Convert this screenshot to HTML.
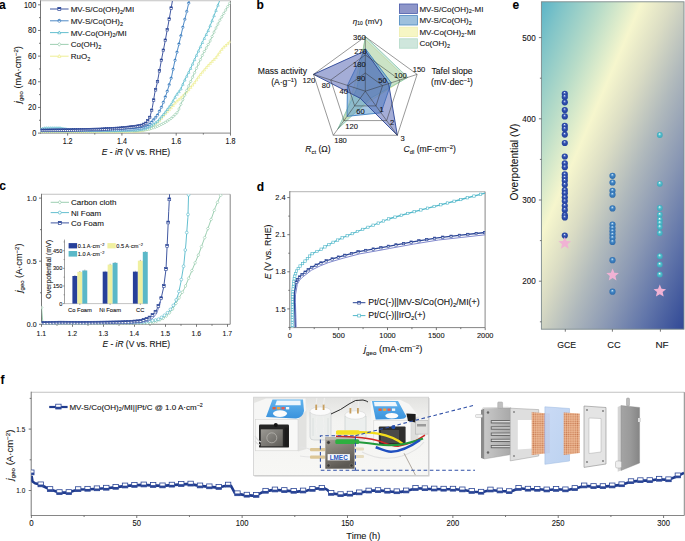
<!DOCTYPE html><html><head><meta charset="utf-8"><style>html,body{margin:0;padding:0;background:#fff;}body{width:685px;height:541px;overflow:hidden;}svg{display:block;font-family:"Liberation Sans", sans-serif;}text{stroke:#222;stroke-width:0.1px;}</style></head><body>
<svg width="685" height="541" viewBox="0 0 685 541">
<defs><clipPath id="clipA"><rect x="40.5" y="0.8" width="190" height="132.3"/></clipPath><clipPath id="clipC"><rect x="41.5" y="194.3" width="188.7" height="130"/></clipPath><clipPath id="clipD"><rect x="289.8" y="191.6" width="195.3" height="136"/></clipPath><clipPath id="clipF"><rect x="31.2" y="392" width="653" height="123.5"/></clipPath><linearGradient id="gE" gradientUnits="userSpaceOnUse" x1="557.5" y1="-36.5" x2="796.9" y2="66.4"><stop offset="0" stop-color="#5ab4c8"/><stop offset="0.08" stop-color="#80c4c8"/><stop offset="0.218" stop-color="#b8dcc8"/><stop offset="0.355" stop-color="#f6f6cd"/><stop offset="0.463" stop-color="#dadcc4"/><stop offset="0.589" stop-color="#b0b9bc"/><stop offset="0.72" stop-color="#8a98b4"/><stop offset="0.843" stop-color="#6276aa"/><stop offset="1" stop-color="#304896"/></linearGradient><radialGradient id="sGCE" cx="0.5" cy="0.5" r="0.55" fx="0.45" fy="0.3"><stop offset="0" stop-color="#f0f4ff"/><stop offset="0.22" stop-color="#6a84cc"/><stop offset="0.45" stop-color="#2f4ead"/><stop offset="1" stop-color="#223f98"/></radialGradient><radialGradient id="sCC" cx="0.5" cy="0.5" r="0.55" fx="0.45" fy="0.3"><stop offset="0" stop-color="#f4faff"/><stop offset="0.22" stop-color="#7ab0dc"/><stop offset="0.45" stop-color="#3f82c2"/><stop offset="1" stop-color="#2e6aa8"/></radialGradient><radialGradient id="sNF" cx="0.5" cy="0.5" r="0.55" fx="0.45" fy="0.3"><stop offset="0" stop-color="#ffffff"/><stop offset="0.22" stop-color="#9adce4"/><stop offset="0.45" stop-color="#52bccb"/><stop offset="1" stop-color="#38a6b8"/></radialGradient></defs>
<text x="-1.00" y="8.80" font-size="12" text-anchor="start" font-weight="bold" fill="#000" >a</text>
<line x1="40.50" y1="0.80" x2="230.50" y2="0.80" stroke="#c2c2c2" stroke-width="1.14" />
<line x1="230.50" y1="0.80" x2="230.50" y2="133.10" stroke="#808080" stroke-width="0.95" />
<line x1="40.50" y1="133.10" x2="230.50" y2="133.10" stroke="#808080" stroke-width="0.95" />
<line x1="40.50" y1="0.30" x2="40.50" y2="133.55" stroke="#707070" stroke-width="0.95" />
<line x1="67.64" y1="133.10" x2="67.64" y2="135.60" stroke="#555" stroke-width="0.8" />
<text x="67.64" y="143.80" font-size="8.4" text-anchor="middle" font-weight="normal" fill="#111" textLength="9.87" lengthAdjust="spacingAndGlyphs">1.2</text>
<line x1="121.92" y1="133.10" x2="121.92" y2="135.60" stroke="#555" stroke-width="0.8" />
<text x="121.92" y="143.80" font-size="8.4" text-anchor="middle" font-weight="normal" fill="#111" textLength="9.87" lengthAdjust="spacingAndGlyphs">1.4</text>
<line x1="176.20" y1="133.10" x2="176.20" y2="135.60" stroke="#555" stroke-width="0.8" />
<text x="176.20" y="143.80" font-size="8.4" text-anchor="middle" font-weight="normal" fill="#111" textLength="9.87" lengthAdjust="spacingAndGlyphs">1.6</text>
<line x1="230.48" y1="133.10" x2="230.48" y2="135.60" stroke="#555" stroke-width="0.8" />
<text x="230.48" y="143.80" font-size="8.4" text-anchor="middle" font-weight="normal" fill="#111" textLength="9.87" lengthAdjust="spacingAndGlyphs">1.8</text>
<line x1="94.78" y1="133.10" x2="94.78" y2="134.60" stroke="#555" stroke-width="0.8" />
<line x1="149.06" y1="133.10" x2="149.06" y2="134.60" stroke="#555" stroke-width="0.8" />
<line x1="203.34" y1="133.10" x2="203.34" y2="134.60" stroke="#555" stroke-width="0.8" />
<line x1="40.50" y1="133.10" x2="38.00" y2="133.10" stroke="#555" stroke-width="0.8" />
<text x="36.20" y="136.10" font-size="8.3" text-anchor="end" font-weight="normal" fill="#111" textLength="4.06" lengthAdjust="spacingAndGlyphs">0</text>
<line x1="40.50" y1="107.44" x2="38.00" y2="107.44" stroke="#555" stroke-width="0.8" />
<text x="36.20" y="110.44" font-size="8.3" text-anchor="end" font-weight="normal" fill="#111" textLength="8.12" lengthAdjust="spacingAndGlyphs">20</text>
<line x1="40.50" y1="81.78" x2="38.00" y2="81.78" stroke="#555" stroke-width="0.8" />
<text x="36.20" y="84.78" font-size="8.3" text-anchor="end" font-weight="normal" fill="#111" textLength="8.12" lengthAdjust="spacingAndGlyphs">40</text>
<line x1="40.50" y1="56.12" x2="38.00" y2="56.12" stroke="#555" stroke-width="0.8" />
<text x="36.20" y="59.12" font-size="8.3" text-anchor="end" font-weight="normal" fill="#111" textLength="8.12" lengthAdjust="spacingAndGlyphs">60</text>
<line x1="40.50" y1="30.46" x2="38.00" y2="30.46" stroke="#555" stroke-width="0.8" />
<text x="36.20" y="33.46" font-size="8.3" text-anchor="end" font-weight="normal" fill="#111" textLength="8.12" lengthAdjust="spacingAndGlyphs">80</text>
<line x1="40.50" y1="4.80" x2="38.00" y2="4.80" stroke="#555" stroke-width="0.8" />
<text x="36.20" y="7.80" font-size="8.3" text-anchor="end" font-weight="normal" fill="#111" textLength="12.18" lengthAdjust="spacingAndGlyphs">100</text>
<line x1="40.50" y1="120.27" x2="39.00" y2="120.27" stroke="#555" stroke-width="0.8" />
<line x1="40.50" y1="94.61" x2="39.00" y2="94.61" stroke="#555" stroke-width="0.8" />
<line x1="40.50" y1="68.95" x2="39.00" y2="68.95" stroke="#555" stroke-width="0.8" />
<line x1="40.50" y1="43.29" x2="39.00" y2="43.29" stroke="#555" stroke-width="0.8" />
<line x1="40.50" y1="17.63" x2="39.00" y2="17.63" stroke="#555" stroke-width="0.8" />
<text x="135.90" y="155.00" font-size="8.5" text-anchor="middle" font-weight="normal" fill="#111" ><tspan font-style="italic">E</tspan> - <tspan font-style="italic">iR</tspan> (V vs. RHE)</text>
<g transform="translate(21.3,74.6) rotate(-90)">
<text x="0.00" y="0.00" font-size="9.3" text-anchor="middle" font-weight="normal" fill="#111" ><tspan font-style="italic">j</tspan><tspan dy="2" font-size="6">geo</tspan><tspan dy="-2">&#8203;</tspan> (mA·cm<tspan dy="-3.4" font-size="6">−2</tspan><tspan dy="3.4">&#8203;</tspan>)</text>
</g>
<g clip-path="url(#clipA)">
<polyline points="40.50,131.60 120.00,131.40 140.00,131.00 150.00,128.50 159.60,120.50 164.40,114.50 171.60,107.30 175.90,102.00 181.30,97.40 187.80,90.90 194.20,83.10 200.70,74.00 208.50,65.00 216.30,57.20 222.70,48.10 230.50,41.20" fill="none" stroke="#ecec88" stroke-width="0.9" stroke-linejoin="round" />
<polygon points="40.50,130.22 41.75,132.60 39.25,132.60" fill="#fff" stroke="#ecec88" stroke-width="0.6"/>
<polygon points="42.45,130.22 43.70,132.60 41.20,132.60" fill="#fff" stroke="#ecec88" stroke-width="0.6"/>
<polygon points="44.40,130.22 45.65,132.59 43.15,132.59" fill="#fff" stroke="#ecec88" stroke-width="0.6"/>
<polygon points="46.35,130.21 47.60,132.59 45.10,132.59" fill="#fff" stroke="#ecec88" stroke-width="0.6"/>
<polygon points="48.30,130.21 49.55,132.58 47.05,132.58" fill="#fff" stroke="#ecec88" stroke-width="0.6"/>
<polygon points="50.25,130.20 51.50,132.58 49.00,132.58" fill="#fff" stroke="#ecec88" stroke-width="0.6"/>
<polygon points="52.20,130.20 53.45,132.57 50.95,132.57" fill="#fff" stroke="#ecec88" stroke-width="0.6"/>
<polygon points="54.15,130.19 55.40,132.57 52.90,132.57" fill="#fff" stroke="#ecec88" stroke-width="0.6"/>
<polygon points="56.10,130.19 57.35,132.56 54.85,132.56" fill="#fff" stroke="#ecec88" stroke-width="0.6"/>
<polygon points="58.05,130.18 59.30,132.56 56.80,132.56" fill="#fff" stroke="#ecec88" stroke-width="0.6"/>
<polygon points="60.00,130.18 61.25,132.55 58.75,132.55" fill="#fff" stroke="#ecec88" stroke-width="0.6"/>
<polygon points="61.95,130.17 63.20,132.55 60.70,132.55" fill="#fff" stroke="#ecec88" stroke-width="0.6"/>
<polygon points="63.90,130.17 65.15,132.54 62.65,132.54" fill="#fff" stroke="#ecec88" stroke-width="0.6"/>
<polygon points="65.85,130.16 67.10,132.54 64.60,132.54" fill="#fff" stroke="#ecec88" stroke-width="0.6"/>
<polygon points="67.80,130.16 69.05,132.53 66.55,132.53" fill="#fff" stroke="#ecec88" stroke-width="0.6"/>
<polygon points="69.75,130.15 71.00,132.53 68.50,132.53" fill="#fff" stroke="#ecec88" stroke-width="0.6"/>
<polygon points="71.70,130.15 72.95,132.52 70.45,132.52" fill="#fff" stroke="#ecec88" stroke-width="0.6"/>
<polygon points="73.65,130.14 74.90,132.52 72.40,132.52" fill="#fff" stroke="#ecec88" stroke-width="0.6"/>
<polygon points="75.60,130.14 76.85,132.51 74.35,132.51" fill="#fff" stroke="#ecec88" stroke-width="0.6"/>
<polygon points="77.55,130.13 78.80,132.51 76.30,132.51" fill="#fff" stroke="#ecec88" stroke-width="0.6"/>
<polygon points="79.50,130.13 80.75,132.50 78.25,132.50" fill="#fff" stroke="#ecec88" stroke-width="0.6"/>
<polygon points="81.45,130.12 82.70,132.50 80.20,132.50" fill="#fff" stroke="#ecec88" stroke-width="0.6"/>
<polygon points="83.40,130.12 84.65,132.49 82.15,132.49" fill="#fff" stroke="#ecec88" stroke-width="0.6"/>
<polygon points="85.35,130.11 86.60,132.49 84.10,132.49" fill="#fff" stroke="#ecec88" stroke-width="0.6"/>
<polygon points="87.30,130.11 88.55,132.48 86.05,132.48" fill="#fff" stroke="#ecec88" stroke-width="0.6"/>
<polygon points="89.25,130.10 90.50,132.48 88.00,132.48" fill="#fff" stroke="#ecec88" stroke-width="0.6"/>
<polygon points="91.20,130.10 92.45,132.47 89.95,132.47" fill="#fff" stroke="#ecec88" stroke-width="0.6"/>
<polygon points="93.15,130.09 94.40,132.47 91.90,132.47" fill="#fff" stroke="#ecec88" stroke-width="0.6"/>
<polygon points="95.10,130.09 96.35,132.46 93.85,132.46" fill="#fff" stroke="#ecec88" stroke-width="0.6"/>
<polygon points="97.05,130.08 98.30,132.46 95.80,132.46" fill="#fff" stroke="#ecec88" stroke-width="0.6"/>
<polygon points="99.00,130.08 100.25,132.45 97.75,132.45" fill="#fff" stroke="#ecec88" stroke-width="0.6"/>
<polygon points="100.95,130.07 102.20,132.45 99.70,132.45" fill="#fff" stroke="#ecec88" stroke-width="0.6"/>
<polygon points="102.90,130.07 104.15,132.44 101.65,132.44" fill="#fff" stroke="#ecec88" stroke-width="0.6"/>
<polygon points="104.85,130.06 106.10,132.44 103.60,132.44" fill="#fff" stroke="#ecec88" stroke-width="0.6"/>
<polygon points="106.80,130.06 108.05,132.43 105.55,132.43" fill="#fff" stroke="#ecec88" stroke-width="0.6"/>
<polygon points="108.75,130.05 110.00,132.43 107.50,132.43" fill="#fff" stroke="#ecec88" stroke-width="0.6"/>
<polygon points="110.70,130.05 111.95,132.42 109.45,132.42" fill="#fff" stroke="#ecec88" stroke-width="0.6"/>
<polygon points="112.65,130.04 113.90,132.42 111.40,132.42" fill="#fff" stroke="#ecec88" stroke-width="0.6"/>
<polygon points="114.60,130.04 115.85,132.41 113.35,132.41" fill="#fff" stroke="#ecec88" stroke-width="0.6"/>
<polygon points="116.55,130.03 117.80,132.41 115.30,132.41" fill="#fff" stroke="#ecec88" stroke-width="0.6"/>
<polygon points="118.50,130.03 119.75,132.40 117.25,132.40" fill="#fff" stroke="#ecec88" stroke-width="0.6"/>
<polygon points="120.45,130.02 121.70,132.39 119.20,132.39" fill="#fff" stroke="#ecec88" stroke-width="0.6"/>
<polygon points="122.40,129.98 123.65,132.35 121.15,132.35" fill="#fff" stroke="#ecec88" stroke-width="0.6"/>
<polygon points="124.35,129.94 125.60,132.31 123.10,132.31" fill="#fff" stroke="#ecec88" stroke-width="0.6"/>
<polygon points="126.30,129.90 127.55,132.27 125.05,132.27" fill="#fff" stroke="#ecec88" stroke-width="0.6"/>
<polygon points="128.25,129.86 129.50,132.24 127.00,132.24" fill="#fff" stroke="#ecec88" stroke-width="0.6"/>
<polygon points="130.20,129.82 131.45,132.20 128.95,132.20" fill="#fff" stroke="#ecec88" stroke-width="0.6"/>
<polygon points="132.15,129.78 133.40,132.16 130.90,132.16" fill="#fff" stroke="#ecec88" stroke-width="0.6"/>
<polygon points="134.10,129.74 135.35,132.12 132.85,132.12" fill="#fff" stroke="#ecec88" stroke-width="0.6"/>
<polygon points="136.05,129.70 137.30,132.08 134.80,132.08" fill="#fff" stroke="#ecec88" stroke-width="0.6"/>
<polygon points="138.00,129.66 139.25,132.04 136.75,132.04" fill="#fff" stroke="#ecec88" stroke-width="0.6"/>
<polygon points="139.95,129.63 141.20,132.00 138.70,132.00" fill="#fff" stroke="#ecec88" stroke-width="0.6"/>
<polygon points="141.90,129.15 143.15,131.52 140.65,131.52" fill="#fff" stroke="#ecec88" stroke-width="0.6"/>
<polygon points="143.85,128.66 145.10,131.04 142.60,131.04" fill="#fff" stroke="#ecec88" stroke-width="0.6"/>
<polygon points="145.80,128.18 147.05,130.55 144.55,130.55" fill="#fff" stroke="#ecec88" stroke-width="0.6"/>
<polygon points="147.75,127.69 149.00,130.06 146.50,130.06" fill="#fff" stroke="#ecec88" stroke-width="0.6"/>
<polygon points="149.70,127.20 150.95,129.57 148.45,129.57" fill="#fff" stroke="#ecec88" stroke-width="0.6"/>
<polygon points="151.65,125.75 152.90,128.12 150.40,128.12" fill="#fff" stroke="#ecec88" stroke-width="0.6"/>
<polygon points="153.60,124.13 154.85,126.50 152.35,126.50" fill="#fff" stroke="#ecec88" stroke-width="0.6"/>
<polygon points="155.55,122.50 156.80,124.88 154.30,124.88" fill="#fff" stroke="#ecec88" stroke-width="0.6"/>
<polygon points="157.50,120.88 158.75,123.25 156.25,123.25" fill="#fff" stroke="#ecec88" stroke-width="0.6"/>
<polygon points="159.45,119.25 160.70,121.63 158.20,121.63" fill="#fff" stroke="#ecec88" stroke-width="0.6"/>
<polygon points="161.40,116.88 162.65,119.25 160.15,119.25" fill="#fff" stroke="#ecec88" stroke-width="0.6"/>
<polygon points="163.35,114.44 164.60,116.81 162.10,116.81" fill="#fff" stroke="#ecec88" stroke-width="0.6"/>
<polygon points="165.30,112.23 166.55,114.60 164.05,114.60" fill="#fff" stroke="#ecec88" stroke-width="0.6"/>
<polygon points="167.25,110.28 168.50,112.65 166.00,112.65" fill="#fff" stroke="#ecec88" stroke-width="0.6"/>
<polygon points="169.20,108.33 170.45,110.70 167.95,110.70" fill="#fff" stroke="#ecec88" stroke-width="0.6"/>
<polygon points="171.15,106.38 172.40,108.75 169.90,108.75" fill="#fff" stroke="#ecec88" stroke-width="0.6"/>
<polygon points="173.10,104.08 174.35,106.45 171.85,106.45" fill="#fff" stroke="#ecec88" stroke-width="0.6"/>
<polygon points="175.05,101.67 176.30,104.05 173.80,104.05" fill="#fff" stroke="#ecec88" stroke-width="0.6"/>
<polygon points="177.00,99.69 178.25,102.06 175.75,102.06" fill="#fff" stroke="#ecec88" stroke-width="0.6"/>
<polygon points="178.95,98.03 180.20,100.40 177.70,100.40" fill="#fff" stroke="#ecec88" stroke-width="0.6"/>
<polygon points="180.90,96.37 182.15,98.74 179.65,98.74" fill="#fff" stroke="#ecec88" stroke-width="0.6"/>
<polygon points="182.85,94.48 184.10,96.85 181.60,96.85" fill="#fff" stroke="#ecec88" stroke-width="0.6"/>
<polygon points="184.80,92.53 186.05,94.90 183.55,94.90" fill="#fff" stroke="#ecec88" stroke-width="0.6"/>
<polygon points="186.75,90.58 188.00,92.95 185.50,92.95" fill="#fff" stroke="#ecec88" stroke-width="0.6"/>
<polygon points="188.70,88.43 189.95,90.80 187.45,90.80" fill="#fff" stroke="#ecec88" stroke-width="0.6"/>
<polygon points="190.65,86.05 191.90,88.43 189.40,88.43" fill="#fff" stroke="#ecec88" stroke-width="0.6"/>
<polygon points="192.60,83.68 193.85,86.05 191.35,86.05" fill="#fff" stroke="#ecec88" stroke-width="0.6"/>
<polygon points="194.55,81.24 195.80,83.61 193.30,83.61" fill="#fff" stroke="#ecec88" stroke-width="0.6"/>
<polygon points="196.50,78.51 197.75,80.88 195.25,80.88" fill="#fff" stroke="#ecec88" stroke-width="0.6"/>
<polygon points="198.45,75.78 199.70,78.15 197.20,78.15" fill="#fff" stroke="#ecec88" stroke-width="0.6"/>
<polygon points="200.40,73.05 201.65,75.42 199.15,75.42" fill="#fff" stroke="#ecec88" stroke-width="0.6"/>
<polygon points="202.35,70.72 203.60,73.10 201.10,73.10" fill="#fff" stroke="#ecec88" stroke-width="0.6"/>
<polygon points="204.30,68.47 205.55,70.85 203.05,70.85" fill="#fff" stroke="#ecec88" stroke-width="0.6"/>
<polygon points="206.25,66.22 207.50,68.60 205.00,68.60" fill="#fff" stroke="#ecec88" stroke-width="0.6"/>
<polygon points="208.20,63.97 209.45,66.35 206.95,66.35" fill="#fff" stroke="#ecec88" stroke-width="0.6"/>
<polygon points="210.15,61.98 211.40,64.35 208.90,64.35" fill="#fff" stroke="#ecec88" stroke-width="0.6"/>
<polygon points="212.10,60.03 213.35,62.40 210.85,62.40" fill="#fff" stroke="#ecec88" stroke-width="0.6"/>
<polygon points="214.05,58.08 215.30,60.45 212.80,60.45" fill="#fff" stroke="#ecec88" stroke-width="0.6"/>
<polygon points="216.00,56.13 217.25,58.50 214.75,58.50" fill="#fff" stroke="#ecec88" stroke-width="0.6"/>
<polygon points="217.95,53.48 219.20,55.85 216.70,55.85" fill="#fff" stroke="#ecec88" stroke-width="0.6"/>
<polygon points="219.90,50.71 221.15,53.08 218.65,53.08" fill="#fff" stroke="#ecec88" stroke-width="0.6"/>
<polygon points="221.85,47.93 223.10,50.31 220.60,50.31" fill="#fff" stroke="#ecec88" stroke-width="0.6"/>
<polygon points="223.80,45.75 225.05,48.13 222.55,48.13" fill="#fff" stroke="#ecec88" stroke-width="0.6"/>
<polygon points="225.75,44.03 227.00,46.40 224.50,46.40" fill="#fff" stroke="#ecec88" stroke-width="0.6"/>
<polygon points="227.70,42.30 228.95,44.68 226.45,44.68" fill="#fff" stroke="#ecec88" stroke-width="0.6"/>
<polygon points="229.65,40.58 230.90,42.95 228.40,42.95" fill="#fff" stroke="#ecec88" stroke-width="0.6"/>
</g>
<g clip-path="url(#clipA)">
<polyline points="40.50,131.10 100.00,131.10 135.00,130.70 145.00,129.90 150.00,128.90 157.20,126.50 164.40,122.90 171.60,118.10 177.70,112.10 181.00,104.00 183.90,97.40 186.50,90.90 191.70,79.20 196.80,67.60 203.30,53.30 209.80,41.70 215.00,30.00 220.00,20.00 224.70,11.80 229.80,3.00" fill="none" stroke="#92c9a9" stroke-width="0.9" stroke-linejoin="round" />
<polygon points="40.50,129.60 41.75,131.10 40.50,132.60 39.25,131.10" fill="#fff" stroke="#92c9a9" stroke-width="0.6"/>
<polygon points="42.45,129.60 43.70,131.10 42.45,132.60 41.20,131.10" fill="#fff" stroke="#92c9a9" stroke-width="0.6"/>
<polygon points="44.40,129.60 45.65,131.10 44.40,132.60 43.15,131.10" fill="#fff" stroke="#92c9a9" stroke-width="0.6"/>
<polygon points="46.35,129.60 47.60,131.10 46.35,132.60 45.10,131.10" fill="#fff" stroke="#92c9a9" stroke-width="0.6"/>
<polygon points="48.30,129.60 49.55,131.10 48.30,132.60 47.05,131.10" fill="#fff" stroke="#92c9a9" stroke-width="0.6"/>
<polygon points="50.25,129.60 51.50,131.10 50.25,132.60 49.00,131.10" fill="#fff" stroke="#92c9a9" stroke-width="0.6"/>
<polygon points="52.20,129.60 53.45,131.10 52.20,132.60 50.95,131.10" fill="#fff" stroke="#92c9a9" stroke-width="0.6"/>
<polygon points="54.15,129.60 55.40,131.10 54.15,132.60 52.90,131.10" fill="#fff" stroke="#92c9a9" stroke-width="0.6"/>
<polygon points="56.10,129.60 57.35,131.10 56.10,132.60 54.85,131.10" fill="#fff" stroke="#92c9a9" stroke-width="0.6"/>
<polygon points="58.05,129.60 59.30,131.10 58.05,132.60 56.80,131.10" fill="#fff" stroke="#92c9a9" stroke-width="0.6"/>
<polygon points="60.00,129.60 61.25,131.10 60.00,132.60 58.75,131.10" fill="#fff" stroke="#92c9a9" stroke-width="0.6"/>
<polygon points="61.95,129.60 63.20,131.10 61.95,132.60 60.70,131.10" fill="#fff" stroke="#92c9a9" stroke-width="0.6"/>
<polygon points="63.90,129.60 65.15,131.10 63.90,132.60 62.65,131.10" fill="#fff" stroke="#92c9a9" stroke-width="0.6"/>
<polygon points="65.85,129.60 67.10,131.10 65.85,132.60 64.60,131.10" fill="#fff" stroke="#92c9a9" stroke-width="0.6"/>
<polygon points="67.80,129.60 69.05,131.10 67.80,132.60 66.55,131.10" fill="#fff" stroke="#92c9a9" stroke-width="0.6"/>
<polygon points="69.75,129.60 71.00,131.10 69.75,132.60 68.50,131.10" fill="#fff" stroke="#92c9a9" stroke-width="0.6"/>
<polygon points="71.70,129.60 72.95,131.10 71.70,132.60 70.45,131.10" fill="#fff" stroke="#92c9a9" stroke-width="0.6"/>
<polygon points="73.65,129.60 74.90,131.10 73.65,132.60 72.40,131.10" fill="#fff" stroke="#92c9a9" stroke-width="0.6"/>
<polygon points="75.60,129.60 76.85,131.10 75.60,132.60 74.35,131.10" fill="#fff" stroke="#92c9a9" stroke-width="0.6"/>
<polygon points="77.55,129.60 78.80,131.10 77.55,132.60 76.30,131.10" fill="#fff" stroke="#92c9a9" stroke-width="0.6"/>
<polygon points="79.50,129.60 80.75,131.10 79.50,132.60 78.25,131.10" fill="#fff" stroke="#92c9a9" stroke-width="0.6"/>
<polygon points="81.45,129.60 82.70,131.10 81.45,132.60 80.20,131.10" fill="#fff" stroke="#92c9a9" stroke-width="0.6"/>
<polygon points="83.40,129.60 84.65,131.10 83.40,132.60 82.15,131.10" fill="#fff" stroke="#92c9a9" stroke-width="0.6"/>
<polygon points="85.35,129.60 86.60,131.10 85.35,132.60 84.10,131.10" fill="#fff" stroke="#92c9a9" stroke-width="0.6"/>
<polygon points="87.30,129.60 88.55,131.10 87.30,132.60 86.05,131.10" fill="#fff" stroke="#92c9a9" stroke-width="0.6"/>
<polygon points="89.25,129.60 90.50,131.10 89.25,132.60 88.00,131.10" fill="#fff" stroke="#92c9a9" stroke-width="0.6"/>
<polygon points="91.20,129.60 92.45,131.10 91.20,132.60 89.95,131.10" fill="#fff" stroke="#92c9a9" stroke-width="0.6"/>
<polygon points="93.15,129.60 94.40,131.10 93.15,132.60 91.90,131.10" fill="#fff" stroke="#92c9a9" stroke-width="0.6"/>
<polygon points="95.10,129.60 96.35,131.10 95.10,132.60 93.85,131.10" fill="#fff" stroke="#92c9a9" stroke-width="0.6"/>
<polygon points="97.05,129.60 98.30,131.10 97.05,132.60 95.80,131.10" fill="#fff" stroke="#92c9a9" stroke-width="0.6"/>
<polygon points="99.00,129.60 100.25,131.10 99.00,132.60 97.75,131.10" fill="#fff" stroke="#92c9a9" stroke-width="0.6"/>
<polygon points="100.95,129.59 102.20,131.09 100.95,132.59 99.70,131.09" fill="#fff" stroke="#92c9a9" stroke-width="0.6"/>
<polygon points="102.90,129.57 104.15,131.07 102.90,132.57 101.65,131.07" fill="#fff" stroke="#92c9a9" stroke-width="0.6"/>
<polygon points="104.85,129.54 106.10,131.04 104.85,132.54 103.60,131.04" fill="#fff" stroke="#92c9a9" stroke-width="0.6"/>
<polygon points="106.80,129.52 108.05,131.02 106.80,132.52 105.55,131.02" fill="#fff" stroke="#92c9a9" stroke-width="0.6"/>
<polygon points="108.75,129.50 110.00,131.00 108.75,132.50 107.50,131.00" fill="#fff" stroke="#92c9a9" stroke-width="0.6"/>
<polygon points="110.70,129.48 111.95,130.98 110.70,132.48 109.45,130.98" fill="#fff" stroke="#92c9a9" stroke-width="0.6"/>
<polygon points="112.65,129.46 113.90,130.96 112.65,132.46 111.40,130.96" fill="#fff" stroke="#92c9a9" stroke-width="0.6"/>
<polygon points="114.60,129.43 115.85,130.93 114.60,132.43 113.35,130.93" fill="#fff" stroke="#92c9a9" stroke-width="0.6"/>
<polygon points="116.55,129.41 117.80,130.91 116.55,132.41 115.30,130.91" fill="#fff" stroke="#92c9a9" stroke-width="0.6"/>
<polygon points="118.50,129.39 119.75,130.89 118.50,132.39 117.25,130.89" fill="#fff" stroke="#92c9a9" stroke-width="0.6"/>
<polygon points="120.45,129.37 121.70,130.87 120.45,132.37 119.20,130.87" fill="#fff" stroke="#92c9a9" stroke-width="0.6"/>
<polygon points="122.40,129.34 123.65,130.84 122.40,132.34 121.15,130.84" fill="#fff" stroke="#92c9a9" stroke-width="0.6"/>
<polygon points="124.35,129.32 125.60,130.82 124.35,132.32 123.10,130.82" fill="#fff" stroke="#92c9a9" stroke-width="0.6"/>
<polygon points="126.30,129.30 127.55,130.80 126.30,132.30 125.05,130.80" fill="#fff" stroke="#92c9a9" stroke-width="0.6"/>
<polygon points="128.25,129.28 129.50,130.78 128.25,132.28 127.00,130.78" fill="#fff" stroke="#92c9a9" stroke-width="0.6"/>
<polygon points="130.20,129.25 131.45,130.75 130.20,132.25 128.95,130.75" fill="#fff" stroke="#92c9a9" stroke-width="0.6"/>
<polygon points="132.15,129.23 133.40,130.73 132.15,132.23 130.90,130.73" fill="#fff" stroke="#92c9a9" stroke-width="0.6"/>
<polygon points="134.10,129.21 135.35,130.71 134.10,132.21 132.85,130.71" fill="#fff" stroke="#92c9a9" stroke-width="0.6"/>
<polygon points="136.05,129.12 137.30,130.62 136.05,132.12 134.80,130.62" fill="#fff" stroke="#92c9a9" stroke-width="0.6"/>
<polygon points="138.00,128.96 139.25,130.46 138.00,131.96 136.75,130.46" fill="#fff" stroke="#92c9a9" stroke-width="0.6"/>
<polygon points="139.95,128.80 141.20,130.30 139.95,131.80 138.70,130.30" fill="#fff" stroke="#92c9a9" stroke-width="0.6"/>
<polygon points="141.90,128.65 143.15,130.15 141.90,131.65 140.65,130.15" fill="#fff" stroke="#92c9a9" stroke-width="0.6"/>
<polygon points="143.85,128.49 145.10,129.99 143.85,131.49 142.60,129.99" fill="#fff" stroke="#92c9a9" stroke-width="0.6"/>
<polygon points="145.80,128.24 147.05,129.74 145.80,131.24 144.55,129.74" fill="#fff" stroke="#92c9a9" stroke-width="0.6"/>
<polygon points="147.75,127.85 149.00,129.35 147.75,130.85 146.50,129.35" fill="#fff" stroke="#92c9a9" stroke-width="0.6"/>
<polygon points="149.70,127.46 150.95,128.96 149.70,130.46 148.45,128.96" fill="#fff" stroke="#92c9a9" stroke-width="0.6"/>
<polygon points="151.65,126.85 152.90,128.35 151.65,129.85 150.40,128.35" fill="#fff" stroke="#92c9a9" stroke-width="0.6"/>
<polygon points="153.60,126.20 154.85,127.70 153.60,129.20 152.35,127.70" fill="#fff" stroke="#92c9a9" stroke-width="0.6"/>
<polygon points="155.55,125.55 156.80,127.05 155.55,128.55 154.30,127.05" fill="#fff" stroke="#92c9a9" stroke-width="0.6"/>
<polygon points="157.50,124.85 158.75,126.35 157.50,127.85 156.25,126.35" fill="#fff" stroke="#92c9a9" stroke-width="0.6"/>
<polygon points="159.45,123.88 160.70,125.38 159.45,126.88 158.20,125.38" fill="#fff" stroke="#92c9a9" stroke-width="0.6"/>
<polygon points="161.40,122.90 162.65,124.40 161.40,125.90 160.15,124.40" fill="#fff" stroke="#92c9a9" stroke-width="0.6"/>
<polygon points="163.35,121.93 164.60,123.43 163.35,124.93 162.10,123.43" fill="#fff" stroke="#92c9a9" stroke-width="0.6"/>
<polygon points="165.30,120.80 166.55,122.30 165.30,123.80 164.05,122.30" fill="#fff" stroke="#92c9a9" stroke-width="0.6"/>
<polygon points="167.25,119.50 168.50,121.00 167.25,122.50 166.00,121.00" fill="#fff" stroke="#92c9a9" stroke-width="0.6"/>
<polygon points="169.20,118.20 170.45,119.70 169.20,121.20 167.95,119.70" fill="#fff" stroke="#92c9a9" stroke-width="0.6"/>
<polygon points="171.15,116.90 172.40,118.40 171.15,119.90 169.90,118.40" fill="#fff" stroke="#92c9a9" stroke-width="0.6"/>
<polygon points="173.10,115.12 174.35,116.62 173.10,118.12 171.85,116.62" fill="#fff" stroke="#92c9a9" stroke-width="0.6"/>
<polygon points="175.05,113.21 176.30,114.71 175.05,116.21 173.80,114.71" fill="#fff" stroke="#92c9a9" stroke-width="0.6"/>
<polygon points="177.00,111.29 178.25,112.79 177.00,114.29 175.75,112.79" fill="#fff" stroke="#92c9a9" stroke-width="0.6"/>
<polygon points="178.95,107.53 180.20,109.03 178.95,110.53 177.70,109.03" fill="#fff" stroke="#92c9a9" stroke-width="0.6"/>
<polygon points="180.90,102.75 182.15,104.25 180.90,105.75 179.65,104.25" fill="#fff" stroke="#92c9a9" stroke-width="0.6"/>
<polygon points="182.85,98.29 184.10,99.79 182.85,101.29 181.60,99.79" fill="#fff" stroke="#92c9a9" stroke-width="0.6"/>
<polygon points="184.80,93.65 186.05,95.15 184.80,96.65 183.55,95.15" fill="#fff" stroke="#92c9a9" stroke-width="0.6"/>
<polygon points="186.75,88.84 188.00,90.34 186.75,91.84 185.50,90.34" fill="#fff" stroke="#92c9a9" stroke-width="0.6"/>
<polygon points="188.70,84.45 189.95,85.95 188.70,87.45 187.45,85.95" fill="#fff" stroke="#92c9a9" stroke-width="0.6"/>
<polygon points="190.65,80.06 191.90,81.56 190.65,83.06 189.40,81.56" fill="#fff" stroke="#92c9a9" stroke-width="0.6"/>
<polygon points="192.60,75.65 193.85,77.15 192.60,78.65 191.35,77.15" fill="#fff" stroke="#92c9a9" stroke-width="0.6"/>
<polygon points="194.55,71.22 195.80,72.72 194.55,74.22 193.30,72.72" fill="#fff" stroke="#92c9a9" stroke-width="0.6"/>
<polygon points="196.50,66.78 197.75,68.28 196.50,69.78 195.25,68.28" fill="#fff" stroke="#92c9a9" stroke-width="0.6"/>
<polygon points="198.45,62.47 199.70,63.97 198.45,65.47 197.20,63.97" fill="#fff" stroke="#92c9a9" stroke-width="0.6"/>
<polygon points="200.40,58.18 201.65,59.68 200.40,61.18 199.15,59.68" fill="#fff" stroke="#92c9a9" stroke-width="0.6"/>
<polygon points="202.35,53.89 203.60,55.39 202.35,56.89 201.10,55.39" fill="#fff" stroke="#92c9a9" stroke-width="0.6"/>
<polygon points="204.30,50.02 205.55,51.52 204.30,53.02 203.05,51.52" fill="#fff" stroke="#92c9a9" stroke-width="0.6"/>
<polygon points="206.25,46.54 207.50,48.04 206.25,49.54 205.00,48.04" fill="#fff" stroke="#92c9a9" stroke-width="0.6"/>
<polygon points="208.20,43.06 209.45,44.56 208.20,46.06 206.95,44.56" fill="#fff" stroke="#92c9a9" stroke-width="0.6"/>
<polygon points="210.15,39.41 211.40,40.91 210.15,42.41 208.90,40.91" fill="#fff" stroke="#92c9a9" stroke-width="0.6"/>
<polygon points="212.10,35.03 213.35,36.53 212.10,38.03 210.85,36.53" fill="#fff" stroke="#92c9a9" stroke-width="0.6"/>
<polygon points="214.05,30.64 215.30,32.14 214.05,33.64 212.80,32.14" fill="#fff" stroke="#92c9a9" stroke-width="0.6"/>
<polygon points="216.00,26.50 217.25,28.00 216.00,29.50 214.75,28.00" fill="#fff" stroke="#92c9a9" stroke-width="0.6"/>
<polygon points="217.95,22.60 219.20,24.10 217.95,25.60 216.70,24.10" fill="#fff" stroke="#92c9a9" stroke-width="0.6"/>
<polygon points="219.90,18.70 221.15,20.20 219.90,21.70 218.65,20.20" fill="#fff" stroke="#92c9a9" stroke-width="0.6"/>
<polygon points="221.85,15.27 223.10,16.77 221.85,18.27 220.60,16.77" fill="#fff" stroke="#92c9a9" stroke-width="0.6"/>
<polygon points="223.80,11.87 225.05,13.37 223.80,14.87 222.55,13.37" fill="#fff" stroke="#92c9a9" stroke-width="0.6"/>
<polygon points="225.75,8.49 227.00,9.99 225.75,11.49 224.50,9.99" fill="#fff" stroke="#92c9a9" stroke-width="0.6"/>
<polygon points="227.70,5.12 228.95,6.62 227.70,8.12 226.45,6.62" fill="#fff" stroke="#92c9a9" stroke-width="0.6"/>
<polygon points="229.65,1.76 230.90,3.26 229.65,4.76 228.40,3.26" fill="#fff" stroke="#92c9a9" stroke-width="0.6"/>
</g>
<g clip-path="url(#clipA)">
<polyline points="40.50,129.00 45.00,128.00 60.00,128.00 68.00,129.40 80.00,130.40 120.00,130.60 138.00,129.90 145.00,128.50 150.00,126.50 157.20,121.70 164.40,113.30 171.60,103.70 176.00,95.50 180.60,89.60 183.90,81.80 190.40,68.90 196.80,54.60 203.30,40.40 208.50,30.00 214.30,15.00 219.50,1.00" fill="none" stroke="#52b8ca" stroke-width="0.9" stroke-linejoin="round" />
<polygon points="40.50,127.62 41.75,130.00 39.25,130.00" fill="#fff" stroke="#52b8ca" stroke-width="0.6"/>
<polygon points="42.45,127.19 43.70,129.57 41.20,129.57" fill="#fff" stroke="#52b8ca" stroke-width="0.6"/>
<polygon points="44.40,126.76 45.65,129.13 43.15,129.13" fill="#fff" stroke="#52b8ca" stroke-width="0.6"/>
<polygon points="46.35,126.62 47.60,129.00 45.10,129.00" fill="#fff" stroke="#52b8ca" stroke-width="0.6"/>
<polygon points="48.30,126.62 49.55,129.00 47.05,129.00" fill="#fff" stroke="#52b8ca" stroke-width="0.6"/>
<polygon points="50.25,126.62 51.50,129.00 49.00,129.00" fill="#fff" stroke="#52b8ca" stroke-width="0.6"/>
<polygon points="52.20,126.62 53.45,129.00 50.95,129.00" fill="#fff" stroke="#52b8ca" stroke-width="0.6"/>
<polygon points="54.15,126.62 55.40,129.00 52.90,129.00" fill="#fff" stroke="#52b8ca" stroke-width="0.6"/>
<polygon points="56.10,126.62 57.35,129.00 54.85,129.00" fill="#fff" stroke="#52b8ca" stroke-width="0.6"/>
<polygon points="58.05,126.62 59.30,129.00 56.80,129.00" fill="#fff" stroke="#52b8ca" stroke-width="0.6"/>
<polygon points="60.00,126.62 61.25,129.00 58.75,129.00" fill="#fff" stroke="#52b8ca" stroke-width="0.6"/>
<polygon points="61.95,126.97 63.20,129.34 60.70,129.34" fill="#fff" stroke="#52b8ca" stroke-width="0.6"/>
<polygon points="63.90,127.31 65.15,129.68 62.65,129.68" fill="#fff" stroke="#52b8ca" stroke-width="0.6"/>
<polygon points="65.85,127.65 67.10,130.02 64.60,130.02" fill="#fff" stroke="#52b8ca" stroke-width="0.6"/>
<polygon points="67.80,127.99 69.05,130.37 66.55,130.37" fill="#fff" stroke="#52b8ca" stroke-width="0.6"/>
<polygon points="69.75,128.17 71.00,130.55 68.50,130.55" fill="#fff" stroke="#52b8ca" stroke-width="0.6"/>
<polygon points="71.70,128.33 72.95,130.71 70.45,130.71" fill="#fff" stroke="#52b8ca" stroke-width="0.6"/>
<polygon points="73.65,128.50 74.90,130.87 72.40,130.87" fill="#fff" stroke="#52b8ca" stroke-width="0.6"/>
<polygon points="75.60,128.66 76.85,131.03 74.35,131.03" fill="#fff" stroke="#52b8ca" stroke-width="0.6"/>
<polygon points="77.55,128.82 78.80,131.20 76.30,131.20" fill="#fff" stroke="#52b8ca" stroke-width="0.6"/>
<polygon points="79.50,128.98 80.75,131.36 78.25,131.36" fill="#fff" stroke="#52b8ca" stroke-width="0.6"/>
<polygon points="81.45,129.03 82.70,131.41 80.20,131.41" fill="#fff" stroke="#52b8ca" stroke-width="0.6"/>
<polygon points="83.40,129.04 84.65,131.42 82.15,131.42" fill="#fff" stroke="#52b8ca" stroke-width="0.6"/>
<polygon points="85.35,129.05 86.60,131.43 84.10,131.43" fill="#fff" stroke="#52b8ca" stroke-width="0.6"/>
<polygon points="87.30,129.06 88.55,131.44 86.05,131.44" fill="#fff" stroke="#52b8ca" stroke-width="0.6"/>
<polygon points="89.25,129.07 90.50,131.45 88.00,131.45" fill="#fff" stroke="#52b8ca" stroke-width="0.6"/>
<polygon points="91.20,129.08 92.45,131.46 89.95,131.46" fill="#fff" stroke="#52b8ca" stroke-width="0.6"/>
<polygon points="93.15,129.09 94.40,131.47 91.90,131.47" fill="#fff" stroke="#52b8ca" stroke-width="0.6"/>
<polygon points="95.10,129.10 96.35,131.48 93.85,131.48" fill="#fff" stroke="#52b8ca" stroke-width="0.6"/>
<polygon points="97.05,129.11 98.30,131.49 95.80,131.49" fill="#fff" stroke="#52b8ca" stroke-width="0.6"/>
<polygon points="99.00,129.12 100.25,131.50 97.75,131.50" fill="#fff" stroke="#52b8ca" stroke-width="0.6"/>
<polygon points="100.95,129.13 102.20,131.50 99.70,131.50" fill="#fff" stroke="#52b8ca" stroke-width="0.6"/>
<polygon points="102.90,129.14 104.15,131.51 101.65,131.51" fill="#fff" stroke="#52b8ca" stroke-width="0.6"/>
<polygon points="104.85,129.15 106.10,131.52 103.60,131.52" fill="#fff" stroke="#52b8ca" stroke-width="0.6"/>
<polygon points="106.80,129.16 108.05,131.53 105.55,131.53" fill="#fff" stroke="#52b8ca" stroke-width="0.6"/>
<polygon points="108.75,129.17 110.00,131.54 107.50,131.54" fill="#fff" stroke="#52b8ca" stroke-width="0.6"/>
<polygon points="110.70,129.18 111.95,131.55 109.45,131.55" fill="#fff" stroke="#52b8ca" stroke-width="0.6"/>
<polygon points="112.65,129.19 113.90,131.56 111.40,131.56" fill="#fff" stroke="#52b8ca" stroke-width="0.6"/>
<polygon points="114.60,129.20 115.85,131.57 113.35,131.57" fill="#fff" stroke="#52b8ca" stroke-width="0.6"/>
<polygon points="116.55,129.21 117.80,131.58 115.30,131.58" fill="#fff" stroke="#52b8ca" stroke-width="0.6"/>
<polygon points="118.50,129.22 119.75,131.59 117.25,131.59" fill="#fff" stroke="#52b8ca" stroke-width="0.6"/>
<polygon points="120.45,129.21 121.70,131.58 119.20,131.58" fill="#fff" stroke="#52b8ca" stroke-width="0.6"/>
<polygon points="122.40,129.13 123.65,131.51 121.15,131.51" fill="#fff" stroke="#52b8ca" stroke-width="0.6"/>
<polygon points="124.35,129.06 125.60,131.43 123.10,131.43" fill="#fff" stroke="#52b8ca" stroke-width="0.6"/>
<polygon points="126.30,128.98 127.55,131.35 125.05,131.35" fill="#fff" stroke="#52b8ca" stroke-width="0.6"/>
<polygon points="128.25,128.90 129.50,131.28 127.00,131.28" fill="#fff" stroke="#52b8ca" stroke-width="0.6"/>
<polygon points="130.20,128.83 131.45,131.20 128.95,131.20" fill="#fff" stroke="#52b8ca" stroke-width="0.6"/>
<polygon points="132.15,128.75 133.40,131.13 130.90,131.13" fill="#fff" stroke="#52b8ca" stroke-width="0.6"/>
<polygon points="134.10,128.68 135.35,131.05 132.85,131.05" fill="#fff" stroke="#52b8ca" stroke-width="0.6"/>
<polygon points="136.05,128.60 137.30,130.98 134.80,130.98" fill="#fff" stroke="#52b8ca" stroke-width="0.6"/>
<polygon points="138.00,128.53 139.25,130.90 136.75,130.90" fill="#fff" stroke="#52b8ca" stroke-width="0.6"/>
<polygon points="139.95,128.13 141.20,130.51 138.70,130.51" fill="#fff" stroke="#52b8ca" stroke-width="0.6"/>
<polygon points="141.90,127.75 143.15,130.12 140.65,130.12" fill="#fff" stroke="#52b8ca" stroke-width="0.6"/>
<polygon points="143.85,127.35 145.10,129.73 142.60,129.73" fill="#fff" stroke="#52b8ca" stroke-width="0.6"/>
<polygon points="145.80,126.81 147.05,129.18 144.55,129.18" fill="#fff" stroke="#52b8ca" stroke-width="0.6"/>
<polygon points="147.75,126.03 149.00,128.40 146.50,128.40" fill="#fff" stroke="#52b8ca" stroke-width="0.6"/>
<polygon points="149.70,125.25 150.95,127.62 148.45,127.62" fill="#fff" stroke="#52b8ca" stroke-width="0.6"/>
<polygon points="151.65,124.03 152.90,126.40 150.40,126.40" fill="#fff" stroke="#52b8ca" stroke-width="0.6"/>
<polygon points="153.60,122.73 154.85,125.10 152.35,125.10" fill="#fff" stroke="#52b8ca" stroke-width="0.6"/>
<polygon points="155.55,121.43 156.80,123.80 154.30,123.80" fill="#fff" stroke="#52b8ca" stroke-width="0.6"/>
<polygon points="157.50,119.98 158.75,122.35 156.25,122.35" fill="#fff" stroke="#52b8ca" stroke-width="0.6"/>
<polygon points="159.45,117.70 160.70,120.08 158.20,120.08" fill="#fff" stroke="#52b8ca" stroke-width="0.6"/>
<polygon points="161.40,115.43 162.65,117.80 160.15,117.80" fill="#fff" stroke="#52b8ca" stroke-width="0.6"/>
<polygon points="163.35,113.15 164.60,115.53 162.10,115.53" fill="#fff" stroke="#52b8ca" stroke-width="0.6"/>
<polygon points="165.30,110.73 166.55,113.10 164.05,113.10" fill="#fff" stroke="#52b8ca" stroke-width="0.6"/>
<polygon points="167.25,108.13 168.50,110.50 166.00,110.50" fill="#fff" stroke="#52b8ca" stroke-width="0.6"/>
<polygon points="169.20,105.53 170.45,107.90 167.95,107.90" fill="#fff" stroke="#52b8ca" stroke-width="0.6"/>
<polygon points="171.15,102.93 172.40,105.30 169.90,105.30" fill="#fff" stroke="#52b8ca" stroke-width="0.6"/>
<polygon points="173.10,99.53 174.35,101.90 171.85,101.90" fill="#fff" stroke="#52b8ca" stroke-width="0.6"/>
<polygon points="175.05,95.90 176.30,98.27 173.80,98.27" fill="#fff" stroke="#52b8ca" stroke-width="0.6"/>
<polygon points="177.00,92.84 178.25,95.22 175.75,95.22" fill="#fff" stroke="#52b8ca" stroke-width="0.6"/>
<polygon points="178.95,90.34 180.20,92.72 177.70,92.72" fill="#fff" stroke="#52b8ca" stroke-width="0.6"/>
<polygon points="180.90,87.52 182.15,89.89 179.65,89.89" fill="#fff" stroke="#52b8ca" stroke-width="0.6"/>
<polygon points="182.85,82.91 184.10,85.28 181.60,85.28" fill="#fff" stroke="#52b8ca" stroke-width="0.6"/>
<polygon points="184.80,78.64 186.05,81.01 183.55,81.01" fill="#fff" stroke="#52b8ca" stroke-width="0.6"/>
<polygon points="186.75,74.77 188.00,77.14 185.50,77.14" fill="#fff" stroke="#52b8ca" stroke-width="0.6"/>
<polygon points="188.70,70.90 189.95,73.27 187.45,73.27" fill="#fff" stroke="#52b8ca" stroke-width="0.6"/>
<polygon points="190.65,66.97 191.90,69.34 189.40,69.34" fill="#fff" stroke="#52b8ca" stroke-width="0.6"/>
<polygon points="192.60,62.61 193.85,64.98 191.35,64.98" fill="#fff" stroke="#52b8ca" stroke-width="0.6"/>
<polygon points="194.55,58.25 195.80,60.63 193.30,60.63" fill="#fff" stroke="#52b8ca" stroke-width="0.6"/>
<polygon points="196.50,53.90 197.75,56.27 195.25,56.27" fill="#fff" stroke="#52b8ca" stroke-width="0.6"/>
<polygon points="198.45,49.62 199.70,52.00 197.20,52.00" fill="#fff" stroke="#52b8ca" stroke-width="0.6"/>
<polygon points="200.40,45.36 201.65,47.74 199.15,47.74" fill="#fff" stroke="#52b8ca" stroke-width="0.6"/>
<polygon points="202.35,41.10 203.60,43.48 201.10,43.48" fill="#fff" stroke="#52b8ca" stroke-width="0.6"/>
<polygon points="204.30,37.03 205.55,39.40 203.05,39.40" fill="#fff" stroke="#52b8ca" stroke-width="0.6"/>
<polygon points="206.25,33.13 207.50,35.50 205.00,35.50" fill="#fff" stroke="#52b8ca" stroke-width="0.6"/>
<polygon points="208.20,29.23 209.45,31.60 206.95,31.60" fill="#fff" stroke="#52b8ca" stroke-width="0.6"/>
<polygon points="210.15,24.36 211.40,26.73 208.90,26.73" fill="#fff" stroke="#52b8ca" stroke-width="0.6"/>
<polygon points="212.10,19.31 213.35,21.69 210.85,21.69" fill="#fff" stroke="#52b8ca" stroke-width="0.6"/>
<polygon points="214.05,14.27 215.30,16.65 212.80,16.65" fill="#fff" stroke="#52b8ca" stroke-width="0.6"/>
<polygon points="216.00,9.05 217.25,11.42 214.75,11.42" fill="#fff" stroke="#52b8ca" stroke-width="0.6"/>
<polygon points="217.95,3.80 219.20,6.17 216.70,6.17" fill="#fff" stroke="#52b8ca" stroke-width="0.6"/>
</g>
<g clip-path="url(#clipA)">
<polyline points="40.50,130.70 100.00,130.30 130.00,129.30 142.00,128.00 147.00,126.50 150.00,124.10 153.00,120.50 157.20,115.70 162.00,106.10 166.80,92.80 171.50,77.00 174.40,63.00 177.40,50.50 180.30,38.40 183.30,25.30 186.30,13.50 189.20,1.00" fill="none" stroke="#3b7dbf" stroke-width="0.9" stroke-linejoin="round" />
<circle cx="40.50" cy="130.70" r="1.25" fill="#fff" stroke="#3b7dbf" stroke-width="0.6"/>
<path d="M39.25,130.70 A1.25,1.25 0 0 1 41.75,130.70 Z" fill="#3b7dbf"/>
<circle cx="42.45" cy="130.69" r="1.25" fill="#fff" stroke="#3b7dbf" stroke-width="0.6"/>
<path d="M41.20,130.69 A1.25,1.25 0 0 1 43.70,130.69 Z" fill="#3b7dbf"/>
<circle cx="44.40" cy="130.67" r="1.25" fill="#fff" stroke="#3b7dbf" stroke-width="0.6"/>
<path d="M43.15,130.67 A1.25,1.25 0 0 1 45.65,130.67 Z" fill="#3b7dbf"/>
<circle cx="46.35" cy="130.66" r="1.25" fill="#fff" stroke="#3b7dbf" stroke-width="0.6"/>
<path d="M45.10,130.66 A1.25,1.25 0 0 1 47.60,130.66 Z" fill="#3b7dbf"/>
<circle cx="48.30" cy="130.65" r="1.25" fill="#fff" stroke="#3b7dbf" stroke-width="0.6"/>
<path d="M47.05,130.65 A1.25,1.25 0 0 1 49.55,130.65 Z" fill="#3b7dbf"/>
<circle cx="50.25" cy="130.63" r="1.25" fill="#fff" stroke="#3b7dbf" stroke-width="0.6"/>
<path d="M49.00,130.63 A1.25,1.25 0 0 1 51.50,130.63 Z" fill="#3b7dbf"/>
<circle cx="52.20" cy="130.62" r="1.25" fill="#fff" stroke="#3b7dbf" stroke-width="0.6"/>
<path d="M50.95,130.62 A1.25,1.25 0 0 1 53.45,130.62 Z" fill="#3b7dbf"/>
<circle cx="54.15" cy="130.61" r="1.25" fill="#fff" stroke="#3b7dbf" stroke-width="0.6"/>
<path d="M52.90,130.61 A1.25,1.25 0 0 1 55.40,130.61 Z" fill="#3b7dbf"/>
<circle cx="56.10" cy="130.60" r="1.25" fill="#fff" stroke="#3b7dbf" stroke-width="0.6"/>
<path d="M54.85,130.60 A1.25,1.25 0 0 1 57.35,130.60 Z" fill="#3b7dbf"/>
<circle cx="58.05" cy="130.58" r="1.25" fill="#fff" stroke="#3b7dbf" stroke-width="0.6"/>
<path d="M56.80,130.58 A1.25,1.25 0 0 1 59.30,130.58 Z" fill="#3b7dbf"/>
<circle cx="60.00" cy="130.57" r="1.25" fill="#fff" stroke="#3b7dbf" stroke-width="0.6"/>
<path d="M58.75,130.57 A1.25,1.25 0 0 1 61.25,130.57 Z" fill="#3b7dbf"/>
<circle cx="61.95" cy="130.56" r="1.25" fill="#fff" stroke="#3b7dbf" stroke-width="0.6"/>
<path d="M60.70,130.56 A1.25,1.25 0 0 1 63.20,130.56 Z" fill="#3b7dbf"/>
<circle cx="63.90" cy="130.54" r="1.25" fill="#fff" stroke="#3b7dbf" stroke-width="0.6"/>
<path d="M62.65,130.54 A1.25,1.25 0 0 1 65.15,130.54 Z" fill="#3b7dbf"/>
<circle cx="65.85" cy="130.53" r="1.25" fill="#fff" stroke="#3b7dbf" stroke-width="0.6"/>
<path d="M64.60,130.53 A1.25,1.25 0 0 1 67.10,130.53 Z" fill="#3b7dbf"/>
<circle cx="67.80" cy="130.52" r="1.25" fill="#fff" stroke="#3b7dbf" stroke-width="0.6"/>
<path d="M66.55,130.52 A1.25,1.25 0 0 1 69.05,130.52 Z" fill="#3b7dbf"/>
<circle cx="69.75" cy="130.50" r="1.25" fill="#fff" stroke="#3b7dbf" stroke-width="0.6"/>
<path d="M68.50,130.50 A1.25,1.25 0 0 1 71.00,130.50 Z" fill="#3b7dbf"/>
<circle cx="71.70" cy="130.49" r="1.25" fill="#fff" stroke="#3b7dbf" stroke-width="0.6"/>
<path d="M70.45,130.49 A1.25,1.25 0 0 1 72.95,130.49 Z" fill="#3b7dbf"/>
<circle cx="73.65" cy="130.48" r="1.25" fill="#fff" stroke="#3b7dbf" stroke-width="0.6"/>
<path d="M72.40,130.48 A1.25,1.25 0 0 1 74.90,130.48 Z" fill="#3b7dbf"/>
<circle cx="75.60" cy="130.46" r="1.25" fill="#fff" stroke="#3b7dbf" stroke-width="0.6"/>
<path d="M74.35,130.46 A1.25,1.25 0 0 1 76.85,130.46 Z" fill="#3b7dbf"/>
<circle cx="77.55" cy="130.45" r="1.25" fill="#fff" stroke="#3b7dbf" stroke-width="0.6"/>
<path d="M76.30,130.45 A1.25,1.25 0 0 1 78.80,130.45 Z" fill="#3b7dbf"/>
<circle cx="79.50" cy="130.44" r="1.25" fill="#fff" stroke="#3b7dbf" stroke-width="0.6"/>
<path d="M78.25,130.44 A1.25,1.25 0 0 1 80.75,130.44 Z" fill="#3b7dbf"/>
<circle cx="81.45" cy="130.42" r="1.25" fill="#fff" stroke="#3b7dbf" stroke-width="0.6"/>
<path d="M80.20,130.42 A1.25,1.25 0 0 1 82.70,130.42 Z" fill="#3b7dbf"/>
<circle cx="83.40" cy="130.41" r="1.25" fill="#fff" stroke="#3b7dbf" stroke-width="0.6"/>
<path d="M82.15,130.41 A1.25,1.25 0 0 1 84.65,130.41 Z" fill="#3b7dbf"/>
<circle cx="85.35" cy="130.40" r="1.25" fill="#fff" stroke="#3b7dbf" stroke-width="0.6"/>
<path d="M84.10,130.40 A1.25,1.25 0 0 1 86.60,130.40 Z" fill="#3b7dbf"/>
<circle cx="87.30" cy="130.39" r="1.25" fill="#fff" stroke="#3b7dbf" stroke-width="0.6"/>
<path d="M86.05,130.39 A1.25,1.25 0 0 1 88.55,130.39 Z" fill="#3b7dbf"/>
<circle cx="89.25" cy="130.37" r="1.25" fill="#fff" stroke="#3b7dbf" stroke-width="0.6"/>
<path d="M88.00,130.37 A1.25,1.25 0 0 1 90.50,130.37 Z" fill="#3b7dbf"/>
<circle cx="91.20" cy="130.36" r="1.25" fill="#fff" stroke="#3b7dbf" stroke-width="0.6"/>
<path d="M89.95,130.36 A1.25,1.25 0 0 1 92.45,130.36 Z" fill="#3b7dbf"/>
<circle cx="93.15" cy="130.35" r="1.25" fill="#fff" stroke="#3b7dbf" stroke-width="0.6"/>
<path d="M91.90,130.35 A1.25,1.25 0 0 1 94.40,130.35 Z" fill="#3b7dbf"/>
<circle cx="95.10" cy="130.33" r="1.25" fill="#fff" stroke="#3b7dbf" stroke-width="0.6"/>
<path d="M93.85,130.33 A1.25,1.25 0 0 1 96.35,130.33 Z" fill="#3b7dbf"/>
<circle cx="97.05" cy="130.32" r="1.25" fill="#fff" stroke="#3b7dbf" stroke-width="0.6"/>
<path d="M95.80,130.32 A1.25,1.25 0 0 1 98.30,130.32 Z" fill="#3b7dbf"/>
<circle cx="99.00" cy="130.31" r="1.25" fill="#fff" stroke="#3b7dbf" stroke-width="0.6"/>
<path d="M97.75,130.31 A1.25,1.25 0 0 1 100.25,130.31 Z" fill="#3b7dbf"/>
<circle cx="100.95" cy="130.27" r="1.25" fill="#fff" stroke="#3b7dbf" stroke-width="0.6"/>
<path d="M99.70,130.27 A1.25,1.25 0 0 1 102.20,130.27 Z" fill="#3b7dbf"/>
<circle cx="102.90" cy="130.20" r="1.25" fill="#fff" stroke="#3b7dbf" stroke-width="0.6"/>
<path d="M101.65,130.20 A1.25,1.25 0 0 1 104.15,130.20 Z" fill="#3b7dbf"/>
<circle cx="104.85" cy="130.14" r="1.25" fill="#fff" stroke="#3b7dbf" stroke-width="0.6"/>
<path d="M103.60,130.14 A1.25,1.25 0 0 1 106.10,130.14 Z" fill="#3b7dbf"/>
<circle cx="106.80" cy="130.07" r="1.25" fill="#fff" stroke="#3b7dbf" stroke-width="0.6"/>
<path d="M105.55,130.07 A1.25,1.25 0 0 1 108.05,130.07 Z" fill="#3b7dbf"/>
<circle cx="108.75" cy="130.01" r="1.25" fill="#fff" stroke="#3b7dbf" stroke-width="0.6"/>
<path d="M107.50,130.01 A1.25,1.25 0 0 1 110.00,130.01 Z" fill="#3b7dbf"/>
<circle cx="110.70" cy="129.94" r="1.25" fill="#fff" stroke="#3b7dbf" stroke-width="0.6"/>
<path d="M109.45,129.94 A1.25,1.25 0 0 1 111.95,129.94 Z" fill="#3b7dbf"/>
<circle cx="112.65" cy="129.88" r="1.25" fill="#fff" stroke="#3b7dbf" stroke-width="0.6"/>
<path d="M111.40,129.88 A1.25,1.25 0 0 1 113.90,129.88 Z" fill="#3b7dbf"/>
<circle cx="114.60" cy="129.81" r="1.25" fill="#fff" stroke="#3b7dbf" stroke-width="0.6"/>
<path d="M113.35,129.81 A1.25,1.25 0 0 1 115.85,129.81 Z" fill="#3b7dbf"/>
<circle cx="116.55" cy="129.75" r="1.25" fill="#fff" stroke="#3b7dbf" stroke-width="0.6"/>
<path d="M115.30,129.75 A1.25,1.25 0 0 1 117.80,129.75 Z" fill="#3b7dbf"/>
<circle cx="118.50" cy="129.68" r="1.25" fill="#fff" stroke="#3b7dbf" stroke-width="0.6"/>
<path d="M117.25,129.68 A1.25,1.25 0 0 1 119.75,129.68 Z" fill="#3b7dbf"/>
<circle cx="120.45" cy="129.62" r="1.25" fill="#fff" stroke="#3b7dbf" stroke-width="0.6"/>
<path d="M119.20,129.62 A1.25,1.25 0 0 1 121.70,129.62 Z" fill="#3b7dbf"/>
<circle cx="122.40" cy="129.55" r="1.25" fill="#fff" stroke="#3b7dbf" stroke-width="0.6"/>
<path d="M121.15,129.55 A1.25,1.25 0 0 1 123.65,129.55 Z" fill="#3b7dbf"/>
<circle cx="124.35" cy="129.49" r="1.25" fill="#fff" stroke="#3b7dbf" stroke-width="0.6"/>
<path d="M123.10,129.49 A1.25,1.25 0 0 1 125.60,129.49 Z" fill="#3b7dbf"/>
<circle cx="126.30" cy="129.42" r="1.25" fill="#fff" stroke="#3b7dbf" stroke-width="0.6"/>
<path d="M125.05,129.42 A1.25,1.25 0 0 1 127.55,129.42 Z" fill="#3b7dbf"/>
<circle cx="128.25" cy="129.36" r="1.25" fill="#fff" stroke="#3b7dbf" stroke-width="0.6"/>
<path d="M127.00,129.36 A1.25,1.25 0 0 1 129.50,129.36 Z" fill="#3b7dbf"/>
<circle cx="130.20" cy="129.28" r="1.25" fill="#fff" stroke="#3b7dbf" stroke-width="0.6"/>
<path d="M128.95,129.28 A1.25,1.25 0 0 1 131.45,129.28 Z" fill="#3b7dbf"/>
<circle cx="132.15" cy="129.07" r="1.25" fill="#fff" stroke="#3b7dbf" stroke-width="0.6"/>
<path d="M130.90,129.07 A1.25,1.25 0 0 1 133.40,129.07 Z" fill="#3b7dbf"/>
<circle cx="134.10" cy="128.86" r="1.25" fill="#fff" stroke="#3b7dbf" stroke-width="0.6"/>
<path d="M132.85,128.86 A1.25,1.25 0 0 1 135.35,128.86 Z" fill="#3b7dbf"/>
<circle cx="136.05" cy="128.64" r="1.25" fill="#fff" stroke="#3b7dbf" stroke-width="0.6"/>
<path d="M134.80,128.64 A1.25,1.25 0 0 1 137.30,128.64 Z" fill="#3b7dbf"/>
<circle cx="138.00" cy="128.43" r="1.25" fill="#fff" stroke="#3b7dbf" stroke-width="0.6"/>
<path d="M136.75,128.43 A1.25,1.25 0 0 1 139.25,128.43 Z" fill="#3b7dbf"/>
<circle cx="139.95" cy="128.22" r="1.25" fill="#fff" stroke="#3b7dbf" stroke-width="0.6"/>
<path d="M138.70,128.22 A1.25,1.25 0 0 1 141.20,128.22 Z" fill="#3b7dbf"/>
<circle cx="141.90" cy="128.01" r="1.25" fill="#fff" stroke="#3b7dbf" stroke-width="0.6"/>
<path d="M140.65,128.01 A1.25,1.25 0 0 1 143.15,128.01 Z" fill="#3b7dbf"/>
<circle cx="143.85" cy="127.44" r="1.25" fill="#fff" stroke="#3b7dbf" stroke-width="0.6"/>
<path d="M142.60,127.44 A1.25,1.25 0 0 1 145.10,127.44 Z" fill="#3b7dbf"/>
<circle cx="145.80" cy="126.86" r="1.25" fill="#fff" stroke="#3b7dbf" stroke-width="0.6"/>
<path d="M144.55,126.86 A1.25,1.25 0 0 1 147.05,126.86 Z" fill="#3b7dbf"/>
<circle cx="147.75" cy="125.90" r="1.25" fill="#fff" stroke="#3b7dbf" stroke-width="0.6"/>
<path d="M146.50,125.90 A1.25,1.25 0 0 1 149.00,125.90 Z" fill="#3b7dbf"/>
<circle cx="149.70" cy="124.34" r="1.25" fill="#fff" stroke="#3b7dbf" stroke-width="0.6"/>
<path d="M148.45,124.34 A1.25,1.25 0 0 1 150.95,124.34 Z" fill="#3b7dbf"/>
<circle cx="151.65" cy="122.12" r="1.25" fill="#fff" stroke="#3b7dbf" stroke-width="0.6"/>
<path d="M150.40,122.12 A1.25,1.25 0 0 1 152.90,122.12 Z" fill="#3b7dbf"/>
<circle cx="153.60" cy="119.81" r="1.25" fill="#fff" stroke="#3b7dbf" stroke-width="0.6"/>
<path d="M152.35,119.81 A1.25,1.25 0 0 1 154.85,119.81 Z" fill="#3b7dbf"/>
<circle cx="155.55" cy="117.59" r="1.25" fill="#fff" stroke="#3b7dbf" stroke-width="0.6"/>
<path d="M154.30,117.59 A1.25,1.25 0 0 1 156.80,117.59 Z" fill="#3b7dbf"/>
<circle cx="157.50" cy="115.10" r="1.25" fill="#fff" stroke="#3b7dbf" stroke-width="0.6"/>
<path d="M156.25,115.10 A1.25,1.25 0 0 1 158.75,115.10 Z" fill="#3b7dbf"/>
<circle cx="159.45" cy="111.20" r="1.25" fill="#fff" stroke="#3b7dbf" stroke-width="0.6"/>
<path d="M158.20,111.20 A1.25,1.25 0 0 1 160.70,111.20 Z" fill="#3b7dbf"/>
<circle cx="161.40" cy="107.30" r="1.25" fill="#fff" stroke="#3b7dbf" stroke-width="0.6"/>
<path d="M160.15,107.30 A1.25,1.25 0 0 1 162.65,107.30 Z" fill="#3b7dbf"/>
<circle cx="163.35" cy="102.36" r="1.25" fill="#fff" stroke="#3b7dbf" stroke-width="0.6"/>
<path d="M162.10,102.36 A1.25,1.25 0 0 1 164.60,102.36 Z" fill="#3b7dbf"/>
<circle cx="165.30" cy="96.96" r="1.25" fill="#fff" stroke="#3b7dbf" stroke-width="0.6"/>
<path d="M164.05,96.96 A1.25,1.25 0 0 1 166.55,96.96 Z" fill="#3b7dbf"/>
<circle cx="167.25" cy="91.29" r="1.25" fill="#fff" stroke="#3b7dbf" stroke-width="0.6"/>
<path d="M166.00,91.29 A1.25,1.25 0 0 1 168.50,91.29 Z" fill="#3b7dbf"/>
<circle cx="169.20" cy="84.73" r="1.25" fill="#fff" stroke="#3b7dbf" stroke-width="0.6"/>
<path d="M167.95,84.73 A1.25,1.25 0 0 1 170.45,84.73 Z" fill="#3b7dbf"/>
<circle cx="171.15" cy="78.18" r="1.25" fill="#fff" stroke="#3b7dbf" stroke-width="0.6"/>
<path d="M169.90,78.18 A1.25,1.25 0 0 1 172.40,78.18 Z" fill="#3b7dbf"/>
<circle cx="173.10" cy="69.28" r="1.25" fill="#fff" stroke="#3b7dbf" stroke-width="0.6"/>
<path d="M171.85,69.28 A1.25,1.25 0 0 1 174.35,69.28 Z" fill="#3b7dbf"/>
<circle cx="175.05" cy="60.29" r="1.25" fill="#fff" stroke="#3b7dbf" stroke-width="0.6"/>
<path d="M173.80,60.29 A1.25,1.25 0 0 1 176.30,60.29 Z" fill="#3b7dbf"/>
<circle cx="177.00" cy="52.17" r="1.25" fill="#fff" stroke="#3b7dbf" stroke-width="0.6"/>
<path d="M175.75,52.17 A1.25,1.25 0 0 1 178.25,52.17 Z" fill="#3b7dbf"/>
<circle cx="178.95" cy="44.03" r="1.25" fill="#fff" stroke="#3b7dbf" stroke-width="0.6"/>
<path d="M177.70,44.03 A1.25,1.25 0 0 1 180.20,44.03 Z" fill="#3b7dbf"/>
<circle cx="180.90" cy="35.78" r="1.25" fill="#fff" stroke="#3b7dbf" stroke-width="0.6"/>
<path d="M179.65,35.78 A1.25,1.25 0 0 1 182.15,35.78 Z" fill="#3b7dbf"/>
<circle cx="182.85" cy="27.27" r="1.25" fill="#fff" stroke="#3b7dbf" stroke-width="0.6"/>
<path d="M181.60,27.27 A1.25,1.25 0 0 1 184.10,27.27 Z" fill="#3b7dbf"/>
<circle cx="184.80" cy="19.40" r="1.25" fill="#fff" stroke="#3b7dbf" stroke-width="0.6"/>
<path d="M183.55,19.40 A1.25,1.25 0 0 1 186.05,19.40 Z" fill="#3b7dbf"/>
<circle cx="186.75" cy="11.56" r="1.25" fill="#fff" stroke="#3b7dbf" stroke-width="0.6"/>
<path d="M185.50,11.56 A1.25,1.25 0 0 1 188.00,11.56 Z" fill="#3b7dbf"/>
<circle cx="188.70" cy="3.16" r="1.25" fill="#fff" stroke="#3b7dbf" stroke-width="0.6"/>
<path d="M187.45,3.16 A1.25,1.25 0 0 1 189.95,3.16 Z" fill="#3b7dbf"/>
</g>
<g clip-path="url(#clipA)">
<polyline points="40.50,130.30 70.00,130.00 100.00,129.30 120.00,128.20 135.00,126.60 142.00,125.30 146.00,123.20 148.00,120.50 150.00,116.90 152.40,107.30 154.80,92.80 157.20,83.20 159.60,70.00 162.00,57.00 164.60,44.00 168.50,23.00 172.40,1.00" fill="none" stroke="#2b4596" stroke-width="0.9" stroke-linejoin="round" />
<rect x="39.25" y="129.05" width="2.50" height="2.50" fill="#fff" stroke="#2b4596" stroke-width="0.6"/>
<rect x="39.25" y="129.05" width="2.50" height="1.25" fill="#2b4596"/>
<rect x="41.20" y="129.03" width="2.50" height="2.50" fill="#fff" stroke="#2b4596" stroke-width="0.6"/>
<rect x="41.20" y="129.03" width="2.50" height="1.25" fill="#2b4596"/>
<rect x="43.15" y="129.01" width="2.50" height="2.50" fill="#fff" stroke="#2b4596" stroke-width="0.6"/>
<rect x="43.15" y="129.01" width="2.50" height="1.25" fill="#2b4596"/>
<rect x="45.10" y="128.99" width="2.50" height="2.50" fill="#fff" stroke="#2b4596" stroke-width="0.6"/>
<rect x="45.10" y="128.99" width="2.50" height="1.25" fill="#2b4596"/>
<rect x="47.05" y="128.97" width="2.50" height="2.50" fill="#fff" stroke="#2b4596" stroke-width="0.6"/>
<rect x="47.05" y="128.97" width="2.50" height="1.25" fill="#2b4596"/>
<rect x="49.00" y="128.95" width="2.50" height="2.50" fill="#fff" stroke="#2b4596" stroke-width="0.6"/>
<rect x="49.00" y="128.95" width="2.50" height="1.25" fill="#2b4596"/>
<rect x="50.95" y="128.93" width="2.50" height="2.50" fill="#fff" stroke="#2b4596" stroke-width="0.6"/>
<rect x="50.95" y="128.93" width="2.50" height="1.25" fill="#2b4596"/>
<rect x="52.90" y="128.91" width="2.50" height="2.50" fill="#fff" stroke="#2b4596" stroke-width="0.6"/>
<rect x="52.90" y="128.91" width="2.50" height="1.25" fill="#2b4596"/>
<rect x="54.85" y="128.89" width="2.50" height="2.50" fill="#fff" stroke="#2b4596" stroke-width="0.6"/>
<rect x="54.85" y="128.89" width="2.50" height="1.25" fill="#2b4596"/>
<rect x="56.80" y="128.87" width="2.50" height="2.50" fill="#fff" stroke="#2b4596" stroke-width="0.6"/>
<rect x="56.80" y="128.87" width="2.50" height="1.25" fill="#2b4596"/>
<rect x="58.75" y="128.85" width="2.50" height="2.50" fill="#fff" stroke="#2b4596" stroke-width="0.6"/>
<rect x="58.75" y="128.85" width="2.50" height="1.25" fill="#2b4596"/>
<rect x="60.70" y="128.83" width="2.50" height="2.50" fill="#fff" stroke="#2b4596" stroke-width="0.6"/>
<rect x="60.70" y="128.83" width="2.50" height="1.25" fill="#2b4596"/>
<rect x="62.65" y="128.81" width="2.50" height="2.50" fill="#fff" stroke="#2b4596" stroke-width="0.6"/>
<rect x="62.65" y="128.81" width="2.50" height="1.25" fill="#2b4596"/>
<rect x="64.60" y="128.79" width="2.50" height="2.50" fill="#fff" stroke="#2b4596" stroke-width="0.6"/>
<rect x="64.60" y="128.79" width="2.50" height="1.25" fill="#2b4596"/>
<rect x="66.55" y="128.77" width="2.50" height="2.50" fill="#fff" stroke="#2b4596" stroke-width="0.6"/>
<rect x="66.55" y="128.77" width="2.50" height="1.25" fill="#2b4596"/>
<rect x="68.50" y="128.75" width="2.50" height="2.50" fill="#fff" stroke="#2b4596" stroke-width="0.6"/>
<rect x="68.50" y="128.75" width="2.50" height="1.25" fill="#2b4596"/>
<rect x="70.45" y="128.71" width="2.50" height="2.50" fill="#fff" stroke="#2b4596" stroke-width="0.6"/>
<rect x="70.45" y="128.71" width="2.50" height="1.25" fill="#2b4596"/>
<rect x="72.40" y="128.66" width="2.50" height="2.50" fill="#fff" stroke="#2b4596" stroke-width="0.6"/>
<rect x="72.40" y="128.66" width="2.50" height="1.25" fill="#2b4596"/>
<rect x="74.35" y="128.62" width="2.50" height="2.50" fill="#fff" stroke="#2b4596" stroke-width="0.6"/>
<rect x="74.35" y="128.62" width="2.50" height="1.25" fill="#2b4596"/>
<rect x="76.30" y="128.57" width="2.50" height="2.50" fill="#fff" stroke="#2b4596" stroke-width="0.6"/>
<rect x="76.30" y="128.57" width="2.50" height="1.25" fill="#2b4596"/>
<rect x="78.25" y="128.53" width="2.50" height="2.50" fill="#fff" stroke="#2b4596" stroke-width="0.6"/>
<rect x="78.25" y="128.53" width="2.50" height="1.25" fill="#2b4596"/>
<rect x="80.20" y="128.48" width="2.50" height="2.50" fill="#fff" stroke="#2b4596" stroke-width="0.6"/>
<rect x="80.20" y="128.48" width="2.50" height="1.25" fill="#2b4596"/>
<rect x="82.15" y="128.44" width="2.50" height="2.50" fill="#fff" stroke="#2b4596" stroke-width="0.6"/>
<rect x="82.15" y="128.44" width="2.50" height="1.25" fill="#2b4596"/>
<rect x="84.10" y="128.39" width="2.50" height="2.50" fill="#fff" stroke="#2b4596" stroke-width="0.6"/>
<rect x="84.10" y="128.39" width="2.50" height="1.25" fill="#2b4596"/>
<rect x="86.05" y="128.35" width="2.50" height="2.50" fill="#fff" stroke="#2b4596" stroke-width="0.6"/>
<rect x="86.05" y="128.35" width="2.50" height="1.25" fill="#2b4596"/>
<rect x="88.00" y="128.30" width="2.50" height="2.50" fill="#fff" stroke="#2b4596" stroke-width="0.6"/>
<rect x="88.00" y="128.30" width="2.50" height="1.25" fill="#2b4596"/>
<rect x="89.95" y="128.26" width="2.50" height="2.50" fill="#fff" stroke="#2b4596" stroke-width="0.6"/>
<rect x="89.95" y="128.26" width="2.50" height="1.25" fill="#2b4596"/>
<rect x="91.90" y="128.21" width="2.50" height="2.50" fill="#fff" stroke="#2b4596" stroke-width="0.6"/>
<rect x="91.90" y="128.21" width="2.50" height="1.25" fill="#2b4596"/>
<rect x="93.85" y="128.16" width="2.50" height="2.50" fill="#fff" stroke="#2b4596" stroke-width="0.6"/>
<rect x="93.85" y="128.16" width="2.50" height="1.25" fill="#2b4596"/>
<rect x="95.80" y="128.12" width="2.50" height="2.50" fill="#fff" stroke="#2b4596" stroke-width="0.6"/>
<rect x="95.80" y="128.12" width="2.50" height="1.25" fill="#2b4596"/>
<rect x="97.75" y="128.07" width="2.50" height="2.50" fill="#fff" stroke="#2b4596" stroke-width="0.6"/>
<rect x="97.75" y="128.07" width="2.50" height="1.25" fill="#2b4596"/>
<rect x="99.70" y="128.00" width="2.50" height="2.50" fill="#fff" stroke="#2b4596" stroke-width="0.6"/>
<rect x="99.70" y="128.00" width="2.50" height="1.25" fill="#2b4596"/>
<rect x="101.65" y="127.89" width="2.50" height="2.50" fill="#fff" stroke="#2b4596" stroke-width="0.6"/>
<rect x="101.65" y="127.89" width="2.50" height="1.25" fill="#2b4596"/>
<rect x="103.60" y="127.78" width="2.50" height="2.50" fill="#fff" stroke="#2b4596" stroke-width="0.6"/>
<rect x="103.60" y="127.78" width="2.50" height="1.25" fill="#2b4596"/>
<rect x="105.55" y="127.68" width="2.50" height="2.50" fill="#fff" stroke="#2b4596" stroke-width="0.6"/>
<rect x="105.55" y="127.68" width="2.50" height="1.25" fill="#2b4596"/>
<rect x="107.50" y="127.57" width="2.50" height="2.50" fill="#fff" stroke="#2b4596" stroke-width="0.6"/>
<rect x="107.50" y="127.57" width="2.50" height="1.25" fill="#2b4596"/>
<rect x="109.45" y="127.46" width="2.50" height="2.50" fill="#fff" stroke="#2b4596" stroke-width="0.6"/>
<rect x="109.45" y="127.46" width="2.50" height="1.25" fill="#2b4596"/>
<rect x="111.40" y="127.35" width="2.50" height="2.50" fill="#fff" stroke="#2b4596" stroke-width="0.6"/>
<rect x="111.40" y="127.35" width="2.50" height="1.25" fill="#2b4596"/>
<rect x="113.35" y="127.25" width="2.50" height="2.50" fill="#fff" stroke="#2b4596" stroke-width="0.6"/>
<rect x="113.35" y="127.25" width="2.50" height="1.25" fill="#2b4596"/>
<rect x="115.30" y="127.14" width="2.50" height="2.50" fill="#fff" stroke="#2b4596" stroke-width="0.6"/>
<rect x="115.30" y="127.14" width="2.50" height="1.25" fill="#2b4596"/>
<rect x="117.25" y="127.03" width="2.50" height="2.50" fill="#fff" stroke="#2b4596" stroke-width="0.6"/>
<rect x="117.25" y="127.03" width="2.50" height="1.25" fill="#2b4596"/>
<rect x="119.20" y="126.90" width="2.50" height="2.50" fill="#fff" stroke="#2b4596" stroke-width="0.6"/>
<rect x="119.20" y="126.90" width="2.50" height="1.25" fill="#2b4596"/>
<rect x="121.15" y="126.69" width="2.50" height="2.50" fill="#fff" stroke="#2b4596" stroke-width="0.6"/>
<rect x="121.15" y="126.69" width="2.50" height="1.25" fill="#2b4596"/>
<rect x="123.10" y="126.49" width="2.50" height="2.50" fill="#fff" stroke="#2b4596" stroke-width="0.6"/>
<rect x="123.10" y="126.49" width="2.50" height="1.25" fill="#2b4596"/>
<rect x="125.05" y="126.28" width="2.50" height="2.50" fill="#fff" stroke="#2b4596" stroke-width="0.6"/>
<rect x="125.05" y="126.28" width="2.50" height="1.25" fill="#2b4596"/>
<rect x="127.00" y="126.07" width="2.50" height="2.50" fill="#fff" stroke="#2b4596" stroke-width="0.6"/>
<rect x="127.00" y="126.07" width="2.50" height="1.25" fill="#2b4596"/>
<rect x="128.95" y="125.86" width="2.50" height="2.50" fill="#fff" stroke="#2b4596" stroke-width="0.6"/>
<rect x="128.95" y="125.86" width="2.50" height="1.25" fill="#2b4596"/>
<rect x="130.90" y="125.65" width="2.50" height="2.50" fill="#fff" stroke="#2b4596" stroke-width="0.6"/>
<rect x="130.90" y="125.65" width="2.50" height="1.25" fill="#2b4596"/>
<rect x="132.85" y="125.45" width="2.50" height="2.50" fill="#fff" stroke="#2b4596" stroke-width="0.6"/>
<rect x="132.85" y="125.45" width="2.50" height="1.25" fill="#2b4596"/>
<rect x="134.80" y="125.15" width="2.50" height="2.50" fill="#fff" stroke="#2b4596" stroke-width="0.6"/>
<rect x="134.80" y="125.15" width="2.50" height="1.25" fill="#2b4596"/>
<rect x="136.75" y="124.79" width="2.50" height="2.50" fill="#fff" stroke="#2b4596" stroke-width="0.6"/>
<rect x="136.75" y="124.79" width="2.50" height="1.25" fill="#2b4596"/>
<rect x="138.70" y="124.43" width="2.50" height="2.50" fill="#fff" stroke="#2b4596" stroke-width="0.6"/>
<rect x="138.70" y="124.43" width="2.50" height="1.25" fill="#2b4596"/>
<rect x="140.65" y="124.07" width="2.50" height="2.50" fill="#fff" stroke="#2b4596" stroke-width="0.6"/>
<rect x="140.65" y="124.07" width="2.50" height="1.25" fill="#2b4596"/>
<rect x="142.60" y="123.08" width="2.50" height="2.50" fill="#fff" stroke="#2b4596" stroke-width="0.6"/>
<rect x="142.60" y="123.08" width="2.50" height="1.25" fill="#2b4596"/>
<rect x="144.55" y="122.05" width="2.50" height="2.50" fill="#fff" stroke="#2b4596" stroke-width="0.6"/>
<rect x="144.55" y="122.05" width="2.50" height="1.25" fill="#2b4596"/>
<rect x="146.50" y="119.59" width="2.50" height="2.50" fill="#fff" stroke="#2b4596" stroke-width="0.6"/>
<rect x="146.50" y="119.59" width="2.50" height="1.25" fill="#2b4596"/>
<rect x="148.45" y="116.19" width="2.50" height="2.50" fill="#fff" stroke="#2b4596" stroke-width="0.6"/>
<rect x="148.45" y="116.19" width="2.50" height="1.25" fill="#2b4596"/>
<rect x="150.40" y="109.05" width="2.50" height="2.50" fill="#fff" stroke="#2b4596" stroke-width="0.6"/>
<rect x="150.40" y="109.05" width="2.50" height="1.25" fill="#2b4596"/>
<rect x="152.35" y="98.80" width="2.50" height="2.50" fill="#fff" stroke="#2b4596" stroke-width="0.6"/>
<rect x="152.35" y="98.80" width="2.50" height="1.25" fill="#2b4596"/>
<rect x="154.30" y="88.55" width="2.50" height="2.50" fill="#fff" stroke="#2b4596" stroke-width="0.6"/>
<rect x="154.30" y="88.55" width="2.50" height="1.25" fill="#2b4596"/>
<rect x="156.25" y="80.30" width="2.50" height="2.50" fill="#fff" stroke="#2b4596" stroke-width="0.6"/>
<rect x="156.25" y="80.30" width="2.50" height="1.25" fill="#2b4596"/>
<rect x="158.20" y="69.58" width="2.50" height="2.50" fill="#fff" stroke="#2b4596" stroke-width="0.6"/>
<rect x="158.20" y="69.58" width="2.50" height="1.25" fill="#2b4596"/>
<rect x="160.15" y="59.00" width="2.50" height="2.50" fill="#fff" stroke="#2b4596" stroke-width="0.6"/>
<rect x="160.15" y="59.00" width="2.50" height="1.25" fill="#2b4596"/>
<rect x="162.10" y="49.00" width="2.50" height="2.50" fill="#fff" stroke="#2b4596" stroke-width="0.6"/>
<rect x="162.10" y="49.00" width="2.50" height="1.25" fill="#2b4596"/>
<rect x="164.05" y="38.98" width="2.50" height="2.50" fill="#fff" stroke="#2b4596" stroke-width="0.6"/>
<rect x="164.05" y="38.98" width="2.50" height="1.25" fill="#2b4596"/>
<rect x="166.00" y="28.48" width="2.50" height="2.50" fill="#fff" stroke="#2b4596" stroke-width="0.6"/>
<rect x="166.00" y="28.48" width="2.50" height="1.25" fill="#2b4596"/>
<rect x="167.95" y="17.80" width="2.50" height="2.50" fill="#fff" stroke="#2b4596" stroke-width="0.6"/>
<rect x="167.95" y="17.80" width="2.50" height="1.25" fill="#2b4596"/>
<rect x="169.90" y="6.80" width="2.50" height="2.50" fill="#fff" stroke="#2b4596" stroke-width="0.6"/>
<rect x="169.90" y="6.80" width="2.50" height="1.25" fill="#2b4596"/>
</g>
<line x1="50.00" y1="9.00" x2="68.60" y2="9.00" stroke="#2b4596" stroke-width="0.9" />
<rect x="57.80" y="7.50" width="3.00" height="3.00" fill="#fff" stroke="#2b4596" stroke-width="0.7"/>
<rect x="57.80" y="7.50" width="3.00" height="1.50" fill="#2b4596"/>
<text x="70.70" y="11.90" font-size="8" text-anchor="start" font-weight="normal" fill="#111" >MV-S/Co(OH)<tspan dy="1.8" font-size="5.5">2</tspan><tspan dy="-1.8">&#8203;</tspan>/MI</text>
<line x1="50.00" y1="20.80" x2="68.60" y2="20.80" stroke="#3b7dbf" stroke-width="0.9" />
<circle cx="59.30" cy="20.80" r="1.50" fill="#fff" stroke="#3b7dbf" stroke-width="0.7"/>
<path d="M57.80,20.80 A1.50,1.50 0 0 1 60.80,20.80 Z" fill="#3b7dbf"/>
<text x="70.70" y="23.70" font-size="8" text-anchor="start" font-weight="normal" fill="#111" >MV-S/Co(OH)<tspan dy="1.8" font-size="5.5">2</tspan><tspan dy="-1.8">&#8203;</tspan></text>
<line x1="50.00" y1="32.60" x2="68.60" y2="32.60" stroke="#52b8ca" stroke-width="0.9" />
<polygon points="59.30,30.95 60.80,33.80 57.80,33.80" fill="#fff" stroke="#52b8ca" stroke-width="0.7"/>
<text x="70.70" y="35.50" font-size="8" text-anchor="start" font-weight="normal" fill="#111" >MV-Co(OH)<tspan dy="1.8" font-size="5.5">2</tspan><tspan dy="-1.8">&#8203;</tspan>/MI</text>
<line x1="50.00" y1="44.40" x2="68.60" y2="44.40" stroke="#92c9a9" stroke-width="0.9" />
<polygon points="59.30,42.60 60.80,44.40 59.30,46.20 57.80,44.40" fill="#fff" stroke="#92c9a9" stroke-width="0.7"/>
<text x="70.70" y="47.30" font-size="8" text-anchor="start" font-weight="normal" fill="#111" >Co(OH)<tspan dy="1.8" font-size="5.5">2</tspan><tspan dy="-1.8">&#8203;</tspan></text>
<line x1="50.00" y1="56.20" x2="68.60" y2="56.20" stroke="#ecec88" stroke-width="0.9" />
<polygon points="59.30,54.55 60.80,57.40 57.80,57.40" fill="#fff" stroke="#ecec88" stroke-width="0.7"/>
<text x="70.70" y="59.10" font-size="8" text-anchor="start" font-weight="normal" fill="#111" >RuO<tspan dy="1.8" font-size="5.5">2</tspan><tspan dy="-1.8">&#8203;</tspan></text>
<text x="256.50" y="8.90" font-size="12" text-anchor="start" font-weight="bold" fill="#000" >b</text>
<polygon points="365.30,39.43 405.73,78.06 371.71,100.02 343.52,121.18 353.90,87.49" fill="#f2f2b0" fill-opacity="0.6" stroke="#e6e690" stroke-width="0.9" stroke-linejoin="round"/>
<polygon points="365.30,36.70 407.80,77.39 370.43,98.25 337.75,129.12 357.01,88.51" fill="#9fd0bb" fill-opacity="0.5" stroke="#8cc8b0" stroke-width="0.9" stroke-linejoin="round"/>
<polygon points="365.30,48.69 391.22,82.78 381.00,112.80 347.04,116.33 347.42,85.39" fill="#5b9bd0" fill-opacity="0.55" stroke="#3b7dbf" stroke-width="0.9" stroke-linejoin="round"/>
<polygon points="365.30,50.87 388.62,83.62 397.33,135.29 360.17,98.25 313.47,74.36" fill="#4a5cb0" fill-opacity="0.5" stroke="#2b4596" stroke-width="0.9" stroke-linejoin="round"/>
<polygon points="365.30,73.03 382.58,85.59 375.98,105.90 354.62,105.90 348.02,85.59" fill="none" stroke="#333" stroke-width="0.5"/>
<polygon points="365.30,54.87 399.86,79.97 386.66,120.59 343.94,120.59 330.74,79.97" fill="none" stroke="#333" stroke-width="0.5"/>
<polygon points="365.30,36.70 417.13,74.36 397.33,135.29 333.27,135.29 313.47,74.36" fill="none" stroke="#333" stroke-width="0.5"/>
<line x1="365.30" y1="91.20" x2="365.30" y2="36.70" stroke="#333" stroke-width="0.5" />
<line x1="365.30" y1="91.20" x2="417.13" y2="74.36" stroke="#333" stroke-width="0.5" />
<line x1="365.30" y1="91.20" x2="397.33" y2="135.29" stroke="#333" stroke-width="0.5" />
<line x1="365.30" y1="91.20" x2="333.27" y2="135.29" stroke="#333" stroke-width="0.5" />
<line x1="365.30" y1="91.20" x2="313.47" y2="74.36" stroke="#333" stroke-width="0.5" />
<text x="359.30" y="39.90" font-size="7.6" text-anchor="middle" font-weight="normal" fill="#111" >360</text>
<text x="360.50" y="53.90" font-size="7.6" text-anchor="middle" font-weight="normal" fill="#111" >270</text>
<text x="359.30" y="67.20" font-size="7.6" text-anchor="middle" font-weight="normal" fill="#111" >180</text>
<text x="361.00" y="80.90" font-size="7.6" text-anchor="middle" font-weight="normal" fill="#111" >90</text>
<text x="419.00" y="71.70" font-size="7.6" text-anchor="middle" font-weight="normal" fill="#111" >150</text>
<text x="400.40" y="77.60" font-size="7.6" text-anchor="middle" font-weight="normal" fill="#111" >100</text>
<text x="382.60" y="83.20" font-size="7.6" text-anchor="middle" font-weight="normal" fill="#111" >50</text>
<text x="402.60" y="140.80" font-size="7.6" text-anchor="middle" font-weight="normal" fill="#111" >3</text>
<text x="392.20" y="125.30" font-size="7.6" text-anchor="middle" font-weight="normal" fill="#111" >2</text>
<text x="381.50" y="111.60" font-size="7.6" text-anchor="middle" font-weight="normal" fill="#111" >1</text>
<text x="340.50" y="143.10" font-size="7.6" text-anchor="middle" font-weight="normal" fill="#111" >180</text>
<text x="351.60" y="128.60" font-size="7.6" text-anchor="middle" font-weight="normal" fill="#111" >120</text>
<text x="360.50" y="114.20" font-size="7.6" text-anchor="middle" font-weight="normal" fill="#111" >60</text>
<text x="308.80" y="82.60" font-size="7.6" text-anchor="middle" font-weight="normal" fill="#111" >120</text>
<text x="326.10" y="88.00" font-size="7.6" text-anchor="middle" font-weight="normal" fill="#111" >80</text>
<text x="343.80" y="93.80" font-size="7.6" text-anchor="middle" font-weight="normal" fill="#111" >40</text>
<text x="367.60" y="23.50" font-size="8" text-anchor="middle" font-weight="normal" fill="#111" ><tspan font-style="italic">η</tspan><tspan dy="1.8" font-size="5">10</tspan><tspan dy="-1.8">&#8203;</tspan> (mV)</text>
<text x="452.00" y="73.50" font-size="8.6" text-anchor="middle" font-weight="normal" fill="#111" >Tafel slope</text>
<text x="452.00" y="85.30" font-size="8.6" text-anchor="middle" font-weight="normal" fill="#111" >(mV·dec<tspan dy="-3.2" font-size="5.8">−1</tspan><tspan dy="3.2">&#8203;</tspan>)</text>
<text x="282.40" y="73.50" font-size="8.6" text-anchor="middle" font-weight="normal" fill="#111" >Mass activity</text>
<text x="284.00" y="85.30" font-size="8.6" text-anchor="middle" font-weight="normal" fill="#111" >(A·g<tspan dy="-3.2" font-size="5.8">−1</tspan><tspan dy="3.2">&#8203;</tspan>)</text>
<text x="318.00" y="152.30" font-size="8.6" text-anchor="middle" font-weight="normal" fill="#111" ><tspan font-style="italic">R</tspan><tspan dy="1.9" font-size="5.8">ct</tspan><tspan dy="-1.9">&#8203;</tspan> (Ω)</text>
<text x="429.70" y="152.30" font-size="8.6" text-anchor="middle" font-weight="normal" fill="#111" ><tspan font-style="italic">C</tspan><tspan dy="1.9" font-size="5.8">dl</tspan><tspan dy="-1.9">&#8203;</tspan> (mF·cm<tspan dy="-3.2" font-size="5.8">−2</tspan><tspan dy="3.2">&#8203;</tspan>)</text>
<rect x="399.4" y="4.00" width="18" height="9.4" fill="#8e96c9" stroke="#4858a8" stroke-width="0.8"/>
<text x="419.40" y="11.60" font-size="8" text-anchor="start" font-weight="normal" fill="#111" >MV-S/Co(OH)<tspan dy="1.8" font-size="5.5">2</tspan><tspan dy="-1.8">&#8203;</tspan>-MI</text>
<rect x="399.4" y="15.60" width="18" height="9.4" fill="#9dc0dd" stroke="#4a88c0" stroke-width="0.8"/>
<text x="419.40" y="23.20" font-size="8" text-anchor="start" font-weight="normal" fill="#111" >MV-S/Co(OH)<tspan dy="1.8" font-size="5.5">2</tspan><tspan dy="-1.8">&#8203;</tspan></text>
<rect x="399.4" y="27.20" width="18" height="9.4" fill="#f6f6c4" stroke="#eeeeb0" stroke-width="0.8"/>
<text x="419.40" y="34.80" font-size="8" text-anchor="start" font-weight="normal" fill="#111" >MV-Co(OH)<tspan dy="1.8" font-size="5.5">2</tspan><tspan dy="-1.8">&#8203;</tspan>-MI</text>
<rect x="399.4" y="38.80" width="18" height="9.4" fill="#cfe6dc" stroke="#b4dac8" stroke-width="0.8"/>
<text x="419.40" y="46.40" font-size="8" text-anchor="start" font-weight="normal" fill="#111" >Co(OH)<tspan dy="1.8" font-size="5.5">2</tspan><tspan dy="-1.8">&#8203;</tspan></text>
<text x="-0.80" y="190.00" font-size="12" text-anchor="start" font-weight="bold" fill="#000" >c</text>
<line x1="41.50" y1="194.30" x2="230.20" y2="194.30" stroke="#c2c2c2" stroke-width="1.14" />
<line x1="230.20" y1="194.30" x2="230.20" y2="324.30" stroke="#808080" stroke-width="0.95" />
<line x1="41.50" y1="324.30" x2="230.20" y2="324.30" stroke="#808080" stroke-width="0.95" />
<line x1="41.50" y1="193.80" x2="41.50" y2="324.75" stroke="#707070" stroke-width="0.95" />
<line x1="41.50" y1="324.30" x2="41.50" y2="326.80" stroke="#555" stroke-width="0.8" />
<text x="41.40" y="336.00" font-size="8.1" text-anchor="middle" font-weight="normal" fill="#111" textLength="9.59" lengthAdjust="spacingAndGlyphs">1.1</text>
<line x1="72.50" y1="324.30" x2="72.50" y2="326.80" stroke="#555" stroke-width="0.8" />
<text x="72.40" y="336.00" font-size="8.1" text-anchor="middle" font-weight="normal" fill="#111" textLength="9.59" lengthAdjust="spacingAndGlyphs">1.2</text>
<line x1="103.50" y1="324.30" x2="103.50" y2="326.80" stroke="#555" stroke-width="0.8" />
<text x="103.40" y="336.00" font-size="8.1" text-anchor="middle" font-weight="normal" fill="#111" textLength="9.59" lengthAdjust="spacingAndGlyphs">1.3</text>
<line x1="134.50" y1="324.30" x2="134.50" y2="326.80" stroke="#555" stroke-width="0.8" />
<text x="134.40" y="336.00" font-size="8.1" text-anchor="middle" font-weight="normal" fill="#111" textLength="9.59" lengthAdjust="spacingAndGlyphs">1.4</text>
<line x1="165.50" y1="324.30" x2="165.50" y2="326.80" stroke="#555" stroke-width="0.8" />
<text x="165.40" y="336.00" font-size="8.1" text-anchor="middle" font-weight="normal" fill="#111" textLength="9.59" lengthAdjust="spacingAndGlyphs">1.5</text>
<line x1="196.50" y1="324.30" x2="196.50" y2="326.80" stroke="#555" stroke-width="0.8" />
<text x="196.40" y="336.00" font-size="8.1" text-anchor="middle" font-weight="normal" fill="#111" textLength="9.59" lengthAdjust="spacingAndGlyphs">1.6</text>
<line x1="227.50" y1="324.30" x2="227.50" y2="326.80" stroke="#555" stroke-width="0.8" />
<text x="227.40" y="336.00" font-size="8.1" text-anchor="middle" font-weight="normal" fill="#111" textLength="9.59" lengthAdjust="spacingAndGlyphs">1.7</text>
<line x1="57.00" y1="324.30" x2="57.00" y2="325.80" stroke="#555" stroke-width="0.8" />
<line x1="88.00" y1="324.30" x2="88.00" y2="325.80" stroke="#555" stroke-width="0.8" />
<line x1="119.00" y1="324.30" x2="119.00" y2="325.80" stroke="#555" stroke-width="0.8" />
<line x1="150.00" y1="324.30" x2="150.00" y2="325.80" stroke="#555" stroke-width="0.8" />
<line x1="181.00" y1="324.30" x2="181.00" y2="325.80" stroke="#555" stroke-width="0.8" />
<line x1="212.00" y1="324.30" x2="212.00" y2="325.80" stroke="#555" stroke-width="0.8" />
<line x1="41.50" y1="324.30" x2="39.00" y2="324.30" stroke="#555" stroke-width="0.8" />
<text x="36.60" y="327.20" font-size="8.0" text-anchor="end" font-weight="normal" fill="#111" textLength="9.73" lengthAdjust="spacingAndGlyphs">0.0</text>
<line x1="41.50" y1="261.20" x2="39.00" y2="261.20" stroke="#555" stroke-width="0.8" />
<text x="36.60" y="264.10" font-size="8.0" text-anchor="end" font-weight="normal" fill="#111" textLength="9.73" lengthAdjust="spacingAndGlyphs">0.5</text>
<line x1="41.50" y1="198.10" x2="39.00" y2="198.10" stroke="#555" stroke-width="0.8" />
<text x="36.60" y="201.00" font-size="8.0" text-anchor="end" font-weight="normal" fill="#111" textLength="9.73" lengthAdjust="spacingAndGlyphs">1.0</text>
<line x1="41.50" y1="292.75" x2="40.00" y2="292.75" stroke="#555" stroke-width="0.8" />
<line x1="41.50" y1="229.65" x2="40.00" y2="229.65" stroke="#555" stroke-width="0.8" />
<text x="136.30" y="346.70" font-size="8.4" text-anchor="middle" font-weight="normal" fill="#111" ><tspan font-style="italic">E</tspan> - <tspan font-style="italic">iR</tspan> (V vs. RHE)</text>
<g transform="translate(22.0,268) rotate(-90)">
<text x="0.00" y="0.00" font-size="9.2" text-anchor="middle" font-weight="normal" fill="#111" ><tspan font-style="italic">j</tspan><tspan dy="2" font-size="6">geo</tspan><tspan dy="-2">&#8203;</tspan> (A·cm<tspan dy="-3.4" font-size="6">−2</tspan><tspan dy="3.4">&#8203;</tspan>)</text>
</g>
<g clip-path="url(#clipC)">
<polyline points="41.50,307.50 42.80,322.00 45.00,323.60 100.00,323.80 140.00,323.80 150.00,323.30 157.00,321.00 163.70,318.10 168.00,314.50 172.50,309.30 178.50,298.90 184.40,288.60 191.80,270.80 199.20,253.00 206.60,232.30 215.40,207.20 220.00,196.50 221.40,194.00" fill="none" stroke="#92c9a9" stroke-width="0.9" stroke-linejoin="round" />
<polygon points="41.50,305.82 42.90,307.50 41.50,309.18 40.10,307.50" fill="#fff" stroke="#92c9a9" stroke-width="0.6"/>
<polygon points="44.70,321.70 46.10,323.38 44.70,325.06 43.30,323.38" fill="#fff" stroke="#92c9a9" stroke-width="0.6"/>
<polygon points="47.90,321.93 49.30,323.61 47.90,325.29 46.50,323.61" fill="#fff" stroke="#92c9a9" stroke-width="0.6"/>
<polygon points="51.10,321.94 52.50,323.62 51.10,325.30 49.70,323.62" fill="#fff" stroke="#92c9a9" stroke-width="0.6"/>
<polygon points="54.30,321.95 55.70,323.63 54.30,325.31 52.90,323.63" fill="#fff" stroke="#92c9a9" stroke-width="0.6"/>
<polygon points="57.50,321.97 58.90,323.65 57.50,325.33 56.10,323.65" fill="#fff" stroke="#92c9a9" stroke-width="0.6"/>
<polygon points="60.70,321.98 62.10,323.66 60.70,325.34 59.30,323.66" fill="#fff" stroke="#92c9a9" stroke-width="0.6"/>
<polygon points="63.90,321.99 65.30,323.67 63.90,325.35 62.50,323.67" fill="#fff" stroke="#92c9a9" stroke-width="0.6"/>
<polygon points="67.10,322.00 68.50,323.68 67.10,325.36 65.70,323.68" fill="#fff" stroke="#92c9a9" stroke-width="0.6"/>
<polygon points="70.30,322.01 71.70,323.69 70.30,325.37 68.90,323.69" fill="#fff" stroke="#92c9a9" stroke-width="0.6"/>
<polygon points="73.50,322.02 74.90,323.70 73.50,325.38 72.10,323.70" fill="#fff" stroke="#92c9a9" stroke-width="0.6"/>
<polygon points="76.70,322.04 78.10,323.72 76.70,325.40 75.30,323.72" fill="#fff" stroke="#92c9a9" stroke-width="0.6"/>
<polygon points="79.90,322.05 81.30,323.73 79.90,325.41 78.50,323.73" fill="#fff" stroke="#92c9a9" stroke-width="0.6"/>
<polygon points="83.10,322.06 84.50,323.74 83.10,325.42 81.70,323.74" fill="#fff" stroke="#92c9a9" stroke-width="0.6"/>
<polygon points="86.30,322.07 87.70,323.75 86.30,325.43 84.90,323.75" fill="#fff" stroke="#92c9a9" stroke-width="0.6"/>
<polygon points="89.50,322.08 90.90,323.76 89.50,325.44 88.10,323.76" fill="#fff" stroke="#92c9a9" stroke-width="0.6"/>
<polygon points="92.70,322.09 94.10,323.77 92.70,325.45 91.30,323.77" fill="#fff" stroke="#92c9a9" stroke-width="0.6"/>
<polygon points="95.90,322.11 97.30,323.79 95.90,325.47 94.50,323.79" fill="#fff" stroke="#92c9a9" stroke-width="0.6"/>
<polygon points="99.10,322.12 100.50,323.80 99.10,325.48 97.70,323.80" fill="#fff" stroke="#92c9a9" stroke-width="0.6"/>
<polygon points="102.30,322.12 103.70,323.80 102.30,325.48 100.90,323.80" fill="#fff" stroke="#92c9a9" stroke-width="0.6"/>
<polygon points="105.50,322.12 106.90,323.80 105.50,325.48 104.10,323.80" fill="#fff" stroke="#92c9a9" stroke-width="0.6"/>
<polygon points="108.70,322.12 110.10,323.80 108.70,325.48 107.30,323.80" fill="#fff" stroke="#92c9a9" stroke-width="0.6"/>
<polygon points="111.90,322.12 113.30,323.80 111.90,325.48 110.50,323.80" fill="#fff" stroke="#92c9a9" stroke-width="0.6"/>
<polygon points="115.10,322.12 116.50,323.80 115.10,325.48 113.70,323.80" fill="#fff" stroke="#92c9a9" stroke-width="0.6"/>
<polygon points="118.30,322.12 119.70,323.80 118.30,325.48 116.90,323.80" fill="#fff" stroke="#92c9a9" stroke-width="0.6"/>
<polygon points="121.50,322.12 122.90,323.80 121.50,325.48 120.10,323.80" fill="#fff" stroke="#92c9a9" stroke-width="0.6"/>
<polygon points="124.70,322.12 126.10,323.80 124.70,325.48 123.30,323.80" fill="#fff" stroke="#92c9a9" stroke-width="0.6"/>
<polygon points="127.90,322.12 129.30,323.80 127.90,325.48 126.50,323.80" fill="#fff" stroke="#92c9a9" stroke-width="0.6"/>
<polygon points="131.10,322.12 132.50,323.80 131.10,325.48 129.70,323.80" fill="#fff" stroke="#92c9a9" stroke-width="0.6"/>
<polygon points="134.30,322.12 135.70,323.80 134.30,325.48 132.90,323.80" fill="#fff" stroke="#92c9a9" stroke-width="0.6"/>
<polygon points="137.50,322.12 138.90,323.80 137.50,325.48 136.10,323.80" fill="#fff" stroke="#92c9a9" stroke-width="0.6"/>
<polygon points="140.70,322.08 142.10,323.76 140.70,325.44 139.30,323.76" fill="#fff" stroke="#92c9a9" stroke-width="0.6"/>
<polygon points="143.90,321.93 145.30,323.61 143.90,325.29 142.50,323.61" fill="#fff" stroke="#92c9a9" stroke-width="0.6"/>
<polygon points="147.10,321.76 148.50,323.44 147.10,325.12 145.70,323.44" fill="#fff" stroke="#92c9a9" stroke-width="0.6"/>
<polygon points="150.30,321.52 151.70,323.20 150.30,324.88 148.90,323.20" fill="#fff" stroke="#92c9a9" stroke-width="0.6"/>
<polygon points="153.50,320.47 154.90,322.15 153.50,323.83 152.10,322.15" fill="#fff" stroke="#92c9a9" stroke-width="0.6"/>
<polygon points="156.70,319.42 158.10,321.10 156.70,322.78 155.30,321.10" fill="#fff" stroke="#92c9a9" stroke-width="0.6"/>
<polygon points="159.90,318.06 161.30,319.74 159.90,321.42 158.50,319.74" fill="#fff" stroke="#92c9a9" stroke-width="0.6"/>
<polygon points="163.10,316.68 164.50,318.36 163.10,320.04 161.70,318.36" fill="#fff" stroke="#92c9a9" stroke-width="0.6"/>
<polygon points="166.30,314.24 167.70,315.92 166.30,317.60 164.90,315.92" fill="#fff" stroke="#92c9a9" stroke-width="0.6"/>
<polygon points="169.50,311.09 170.90,312.77 169.50,314.45 168.10,312.77" fill="#fff" stroke="#92c9a9" stroke-width="0.6"/>
<polygon points="172.70,307.27 174.10,308.95 172.70,310.63 171.30,308.95" fill="#fff" stroke="#92c9a9" stroke-width="0.6"/>
<polygon points="175.90,301.73 177.30,303.41 175.90,305.09 174.50,303.41" fill="#fff" stroke="#92c9a9" stroke-width="0.6"/>
<polygon points="179.10,296.17 180.50,297.85 179.10,299.53 177.70,297.85" fill="#fff" stroke="#92c9a9" stroke-width="0.6"/>
<polygon points="182.30,290.59 183.70,292.27 182.30,293.95 180.90,292.27" fill="#fff" stroke="#92c9a9" stroke-width="0.6"/>
<polygon points="185.50,284.27 186.90,285.95 185.50,287.63 184.10,285.95" fill="#fff" stroke="#92c9a9" stroke-width="0.6"/>
<polygon points="188.70,276.58 190.10,278.26 188.70,279.94 187.30,278.26" fill="#fff" stroke="#92c9a9" stroke-width="0.6"/>
<polygon points="191.90,268.88 193.30,270.56 191.90,272.24 190.50,270.56" fill="#fff" stroke="#92c9a9" stroke-width="0.6"/>
<polygon points="195.10,261.18 196.50,262.86 195.10,264.54 193.70,262.86" fill="#fff" stroke="#92c9a9" stroke-width="0.6"/>
<polygon points="198.30,253.48 199.70,255.16 198.30,256.84 196.90,255.16" fill="#fff" stroke="#92c9a9" stroke-width="0.6"/>
<polygon points="201.50,244.89 202.90,246.57 201.50,248.25 200.10,246.57" fill="#fff" stroke="#92c9a9" stroke-width="0.6"/>
<polygon points="204.70,235.93 206.10,237.61 204.70,239.29 203.30,237.61" fill="#fff" stroke="#92c9a9" stroke-width="0.6"/>
<polygon points="207.90,226.91 209.30,228.59 207.90,230.27 206.50,228.59" fill="#fff" stroke="#92c9a9" stroke-width="0.6"/>
<polygon points="211.10,217.78 212.50,219.46 211.10,221.14 209.70,219.46" fill="#fff" stroke="#92c9a9" stroke-width="0.6"/>
<polygon points="214.30,208.66 215.70,210.34 214.30,212.02 212.90,210.34" fill="#fff" stroke="#92c9a9" stroke-width="0.6"/>
<polygon points="217.50,200.64 218.90,202.32 217.50,204.00 216.10,202.32" fill="#fff" stroke="#92c9a9" stroke-width="0.6"/>
<polygon points="220.70,193.57 222.10,195.25 220.70,196.93 219.30,195.25" fill="#fff" stroke="#92c9a9" stroke-width="0.6"/>
</g>
<g clip-path="url(#clipC)">
<polyline points="41.50,323.60 100.00,323.40 130.00,323.00 145.00,322.00 157.80,319.60 163.00,316.50 168.10,312.20 172.00,307.50 175.50,301.90 178.50,293.50 180.80,282.60 183.80,264.90 185.90,244.00 187.30,225.00 187.90,217.50 188.60,194.00" fill="none" stroke="#52b8ca" stroke-width="0.9" stroke-linejoin="round" />
<circle cx="41.50" cy="323.60" r="1.40" fill="#fff" stroke="#52b8ca" stroke-width="0.6"/>
<circle cx="44.50" cy="323.59" r="1.40" fill="#fff" stroke="#52b8ca" stroke-width="0.6"/>
<circle cx="47.50" cy="323.58" r="1.40" fill="#fff" stroke="#52b8ca" stroke-width="0.6"/>
<circle cx="50.50" cy="323.57" r="1.40" fill="#fff" stroke="#52b8ca" stroke-width="0.6"/>
<circle cx="53.50" cy="323.56" r="1.40" fill="#fff" stroke="#52b8ca" stroke-width="0.6"/>
<circle cx="56.50" cy="323.55" r="1.40" fill="#fff" stroke="#52b8ca" stroke-width="0.6"/>
<circle cx="59.50" cy="323.54" r="1.40" fill="#fff" stroke="#52b8ca" stroke-width="0.6"/>
<circle cx="62.50" cy="323.53" r="1.40" fill="#fff" stroke="#52b8ca" stroke-width="0.6"/>
<circle cx="65.50" cy="323.52" r="1.40" fill="#fff" stroke="#52b8ca" stroke-width="0.6"/>
<circle cx="68.50" cy="323.51" r="1.40" fill="#fff" stroke="#52b8ca" stroke-width="0.6"/>
<circle cx="71.50" cy="323.50" r="1.40" fill="#fff" stroke="#52b8ca" stroke-width="0.6"/>
<circle cx="74.50" cy="323.49" r="1.40" fill="#fff" stroke="#52b8ca" stroke-width="0.6"/>
<circle cx="77.50" cy="323.48" r="1.40" fill="#fff" stroke="#52b8ca" stroke-width="0.6"/>
<circle cx="80.50" cy="323.47" r="1.40" fill="#fff" stroke="#52b8ca" stroke-width="0.6"/>
<circle cx="83.50" cy="323.46" r="1.40" fill="#fff" stroke="#52b8ca" stroke-width="0.6"/>
<circle cx="86.50" cy="323.45" r="1.40" fill="#fff" stroke="#52b8ca" stroke-width="0.6"/>
<circle cx="89.50" cy="323.44" r="1.40" fill="#fff" stroke="#52b8ca" stroke-width="0.6"/>
<circle cx="92.50" cy="323.43" r="1.40" fill="#fff" stroke="#52b8ca" stroke-width="0.6"/>
<circle cx="95.50" cy="323.42" r="1.40" fill="#fff" stroke="#52b8ca" stroke-width="0.6"/>
<circle cx="98.50" cy="323.41" r="1.40" fill="#fff" stroke="#52b8ca" stroke-width="0.6"/>
<circle cx="101.50" cy="323.38" r="1.40" fill="#fff" stroke="#52b8ca" stroke-width="0.6"/>
<circle cx="104.50" cy="323.34" r="1.40" fill="#fff" stroke="#52b8ca" stroke-width="0.6"/>
<circle cx="107.50" cy="323.30" r="1.40" fill="#fff" stroke="#52b8ca" stroke-width="0.6"/>
<circle cx="110.50" cy="323.26" r="1.40" fill="#fff" stroke="#52b8ca" stroke-width="0.6"/>
<circle cx="113.50" cy="323.22" r="1.40" fill="#fff" stroke="#52b8ca" stroke-width="0.6"/>
<circle cx="116.50" cy="323.18" r="1.40" fill="#fff" stroke="#52b8ca" stroke-width="0.6"/>
<circle cx="119.50" cy="323.14" r="1.40" fill="#fff" stroke="#52b8ca" stroke-width="0.6"/>
<circle cx="122.50" cy="323.10" r="1.40" fill="#fff" stroke="#52b8ca" stroke-width="0.6"/>
<circle cx="125.50" cy="323.06" r="1.40" fill="#fff" stroke="#52b8ca" stroke-width="0.6"/>
<circle cx="128.50" cy="323.02" r="1.40" fill="#fff" stroke="#52b8ca" stroke-width="0.6"/>
<circle cx="131.50" cy="322.90" r="1.40" fill="#fff" stroke="#52b8ca" stroke-width="0.6"/>
<circle cx="134.50" cy="322.70" r="1.40" fill="#fff" stroke="#52b8ca" stroke-width="0.6"/>
<circle cx="137.50" cy="322.50" r="1.40" fill="#fff" stroke="#52b8ca" stroke-width="0.6"/>
<circle cx="140.50" cy="322.30" r="1.40" fill="#fff" stroke="#52b8ca" stroke-width="0.6"/>
<circle cx="143.50" cy="322.10" r="1.40" fill="#fff" stroke="#52b8ca" stroke-width="0.6"/>
<circle cx="146.50" cy="321.72" r="1.40" fill="#fff" stroke="#52b8ca" stroke-width="0.6"/>
<circle cx="149.50" cy="321.16" r="1.40" fill="#fff" stroke="#52b8ca" stroke-width="0.6"/>
<circle cx="152.50" cy="320.59" r="1.40" fill="#fff" stroke="#52b8ca" stroke-width="0.6"/>
<circle cx="155.50" cy="320.03" r="1.40" fill="#fff" stroke="#52b8ca" stroke-width="0.6"/>
<circle cx="158.49" cy="319.19" r="1.40" fill="#fff" stroke="#52b8ca" stroke-width="0.6"/>
<circle cx="161.48" cy="317.41" r="1.40" fill="#fff" stroke="#52b8ca" stroke-width="0.6"/>
<circle cx="164.46" cy="315.27" r="1.40" fill="#fff" stroke="#52b8ca" stroke-width="0.6"/>
<circle cx="167.44" cy="312.76" r="1.40" fill="#fff" stroke="#52b8ca" stroke-width="0.6"/>
<circle cx="170.40" cy="309.43" r="1.40" fill="#fff" stroke="#52b8ca" stroke-width="0.6"/>
<circle cx="173.33" cy="305.37" r="1.40" fill="#fff" stroke="#52b8ca" stroke-width="0.6"/>
<circle cx="176.21" cy="299.91" r="1.40" fill="#fff" stroke="#52b8ca" stroke-width="0.6"/>
<circle cx="178.92" cy="291.51" r="1.40" fill="#fff" stroke="#52b8ca" stroke-width="0.6"/>
<circle cx="181.32" cy="279.53" r="1.40" fill="#fff" stroke="#52b8ca" stroke-width="0.6"/>
<circle cx="183.57" cy="266.28" r="1.40" fill="#fff" stroke="#52b8ca" stroke-width="0.6"/>
<circle cx="185.30" cy="250.01" r="1.40" fill="#fff" stroke="#52b8ca" stroke-width="0.6"/>
<circle cx="186.74" cy="232.54" r="1.40" fill="#fff" stroke="#52b8ca" stroke-width="0.6"/>
<circle cx="187.99" cy="214.46" r="1.40" fill="#fff" stroke="#52b8ca" stroke-width="0.6"/>
<circle cx="188.57" cy="194.85" r="1.40" fill="#fff" stroke="#52b8ca" stroke-width="0.6"/>
</g>
<g clip-path="url(#clipC)">
<polyline points="130.00,323.20 140.00,322.80 148.90,321.00 153.00,318.00 156.30,314.00 158.70,308.00 160.70,302.00" fill="none" stroke="#6f7cc4" stroke-width="0.8" stroke-linejoin="round" />
</g>
<g clip-path="url(#clipC)">
<polyline points="41.50,323.00 60.00,322.60 80.00,322.80 100.00,322.60 120.00,322.20 130.00,321.80 140.00,321.00 145.00,319.50 148.90,318.00 153.00,314.50 156.30,310.70 160.70,300.40 163.70,287.00 166.00,269.30 167.50,238.00 168.70,211.60 169.60,194.00" fill="none" stroke="#2b4596" stroke-width="0.9" stroke-linejoin="round" />
<rect x="40.10" y="321.60" width="2.80" height="2.80" fill="#fff" stroke="#2b4596" stroke-width="0.6"/>
<rect x="40.10" y="321.60" width="2.80" height="1.40" fill="#2b4596"/>
<rect x="43.10" y="321.54" width="2.80" height="2.80" fill="#fff" stroke="#2b4596" stroke-width="0.6"/>
<rect x="43.10" y="321.54" width="2.80" height="1.40" fill="#2b4596"/>
<rect x="46.10" y="321.47" width="2.80" height="2.80" fill="#fff" stroke="#2b4596" stroke-width="0.6"/>
<rect x="46.10" y="321.47" width="2.80" height="1.40" fill="#2b4596"/>
<rect x="49.10" y="321.41" width="2.80" height="2.80" fill="#fff" stroke="#2b4596" stroke-width="0.6"/>
<rect x="49.10" y="321.41" width="2.80" height="1.40" fill="#2b4596"/>
<rect x="52.10" y="321.34" width="2.80" height="2.80" fill="#fff" stroke="#2b4596" stroke-width="0.6"/>
<rect x="52.10" y="321.34" width="2.80" height="1.40" fill="#2b4596"/>
<rect x="55.10" y="321.28" width="2.80" height="2.80" fill="#fff" stroke="#2b4596" stroke-width="0.6"/>
<rect x="55.10" y="321.28" width="2.80" height="1.40" fill="#2b4596"/>
<rect x="58.10" y="321.21" width="2.80" height="2.80" fill="#fff" stroke="#2b4596" stroke-width="0.6"/>
<rect x="58.10" y="321.21" width="2.80" height="1.40" fill="#2b4596"/>
<rect x="61.10" y="321.22" width="2.80" height="2.80" fill="#fff" stroke="#2b4596" stroke-width="0.6"/>
<rect x="61.10" y="321.22" width="2.80" height="1.40" fill="#2b4596"/>
<rect x="64.10" y="321.25" width="2.80" height="2.80" fill="#fff" stroke="#2b4596" stroke-width="0.6"/>
<rect x="64.10" y="321.25" width="2.80" height="1.40" fill="#2b4596"/>
<rect x="67.10" y="321.28" width="2.80" height="2.80" fill="#fff" stroke="#2b4596" stroke-width="0.6"/>
<rect x="67.10" y="321.28" width="2.80" height="1.40" fill="#2b4596"/>
<rect x="70.10" y="321.31" width="2.80" height="2.80" fill="#fff" stroke="#2b4596" stroke-width="0.6"/>
<rect x="70.10" y="321.31" width="2.80" height="1.40" fill="#2b4596"/>
<rect x="73.10" y="321.34" width="2.80" height="2.80" fill="#fff" stroke="#2b4596" stroke-width="0.6"/>
<rect x="73.10" y="321.34" width="2.80" height="1.40" fill="#2b4596"/>
<rect x="76.10" y="321.37" width="2.80" height="2.80" fill="#fff" stroke="#2b4596" stroke-width="0.6"/>
<rect x="76.10" y="321.37" width="2.80" height="1.40" fill="#2b4596"/>
<rect x="79.10" y="321.40" width="2.80" height="2.80" fill="#fff" stroke="#2b4596" stroke-width="0.6"/>
<rect x="79.10" y="321.40" width="2.80" height="1.40" fill="#2b4596"/>
<rect x="82.10" y="321.37" width="2.80" height="2.80" fill="#fff" stroke="#2b4596" stroke-width="0.6"/>
<rect x="82.10" y="321.37" width="2.80" height="1.40" fill="#2b4596"/>
<rect x="85.10" y="321.34" width="2.80" height="2.80" fill="#fff" stroke="#2b4596" stroke-width="0.6"/>
<rect x="85.10" y="321.34" width="2.80" height="1.40" fill="#2b4596"/>
<rect x="88.10" y="321.31" width="2.80" height="2.80" fill="#fff" stroke="#2b4596" stroke-width="0.6"/>
<rect x="88.10" y="321.31" width="2.80" height="1.40" fill="#2b4596"/>
<rect x="91.10" y="321.28" width="2.80" height="2.80" fill="#fff" stroke="#2b4596" stroke-width="0.6"/>
<rect x="91.10" y="321.28" width="2.80" height="1.40" fill="#2b4596"/>
<rect x="94.10" y="321.25" width="2.80" height="2.80" fill="#fff" stroke="#2b4596" stroke-width="0.6"/>
<rect x="94.10" y="321.25" width="2.80" height="1.40" fill="#2b4596"/>
<rect x="97.10" y="321.22" width="2.80" height="2.80" fill="#fff" stroke="#2b4596" stroke-width="0.6"/>
<rect x="97.10" y="321.22" width="2.80" height="1.40" fill="#2b4596"/>
<rect x="100.10" y="321.17" width="2.80" height="2.80" fill="#fff" stroke="#2b4596" stroke-width="0.6"/>
<rect x="100.10" y="321.17" width="2.80" height="1.40" fill="#2b4596"/>
<rect x="103.10" y="321.11" width="2.80" height="2.80" fill="#fff" stroke="#2b4596" stroke-width="0.6"/>
<rect x="103.10" y="321.11" width="2.80" height="1.40" fill="#2b4596"/>
<rect x="106.10" y="321.05" width="2.80" height="2.80" fill="#fff" stroke="#2b4596" stroke-width="0.6"/>
<rect x="106.10" y="321.05" width="2.80" height="1.40" fill="#2b4596"/>
<rect x="109.10" y="320.99" width="2.80" height="2.80" fill="#fff" stroke="#2b4596" stroke-width="0.6"/>
<rect x="109.10" y="320.99" width="2.80" height="1.40" fill="#2b4596"/>
<rect x="112.10" y="320.93" width="2.80" height="2.80" fill="#fff" stroke="#2b4596" stroke-width="0.6"/>
<rect x="112.10" y="320.93" width="2.80" height="1.40" fill="#2b4596"/>
<rect x="115.10" y="320.87" width="2.80" height="2.80" fill="#fff" stroke="#2b4596" stroke-width="0.6"/>
<rect x="115.10" y="320.87" width="2.80" height="1.40" fill="#2b4596"/>
<rect x="118.10" y="320.81" width="2.80" height="2.80" fill="#fff" stroke="#2b4596" stroke-width="0.6"/>
<rect x="118.10" y="320.81" width="2.80" height="1.40" fill="#2b4596"/>
<rect x="121.10" y="320.70" width="2.80" height="2.80" fill="#fff" stroke="#2b4596" stroke-width="0.6"/>
<rect x="121.10" y="320.70" width="2.80" height="1.40" fill="#2b4596"/>
<rect x="124.10" y="320.58" width="2.80" height="2.80" fill="#fff" stroke="#2b4596" stroke-width="0.6"/>
<rect x="124.10" y="320.58" width="2.80" height="1.40" fill="#2b4596"/>
<rect x="127.10" y="320.46" width="2.80" height="2.80" fill="#fff" stroke="#2b4596" stroke-width="0.6"/>
<rect x="127.10" y="320.46" width="2.80" height="1.40" fill="#2b4596"/>
<rect x="130.10" y="320.28" width="2.80" height="2.80" fill="#fff" stroke="#2b4596" stroke-width="0.6"/>
<rect x="130.10" y="320.28" width="2.80" height="1.40" fill="#2b4596"/>
<rect x="133.10" y="320.04" width="2.80" height="2.80" fill="#fff" stroke="#2b4596" stroke-width="0.6"/>
<rect x="133.10" y="320.04" width="2.80" height="1.40" fill="#2b4596"/>
<rect x="136.10" y="319.80" width="2.80" height="2.80" fill="#fff" stroke="#2b4596" stroke-width="0.6"/>
<rect x="136.10" y="319.80" width="2.80" height="1.40" fill="#2b4596"/>
<rect x="139.10" y="319.45" width="2.80" height="2.80" fill="#fff" stroke="#2b4596" stroke-width="0.6"/>
<rect x="139.10" y="319.45" width="2.80" height="1.40" fill="#2b4596"/>
<rect x="142.10" y="318.55" width="2.80" height="2.80" fill="#fff" stroke="#2b4596" stroke-width="0.6"/>
<rect x="142.10" y="318.55" width="2.80" height="1.40" fill="#2b4596"/>
<rect x="145.09" y="317.53" width="2.80" height="2.80" fill="#fff" stroke="#2b4596" stroke-width="0.6"/>
<rect x="145.09" y="317.53" width="2.80" height="1.40" fill="#2b4596"/>
<rect x="148.09" y="316.10" width="2.80" height="2.80" fill="#fff" stroke="#2b4596" stroke-width="0.6"/>
<rect x="148.09" y="316.10" width="2.80" height="1.40" fill="#2b4596"/>
<rect x="151.07" y="313.55" width="2.80" height="2.80" fill="#fff" stroke="#2b4596" stroke-width="0.6"/>
<rect x="151.07" y="313.55" width="2.80" height="1.40" fill="#2b4596"/>
<rect x="154.05" y="310.28" width="2.80" height="2.80" fill="#fff" stroke="#2b4596" stroke-width="0.6"/>
<rect x="154.05" y="310.28" width="2.80" height="1.40" fill="#2b4596"/>
<rect x="156.96" y="304.48" width="2.80" height="2.80" fill="#fff" stroke="#2b4596" stroke-width="0.6"/>
<rect x="156.96" y="304.48" width="2.80" height="1.40" fill="#2b4596"/>
<rect x="159.80" y="296.76" width="2.80" height="2.80" fill="#fff" stroke="#2b4596" stroke-width="0.6"/>
<rect x="159.80" y="296.76" width="2.80" height="1.40" fill="#2b4596"/>
<rect x="162.42" y="284.67" width="2.80" height="2.80" fill="#fff" stroke="#2b4596" stroke-width="0.6"/>
<rect x="162.42" y="284.67" width="2.80" height="1.40" fill="#2b4596"/>
<rect x="164.61" y="267.63" width="2.80" height="2.80" fill="#fff" stroke="#2b4596" stroke-width="0.6"/>
<rect x="164.61" y="267.63" width="2.80" height="1.40" fill="#2b4596"/>
<rect x="165.73" y="244.42" width="2.80" height="2.80" fill="#fff" stroke="#2b4596" stroke-width="0.6"/>
<rect x="165.73" y="244.42" width="2.80" height="1.40" fill="#2b4596"/>
<rect x="166.80" y="221.09" width="2.80" height="2.80" fill="#fff" stroke="#2b4596" stroke-width="0.6"/>
<rect x="166.80" y="221.09" width="2.80" height="1.40" fill="#2b4596"/>
<rect x="167.93" y="197.92" width="2.80" height="2.80" fill="#fff" stroke="#2b4596" stroke-width="0.6"/>
<rect x="167.93" y="197.92" width="2.80" height="1.40" fill="#2b4596"/>
</g>
<line x1="50.70" y1="202.30" x2="69.00" y2="202.30" stroke="#92c9a9" stroke-width="0.9" />
<polygon points="59.80,200.50 61.30,202.30 59.80,204.10 58.30,202.30" fill="#fff" stroke="#92c9a9" stroke-width="0.7"/>
<text x="71.00" y="205.20" font-size="8" text-anchor="start" font-weight="normal" fill="#111" >Carbon cloth</text>
<line x1="50.70" y1="212.60" x2="69.00" y2="212.60" stroke="#52b8ca" stroke-width="0.9" />
<circle cx="59.80" cy="212.60" r="1.50" fill="#fff" stroke="#52b8ca" stroke-width="0.7"/>
<text x="71.00" y="215.50" font-size="8" text-anchor="start" font-weight="normal" fill="#111" >Ni Foam</text>
<line x1="50.70" y1="222.90" x2="69.00" y2="222.90" stroke="#2b4596" stroke-width="0.9" />
<rect x="58.30" y="221.40" width="3.00" height="3.00" fill="#fff" stroke="#2b4596" stroke-width="0.7"/>
<rect x="58.30" y="221.40" width="3.00" height="1.50" fill="#2b4596"/>
<text x="71.00" y="225.80" font-size="8" text-anchor="start" font-weight="normal" fill="#111" >Co Foam</text>
<rect x="64.5" y="238" width="84" height="66" fill="#fff"/>
<line x1="64.50" y1="239.60" x2="64.50" y2="303.60" stroke="#777" stroke-width="0.7" />
<line x1="64.50" y1="303.60" x2="147.70" y2="303.60" stroke="#aaa" stroke-width="0.7" />
<line x1="64.50" y1="303.60" x2="62.80" y2="303.60" stroke="#555" stroke-width="0.6" />
<text x="62.30" y="305.50" font-size="5.6" text-anchor="end" font-weight="normal" fill="#111" >0</text>
<line x1="64.50" y1="285.98" x2="62.80" y2="285.98" stroke="#555" stroke-width="0.6" />
<text x="62.30" y="287.88" font-size="5.6" text-anchor="end" font-weight="normal" fill="#111" >150</text>
<line x1="64.50" y1="268.35" x2="62.80" y2="268.35" stroke="#555" stroke-width="0.6" />
<text x="62.30" y="270.25" font-size="5.6" text-anchor="end" font-weight="normal" fill="#111" >300</text>
<line x1="64.50" y1="250.73" x2="62.80" y2="250.73" stroke="#555" stroke-width="0.6" />
<text x="62.30" y="252.63" font-size="5.6" text-anchor="end" font-weight="normal" fill="#111" >450</text>
<line x1="64.50" y1="294.79" x2="63.60" y2="294.79" stroke="#555" stroke-width="0.6" />
<line x1="64.50" y1="277.16" x2="63.60" y2="277.16" stroke="#555" stroke-width="0.6" />
<line x1="64.50" y1="259.54" x2="63.60" y2="259.54" stroke="#555" stroke-width="0.6" />
<line x1="64.50" y1="241.91" x2="63.60" y2="241.91" stroke="#555" stroke-width="0.6" />
<rect x="72.40" y="275.99" width="4.95" height="27.61" fill="#27409a"/>
<line x1="74.90" y1="275.19" x2="74.90" y2="275.99" stroke="#444" stroke-width="0.5" />
<rect x="77.35" y="271.88" width="4.95" height="31.73" fill="#f0f0a0"/>
<line x1="79.85" y1="271.07" x2="79.85" y2="271.88" stroke="#444" stroke-width="0.5" />
<rect x="82.30" y="270.47" width="4.95" height="33.13" fill="#5bb8c8"/>
<line x1="84.80" y1="269.67" x2="84.80" y2="270.47" stroke="#444" stroke-width="0.5" />
<line x1="79.80" y1="303.60" x2="79.80" y2="305.00" stroke="#555" stroke-width="0.5" />
<rect x="102.70" y="271.64" width="4.95" height="31.96" fill="#27409a"/>
<line x1="105.20" y1="270.84" x2="105.20" y2="271.64" stroke="#444" stroke-width="0.5" />
<rect x="107.65" y="264.59" width="4.95" height="39.01" fill="#f0f0a0"/>
<line x1="110.15" y1="263.79" x2="110.15" y2="264.59" stroke="#444" stroke-width="0.5" />
<rect x="112.60" y="262.83" width="4.95" height="40.77" fill="#5bb8c8"/>
<line x1="115.10" y1="262.03" x2="115.10" y2="262.83" stroke="#444" stroke-width="0.5" />
<line x1="110.10" y1="303.60" x2="110.10" y2="305.00" stroke="#555" stroke-width="0.5" />
<rect x="132.90" y="271.64" width="4.95" height="31.96" fill="#27409a"/>
<line x1="135.40" y1="270.84" x2="135.40" y2="271.64" stroke="#444" stroke-width="0.5" />
<rect x="137.85" y="260.71" width="4.95" height="42.89" fill="#f0f0a0"/>
<line x1="140.35" y1="259.91" x2="140.35" y2="260.71" stroke="#444" stroke-width="0.5" />
<rect x="142.80" y="251.90" width="4.95" height="51.70" fill="#5bb8c8"/>
<line x1="145.30" y1="251.10" x2="145.30" y2="251.90" stroke="#444" stroke-width="0.5" />
<line x1="140.30" y1="303.60" x2="140.30" y2="305.00" stroke="#555" stroke-width="0.5" />
<text x="80.00" y="312.00" font-size="5.8" text-anchor="middle" font-weight="normal" fill="#111" >Co Foam</text>
<text x="110.20" y="312.00" font-size="5.8" text-anchor="middle" font-weight="normal" fill="#111" >Ni Foam</text>
<text x="140.30" y="312.00" font-size="5.8" text-anchor="middle" font-weight="normal" fill="#111" >CC</text>
<g transform="translate(51.3,269.4) rotate(-90)">
<text x="0.00" y="0.00" font-size="7" text-anchor="middle" font-weight="normal" fill="#111" >Overpotential (mV)</text>
</g>
<rect x="68.6" y="243.1" width="8.5" height="5.3" fill="#27409a"/>
<text x="77.80" y="247.90" font-size="5.6" text-anchor="start" font-weight="normal" fill="#111" >0.1 A·cm<tspan dy="-2.2" font-size="4">−2</tspan><tspan dy="2.2">&#8203;</tspan></text>
<rect x="107.4" y="243.1" width="8.3" height="5.3" fill="#f0f0a0"/>
<text x="116.30" y="247.90" font-size="5.6" text-anchor="start" font-weight="normal" fill="#111" >0.5 A·cm<tspan dy="-2.2" font-size="4">−2</tspan><tspan dy="2.2">&#8203;</tspan></text>
<rect x="68.6" y="251" width="8.5" height="5.6" fill="#5bb8c8"/>
<text x="77.80" y="256.00" font-size="5.6" text-anchor="start" font-weight="normal" fill="#111" >1.0 A·cm<tspan dy="-2.2" font-size="4">−2</tspan><tspan dy="2.2">&#8203;</tspan></text>
<text x="256.80" y="190.50" font-size="12" text-anchor="start" font-weight="bold" fill="#000" >d</text>
<line x1="289.80" y1="191.60" x2="485.10" y2="191.60" stroke="#c2c2c2" stroke-width="1.14" />
<line x1="485.10" y1="191.60" x2="485.10" y2="327.60" stroke="#808080" stroke-width="0.95" />
<line x1="289.80" y1="327.60" x2="485.10" y2="327.60" stroke="#808080" stroke-width="0.95" />
<line x1="289.80" y1="191.10" x2="289.80" y2="328.05" stroke="#707070" stroke-width="0.95" />
<line x1="289.80" y1="327.60" x2="289.80" y2="330.10" stroke="#555" stroke-width="0.8" />
<text x="289.80" y="337.80" font-size="7.7" text-anchor="middle" font-weight="normal" fill="#111" textLength="4.11" lengthAdjust="spacingAndGlyphs">0</text>
<line x1="338.65" y1="327.60" x2="338.65" y2="330.10" stroke="#555" stroke-width="0.8" />
<text x="338.65" y="337.80" font-size="7.7" text-anchor="middle" font-weight="normal" fill="#111" textLength="12.34" lengthAdjust="spacingAndGlyphs">500</text>
<line x1="387.50" y1="327.60" x2="387.50" y2="330.10" stroke="#555" stroke-width="0.8" />
<text x="387.50" y="337.80" font-size="7.7" text-anchor="middle" font-weight="normal" fill="#111" textLength="16.46" lengthAdjust="spacingAndGlyphs">1000</text>
<line x1="436.35" y1="327.60" x2="436.35" y2="330.10" stroke="#555" stroke-width="0.8" />
<text x="436.35" y="337.80" font-size="7.7" text-anchor="middle" font-weight="normal" fill="#111" textLength="16.46" lengthAdjust="spacingAndGlyphs">1500</text>
<line x1="485.20" y1="327.60" x2="485.20" y2="330.10" stroke="#555" stroke-width="0.8" />
<text x="485.20" y="337.80" font-size="7.7" text-anchor="middle" font-weight="normal" fill="#111" textLength="16.46" lengthAdjust="spacingAndGlyphs">2000</text>
<line x1="314.23" y1="327.60" x2="314.23" y2="329.10" stroke="#555" stroke-width="0.8" />
<line x1="363.07" y1="327.60" x2="363.07" y2="329.10" stroke="#555" stroke-width="0.8" />
<line x1="411.93" y1="327.60" x2="411.93" y2="329.10" stroke="#555" stroke-width="0.8" />
<line x1="460.77" y1="327.60" x2="460.77" y2="329.10" stroke="#555" stroke-width="0.8" />
<line x1="289.80" y1="308.90" x2="287.30" y2="308.90" stroke="#555" stroke-width="0.8" />
<text x="285.60" y="311.50" font-size="7.6" text-anchor="end" font-weight="normal" fill="#111" textLength="10.29" lengthAdjust="spacingAndGlyphs">1.5</text>
<line x1="289.80" y1="271.79" x2="287.30" y2="271.79" stroke="#555" stroke-width="0.8" />
<text x="285.60" y="274.39" font-size="7.6" text-anchor="end" font-weight="normal" fill="#111" textLength="10.29" lengthAdjust="spacingAndGlyphs">1.8</text>
<line x1="289.80" y1="234.68" x2="287.30" y2="234.68" stroke="#555" stroke-width="0.8" />
<text x="285.60" y="237.28" font-size="7.6" text-anchor="end" font-weight="normal" fill="#111" textLength="10.29" lengthAdjust="spacingAndGlyphs">2.1</text>
<line x1="289.80" y1="197.57" x2="287.30" y2="197.57" stroke="#555" stroke-width="0.8" />
<text x="285.60" y="200.17" font-size="7.6" text-anchor="end" font-weight="normal" fill="#111" textLength="10.29" lengthAdjust="spacingAndGlyphs">2.4</text>
<line x1="289.80" y1="327.45" x2="288.30" y2="327.45" stroke="#555" stroke-width="0.8" />
<line x1="289.80" y1="290.34" x2="288.30" y2="290.34" stroke="#555" stroke-width="0.8" />
<line x1="289.80" y1="253.23" x2="288.30" y2="253.23" stroke="#555" stroke-width="0.8" />
<line x1="289.80" y1="216.12" x2="288.30" y2="216.12" stroke="#555" stroke-width="0.8" />
<text x="393.20" y="352.40" font-size="9.5" text-anchor="middle" font-weight="normal" fill="#111" ><tspan font-style="italic">j</tspan><tspan dy="2.1" font-size="6.2">geo</tspan><tspan dy="-2.1">&#8203;</tspan> (mA·cm<tspan dy="-3.5" font-size="6.2">−2</tspan><tspan dy="3.5">&#8203;</tspan>)</text>
<g transform="translate(271.0,251.9) rotate(-90)">
<text x="0.00" y="0.00" font-size="8.8" text-anchor="middle" font-weight="normal" fill="#111" ><tspan font-style="italic">E</tspan> (V vs. RHE)</text>
</g>
<g clip-path="url(#clipD)">
<polyline points="296.20,327.60 295.90,317.20 295.40,302.20 295.50,294.80 297.30,284.30 299.50,280.20 302.50,277.20 307.00,273.70 311.30,270.30 320.10,265.90 328.20,262.70 335.00,260.60 343.90,258.00 359.60,253.90 381.00,250.10 389.30,248.50 413.50,244.10 438.50,240.00 461.90,237.40 486.10,234.70" fill="none" stroke="#8088cc" stroke-width="1.0" stroke-linejoin="round" />
</g>
<g clip-path="url(#clipD)">
<polyline points="292.30,327.60 292.40,310.80 292.60,300.00 293.00,290.00 293.60,284.00 294.50,277.00 296.50,271.00 299.80,266.30 306.80,259.30 311.40,254.00 319.10,250.50 327.20,245.50 334.00,241.80 342.90,237.50 358.60,231.00 370.00,226.50 388.30,219.00 412.50,212.10 437.50,205.60 460.90,199.50 485.10,193.10" fill="none" stroke="#52b8ca" stroke-width="1.3" stroke-linejoin="round" />
<rect x="291.10" y="326.40" width="2.40" height="2.40" fill="#fff" stroke="#52b8ca" stroke-width="0.6"/>
<rect x="291.12" y="323.83" width="2.40" height="2.40" fill="#fff" stroke="#52b8ca" stroke-width="0.6"/>
<rect x="291.13" y="321.26" width="2.40" height="2.40" fill="#fff" stroke="#52b8ca" stroke-width="0.6"/>
<rect x="291.15" y="318.69" width="2.40" height="2.40" fill="#fff" stroke="#52b8ca" stroke-width="0.6"/>
<rect x="291.16" y="316.11" width="2.40" height="2.40" fill="#fff" stroke="#52b8ca" stroke-width="0.6"/>
<rect x="291.18" y="313.54" width="2.40" height="2.40" fill="#fff" stroke="#52b8ca" stroke-width="0.6"/>
<rect x="291.19" y="310.97" width="2.40" height="2.40" fill="#fff" stroke="#52b8ca" stroke-width="0.6"/>
<rect x="291.22" y="308.40" width="2.40" height="2.40" fill="#fff" stroke="#52b8ca" stroke-width="0.6"/>
<rect x="291.27" y="305.83" width="2.40" height="2.40" fill="#fff" stroke="#52b8ca" stroke-width="0.6"/>
<rect x="291.32" y="303.26" width="2.40" height="2.40" fill="#fff" stroke="#52b8ca" stroke-width="0.6"/>
<rect x="291.37" y="300.69" width="2.40" height="2.40" fill="#fff" stroke="#52b8ca" stroke-width="0.6"/>
<rect x="291.43" y="298.11" width="2.40" height="2.40" fill="#fff" stroke="#52b8ca" stroke-width="0.6"/>
<rect x="291.53" y="295.54" width="2.40" height="2.40" fill="#fff" stroke="#52b8ca" stroke-width="0.6"/>
<rect x="291.63" y="292.97" width="2.40" height="2.40" fill="#fff" stroke="#52b8ca" stroke-width="0.6"/>
<rect x="291.74" y="290.40" width="2.40" height="2.40" fill="#fff" stroke="#52b8ca" stroke-width="0.6"/>
<rect x="291.90" y="287.83" width="2.40" height="2.40" fill="#fff" stroke="#52b8ca" stroke-width="0.6"/>
<rect x="292.15" y="285.26" width="2.40" height="2.40" fill="#fff" stroke="#52b8ca" stroke-width="0.6"/>
<rect x="292.41" y="282.69" width="2.40" height="2.40" fill="#fff" stroke="#52b8ca" stroke-width="0.6"/>
<rect x="292.74" y="280.12" width="2.40" height="2.40" fill="#fff" stroke="#52b8ca" stroke-width="0.6"/>
<rect x="293.08" y="277.55" width="2.40" height="2.40" fill="#fff" stroke="#52b8ca" stroke-width="0.6"/>
<rect x="293.57" y="274.98" width="2.40" height="2.40" fill="#fff" stroke="#52b8ca" stroke-width="0.6"/>
<rect x="294.43" y="272.42" width="2.40" height="2.40" fill="#fff" stroke="#52b8ca" stroke-width="0.6"/>
<rect x="295.28" y="269.86" width="2.40" height="2.40" fill="#fff" stroke="#52b8ca" stroke-width="0.6"/>
<rect x="297.03" y="267.34" width="2.40" height="2.40" fill="#fff" stroke="#52b8ca" stroke-width="0.6"/>
<rect x="298.87" y="264.83" width="2.40" height="2.40" fill="#fff" stroke="#52b8ca" stroke-width="0.6"/>
<rect x="301.35" y="262.35" width="2.40" height="2.40" fill="#fff" stroke="#52b8ca" stroke-width="0.6"/>
<rect x="303.82" y="259.88" width="2.40" height="2.40" fill="#fff" stroke="#52b8ca" stroke-width="0.6"/>
<rect x="306.21" y="257.40" width="2.40" height="2.40" fill="#fff" stroke="#52b8ca" stroke-width="0.6"/>
<rect x="308.37" y="254.91" width="2.40" height="2.40" fill="#fff" stroke="#52b8ca" stroke-width="0.6"/>
<rect x="310.95" y="252.46" width="2.40" height="2.40" fill="#fff" stroke="#52b8ca" stroke-width="0.6"/>
<rect x="315.74" y="250.28" width="2.40" height="2.40" fill="#fff" stroke="#52b8ca" stroke-width="0.6"/>
<rect x="319.97" y="248.02" width="2.40" height="2.40" fill="#fff" stroke="#52b8ca" stroke-width="0.6"/>
<rect x="323.75" y="245.69" width="2.40" height="2.40" fill="#fff" stroke="#52b8ca" stroke-width="0.6"/>
<rect x="327.70" y="243.38" width="2.40" height="2.40" fill="#fff" stroke="#52b8ca" stroke-width="0.6"/>
<rect x="331.88" y="241.10" width="2.40" height="2.40" fill="#fff" stroke="#52b8ca" stroke-width="0.6"/>
<rect x="336.38" y="238.87" width="2.40" height="2.40" fill="#fff" stroke="#52b8ca" stroke-width="0.6"/>
<rect x="340.96" y="236.66" width="2.40" height="2.40" fill="#fff" stroke="#52b8ca" stroke-width="0.6"/>
<rect x="345.98" y="234.53" width="2.40" height="2.40" fill="#fff" stroke="#52b8ca" stroke-width="0.6"/>
<rect x="351.10" y="232.41" width="2.40" height="2.40" fill="#fff" stroke="#52b8ca" stroke-width="0.6"/>
<rect x="356.21" y="230.29" width="2.40" height="2.40" fill="#fff" stroke="#52b8ca" stroke-width="0.6"/>
<rect x="361.45" y="228.20" width="2.40" height="2.40" fill="#fff" stroke="#52b8ca" stroke-width="0.6"/>
<rect x="366.72" y="226.12" width="2.40" height="2.40" fill="#fff" stroke="#52b8ca" stroke-width="0.6"/>
<rect x="371.92" y="224.02" width="2.40" height="2.40" fill="#fff" stroke="#52b8ca" stroke-width="0.6"/>
<rect x="377.07" y="221.91" width="2.40" height="2.40" fill="#fff" stroke="#52b8ca" stroke-width="0.6"/>
<rect x="382.22" y="219.80" width="2.40" height="2.40" fill="#fff" stroke="#52b8ca" stroke-width="0.6"/>
<rect x="387.43" y="217.71" width="2.40" height="2.40" fill="#fff" stroke="#52b8ca" stroke-width="0.6"/>
<rect x="393.80" y="215.89" width="2.40" height="2.40" fill="#fff" stroke="#52b8ca" stroke-width="0.6"/>
<rect x="400.17" y="214.07" width="2.40" height="2.40" fill="#fff" stroke="#52b8ca" stroke-width="0.6"/>
<rect x="406.54" y="212.26" width="2.40" height="2.40" fill="#fff" stroke="#52b8ca" stroke-width="0.6"/>
<rect x="412.98" y="210.46" width="2.40" height="2.40" fill="#fff" stroke="#52b8ca" stroke-width="0.6"/>
<rect x="419.64" y="208.73" width="2.40" height="2.40" fill="#fff" stroke="#52b8ca" stroke-width="0.6"/>
<rect x="426.29" y="207.00" width="2.40" height="2.40" fill="#fff" stroke="#52b8ca" stroke-width="0.6"/>
<rect x="432.95" y="205.27" width="2.40" height="2.40" fill="#fff" stroke="#52b8ca" stroke-width="0.6"/>
<rect x="439.60" y="203.54" width="2.40" height="2.40" fill="#fff" stroke="#52b8ca" stroke-width="0.6"/>
<rect x="446.25" y="201.81" width="2.40" height="2.40" fill="#fff" stroke="#52b8ca" stroke-width="0.6"/>
<rect x="452.90" y="200.07" width="2.40" height="2.40" fill="#fff" stroke="#52b8ca" stroke-width="0.6"/>
<rect x="459.55" y="198.34" width="2.40" height="2.40" fill="#fff" stroke="#52b8ca" stroke-width="0.6"/>
<rect x="466.15" y="196.59" width="2.40" height="2.40" fill="#fff" stroke="#52b8ca" stroke-width="0.6"/>
<rect x="472.76" y="194.85" width="2.40" height="2.40" fill="#fff" stroke="#52b8ca" stroke-width="0.6"/>
<rect x="479.36" y="193.10" width="2.40" height="2.40" fill="#fff" stroke="#52b8ca" stroke-width="0.6"/>
</g>
<g clip-path="url(#clipD)">
<polyline points="295.20,327.60 294.90,315.00 294.40,300.00 294.50,292.60 296.30,282.10 298.50,278.00 301.50,275.00 306.00,271.50 310.30,268.10 319.10,263.70 327.20,260.50 334.00,258.40 342.90,255.80 358.60,251.70 380.00,247.90 388.30,246.30 412.50,241.90 437.50,237.80 460.90,235.20 485.10,232.50" fill="none" stroke="#2b4596" stroke-width="1.3" stroke-linejoin="round" />
</g>
<g clip-path="url(#clipD)">
<polyline points="296.30,282.10 298.50,278.00 301.50,275.00 306.00,271.50 310.30,268.10 319.10,263.70 327.20,260.50 334.00,258.40 342.90,255.80 358.60,251.70 380.00,247.90 388.30,246.30 412.50,241.90 437.50,237.80 460.90,235.20 485.10,232.50" fill="none" stroke="#2b4596" stroke-width="0.01" stroke-linejoin="round" />
<rect x="295.10" y="280.90" width="2.40" height="2.40" fill="#fff" stroke="#2b4596" stroke-width="0.6"/>
<rect x="295.10" y="280.90" width="2.40" height="1.20" fill="#2b4596"/>
<rect x="296.46" y="278.36" width="2.40" height="2.40" fill="#fff" stroke="#2b4596" stroke-width="0.6"/>
<rect x="296.46" y="278.36" width="2.40" height="1.20" fill="#2b4596"/>
<rect x="298.26" y="275.84" width="2.40" height="2.40" fill="#fff" stroke="#2b4596" stroke-width="0.6"/>
<rect x="298.26" y="275.84" width="2.40" height="1.20" fill="#2b4596"/>
<rect x="300.84" y="273.38" width="2.40" height="2.40" fill="#fff" stroke="#2b4596" stroke-width="0.6"/>
<rect x="300.84" y="273.38" width="2.40" height="1.20" fill="#2b4596"/>
<rect x="303.94" y="270.97" width="2.40" height="2.40" fill="#fff" stroke="#2b4596" stroke-width="0.6"/>
<rect x="303.94" y="270.97" width="2.40" height="1.20" fill="#2b4596"/>
<rect x="307.01" y="268.55" width="2.40" height="2.40" fill="#fff" stroke="#2b4596" stroke-width="0.6"/>
<rect x="307.01" y="268.55" width="2.40" height="1.20" fill="#2b4596"/>
<rect x="310.52" y="266.19" width="2.40" height="2.40" fill="#fff" stroke="#2b4596" stroke-width="0.6"/>
<rect x="310.52" y="266.19" width="2.40" height="1.20" fill="#2b4596"/>
<rect x="314.98" y="263.96" width="2.40" height="2.40" fill="#fff" stroke="#2b4596" stroke-width="0.6"/>
<rect x="314.98" y="263.96" width="2.40" height="1.20" fill="#2b4596"/>
<rect x="319.73" y="261.78" width="2.40" height="2.40" fill="#fff" stroke="#2b4596" stroke-width="0.6"/>
<rect x="319.73" y="261.78" width="2.40" height="1.20" fill="#2b4596"/>
<rect x="325.00" y="259.69" width="2.40" height="2.40" fill="#fff" stroke="#2b4596" stroke-width="0.6"/>
<rect x="325.00" y="259.69" width="2.40" height="1.20" fill="#2b4596"/>
<rect x="330.96" y="257.77" width="2.40" height="2.40" fill="#fff" stroke="#2b4596" stroke-width="0.6"/>
<rect x="330.96" y="257.77" width="2.40" height="1.20" fill="#2b4596"/>
<rect x="337.20" y="255.92" width="2.40" height="2.40" fill="#fff" stroke="#2b4596" stroke-width="0.6"/>
<rect x="337.20" y="255.92" width="2.40" height="1.20" fill="#2b4596"/>
<rect x="343.59" y="254.11" width="2.40" height="2.40" fill="#fff" stroke="#2b4596" stroke-width="0.6"/>
<rect x="343.59" y="254.11" width="2.40" height="1.20" fill="#2b4596"/>
<rect x="350.23" y="252.37" width="2.40" height="2.40" fill="#fff" stroke="#2b4596" stroke-width="0.6"/>
<rect x="350.23" y="252.37" width="2.40" height="1.20" fill="#2b4596"/>
<rect x="356.87" y="250.64" width="2.40" height="2.40" fill="#fff" stroke="#2b4596" stroke-width="0.6"/>
<rect x="356.87" y="250.64" width="2.40" height="1.20" fill="#2b4596"/>
<rect x="364.44" y="249.25" width="2.40" height="2.40" fill="#fff" stroke="#2b4596" stroke-width="0.6"/>
<rect x="364.44" y="249.25" width="2.40" height="1.20" fill="#2b4596"/>
<rect x="372.08" y="247.89" width="2.40" height="2.40" fill="#fff" stroke="#2b4596" stroke-width="0.6"/>
<rect x="372.08" y="247.89" width="2.40" height="1.20" fill="#2b4596"/>
<rect x="379.70" y="246.53" width="2.40" height="2.40" fill="#fff" stroke="#2b4596" stroke-width="0.6"/>
<rect x="379.70" y="246.53" width="2.40" height="1.20" fill="#2b4596"/>
<rect x="387.17" y="245.09" width="2.40" height="2.40" fill="#fff" stroke="#2b4596" stroke-width="0.6"/>
<rect x="387.17" y="245.09" width="2.40" height="1.20" fill="#2b4596"/>
<rect x="394.76" y="243.71" width="2.40" height="2.40" fill="#fff" stroke="#2b4596" stroke-width="0.6"/>
<rect x="394.76" y="243.71" width="2.40" height="1.20" fill="#2b4596"/>
<rect x="402.35" y="242.33" width="2.40" height="2.40" fill="#fff" stroke="#2b4596" stroke-width="0.6"/>
<rect x="402.35" y="242.33" width="2.40" height="1.20" fill="#2b4596"/>
<rect x="409.95" y="240.95" width="2.40" height="2.40" fill="#fff" stroke="#2b4596" stroke-width="0.6"/>
<rect x="409.95" y="240.95" width="2.40" height="1.20" fill="#2b4596"/>
<rect x="417.71" y="239.65" width="2.40" height="2.40" fill="#fff" stroke="#2b4596" stroke-width="0.6"/>
<rect x="417.71" y="239.65" width="2.40" height="1.20" fill="#2b4596"/>
<rect x="425.52" y="238.37" width="2.40" height="2.40" fill="#fff" stroke="#2b4596" stroke-width="0.6"/>
<rect x="425.52" y="238.37" width="2.40" height="1.20" fill="#2b4596"/>
<rect x="433.32" y="237.09" width="2.40" height="2.40" fill="#fff" stroke="#2b4596" stroke-width="0.6"/>
<rect x="433.32" y="237.09" width="2.40" height="1.20" fill="#2b4596"/>
<rect x="441.49" y="236.02" width="2.40" height="2.40" fill="#fff" stroke="#2b4596" stroke-width="0.6"/>
<rect x="441.49" y="236.02" width="2.40" height="1.20" fill="#2b4596"/>
<rect x="449.88" y="235.09" width="2.40" height="2.40" fill="#fff" stroke="#2b4596" stroke-width="0.6"/>
<rect x="449.88" y="235.09" width="2.40" height="1.20" fill="#2b4596"/>
<rect x="458.27" y="234.16" width="2.40" height="2.40" fill="#fff" stroke="#2b4596" stroke-width="0.6"/>
<rect x="458.27" y="234.16" width="2.40" height="1.20" fill="#2b4596"/>
<rect x="466.65" y="233.22" width="2.40" height="2.40" fill="#fff" stroke="#2b4596" stroke-width="0.6"/>
<rect x="466.65" y="233.22" width="2.40" height="1.20" fill="#2b4596"/>
<rect x="475.03" y="232.29" width="2.40" height="2.40" fill="#fff" stroke="#2b4596" stroke-width="0.6"/>
<rect x="475.03" y="232.29" width="2.40" height="1.20" fill="#2b4596"/>
<rect x="483.42" y="231.35" width="2.40" height="2.40" fill="#fff" stroke="#2b4596" stroke-width="0.6"/>
<rect x="483.42" y="231.35" width="2.40" height="1.20" fill="#2b4596"/>
</g>
<line x1="352.80" y1="302.70" x2="365.40" y2="302.70" stroke="#2b4596" stroke-width="1.0" />
<rect x="357.70" y="301.30" width="2.80" height="2.80" fill="#fff" stroke="#2b4596" stroke-width="0.7"/>
<rect x="357.70" y="301.30" width="2.80" height="1.40" fill="#2b4596"/>
<text x="368.30" y="305.40" font-size="8.8" text-anchor="start" font-weight="normal" fill="#111" >Pt/C(-)||MV-S/Co(OH)<tspan dy="2" font-size="6">2</tspan><tspan dy="-2">&#8203;</tspan>/MI(+)</text>
<line x1="352.80" y1="315.60" x2="365.40" y2="315.60" stroke="#52b8ca" stroke-width="1.0" />
<rect x="357.70" y="314.20" width="2.80" height="2.80" fill="#fff" stroke="#52b8ca" stroke-width="0.7"/>
<text x="368.30" y="318.30" font-size="8.8" text-anchor="start" font-weight="normal" fill="#111" >Pt/C(-)||IrO<tspan dy="2" font-size="6">2</tspan><tspan dy="-2">&#8203;</tspan>(+)</text>
<text x="512.60" y="8.60" font-size="12" text-anchor="start" font-weight="bold" fill="#000" >e</text>
<rect x="541.4" y="1.8" width="142.6" height="327.4" fill="url(#gE)"/>
<rect x="541.4" y="1.8" width="142.6" height="327.4" fill="none" stroke="#7d8a8c" stroke-width="0.9"/>
<line x1="541.40" y1="281.20" x2="538.90" y2="281.20" stroke="#555" stroke-width="0.8" />
<text x="535.70" y="284.20" font-size="8.5" text-anchor="end" font-weight="normal" fill="#111" textLength="13.51" lengthAdjust="spacingAndGlyphs">200</text>
<line x1="541.40" y1="200.00" x2="538.90" y2="200.00" stroke="#555" stroke-width="0.8" />
<text x="535.70" y="203.00" font-size="8.5" text-anchor="end" font-weight="normal" fill="#111" textLength="13.51" lengthAdjust="spacingAndGlyphs">300</text>
<line x1="541.40" y1="118.80" x2="538.90" y2="118.80" stroke="#555" stroke-width="0.8" />
<text x="535.70" y="121.80" font-size="8.5" text-anchor="end" font-weight="normal" fill="#111" textLength="13.51" lengthAdjust="spacingAndGlyphs">400</text>
<line x1="541.40" y1="37.60" x2="538.90" y2="37.60" stroke="#555" stroke-width="0.8" />
<text x="535.70" y="40.60" font-size="8.5" text-anchor="end" font-weight="normal" fill="#111" textLength="13.51" lengthAdjust="spacingAndGlyphs">500</text>
<line x1="541.40" y1="321.80" x2="539.90" y2="321.80" stroke="#555" stroke-width="0.8" />
<line x1="541.40" y1="240.60" x2="539.90" y2="240.60" stroke="#555" stroke-width="0.8" />
<line x1="541.40" y1="159.40" x2="539.90" y2="159.40" stroke="#555" stroke-width="0.8" />
<line x1="541.40" y1="78.20" x2="539.90" y2="78.20" stroke="#555" stroke-width="0.8" />
<line x1="565.30" y1="329.20" x2="565.30" y2="331.70" stroke="#555" stroke-width="0.8" />
<text x="566.70" y="347.90" font-size="9.6" text-anchor="middle" font-weight="normal" fill="#111" textLength="18.8" lengthAdjust="spacingAndGlyphs">GCE</text>
<line x1="612.40" y1="329.20" x2="612.40" y2="331.70" stroke="#555" stroke-width="0.8" />
<text x="614.00" y="347.90" font-size="9.6" text-anchor="middle" font-weight="normal" fill="#111" textLength="13.3" lengthAdjust="spacingAndGlyphs">CC</text>
<line x1="660.40" y1="329.20" x2="660.40" y2="331.70" stroke="#555" stroke-width="0.8" />
<text x="662.00" y="347.90" font-size="9.6" text-anchor="middle" font-weight="normal" fill="#111" textLength="13.2" lengthAdjust="spacingAndGlyphs">NF</text>
<g transform="translate(518.0,162) rotate(-90)">
<text x="0.00" y="0.00" font-size="10.2" text-anchor="middle" font-weight="normal" fill="#111" >Overpotential (V)</text>
</g>
<circle cx="564.80" cy="93.80" r="3.1" fill="url(#sGCE)"/>
<circle cx="564.80" cy="96.90" r="3.1" fill="url(#sGCE)"/>
<circle cx="564.80" cy="102.30" r="3.1" fill="url(#sGCE)"/>
<circle cx="564.80" cy="110.10" r="3.1" fill="url(#sGCE)"/>
<circle cx="564.80" cy="116.40" r="3.1" fill="url(#sGCE)"/>
<circle cx="564.80" cy="125.80" r="3.1" fill="url(#sGCE)"/>
<circle cx="564.80" cy="128.90" r="3.1" fill="url(#sGCE)"/>
<circle cx="564.80" cy="134.60" r="3.1" fill="url(#sGCE)"/>
<circle cx="564.80" cy="143.00" r="3.1" fill="url(#sGCE)"/>
<circle cx="564.80" cy="156.50" r="3.1" fill="url(#sGCE)"/>
<circle cx="564.80" cy="163.40" r="3.1" fill="url(#sGCE)"/>
<circle cx="564.80" cy="167.20" r="3.1" fill="url(#sGCE)"/>
<circle cx="564.80" cy="174.40" r="3.1" fill="url(#sGCE)"/>
<circle cx="564.80" cy="177.50" r="3.1" fill="url(#sGCE)"/>
<circle cx="564.80" cy="180.70" r="3.1" fill="url(#sGCE)"/>
<circle cx="564.80" cy="184.80" r="3.1" fill="url(#sGCE)"/>
<circle cx="564.80" cy="190.10" r="3.1" fill="url(#sGCE)"/>
<circle cx="564.80" cy="193.20" r="3.1" fill="url(#sGCE)"/>
<circle cx="564.80" cy="197.30" r="3.1" fill="url(#sGCE)"/>
<circle cx="564.80" cy="201.10" r="3.1" fill="url(#sGCE)"/>
<circle cx="564.80" cy="205.80" r="3.1" fill="url(#sGCE)"/>
<circle cx="564.80" cy="209.90" r="3.1" fill="url(#sGCE)"/>
<circle cx="564.80" cy="215.20" r="3.1" fill="url(#sGCE)"/>
<circle cx="564.80" cy="217.40" r="3.1" fill="url(#sGCE)"/>
<circle cx="564.80" cy="235.60" r="3.1" fill="url(#sGCE)"/>
<circle cx="612.50" cy="175.80" r="3.1" fill="url(#sCC)"/>
<circle cx="612.50" cy="182.50" r="3.1" fill="url(#sCC)"/>
<circle cx="612.50" cy="190.80" r="3.1" fill="url(#sCC)"/>
<circle cx="612.50" cy="194.70" r="3.1" fill="url(#sCC)"/>
<circle cx="612.50" cy="208.40" r="3.1" fill="url(#sCC)"/>
<circle cx="612.50" cy="224.60" r="3.1" fill="url(#sCC)"/>
<circle cx="612.50" cy="228.00" r="3.1" fill="url(#sCC)"/>
<circle cx="612.50" cy="231.30" r="3.1" fill="url(#sCC)"/>
<circle cx="612.50" cy="234.60" r="3.1" fill="url(#sCC)"/>
<circle cx="612.50" cy="237.90" r="3.1" fill="url(#sCC)"/>
<circle cx="612.50" cy="241.90" r="3.1" fill="url(#sCC)"/>
<circle cx="612.50" cy="260.20" r="3.1" fill="url(#sCC)"/>
<circle cx="612.50" cy="291.70" r="3.1" fill="url(#sCC)"/>
<circle cx="659.80" cy="135.00" r="2.9" fill="url(#sNF)"/>
<circle cx="659.80" cy="183.80" r="2.9" fill="url(#sNF)"/>
<circle cx="659.80" cy="208.00" r="2.9" fill="url(#sNF)"/>
<circle cx="659.80" cy="214.70" r="2.9" fill="url(#sNF)"/>
<circle cx="659.80" cy="219.70" r="2.9" fill="url(#sNF)"/>
<circle cx="659.80" cy="223.00" r="2.9" fill="url(#sNF)"/>
<circle cx="659.80" cy="227.00" r="2.9" fill="url(#sNF)"/>
<circle cx="659.80" cy="233.00" r="2.9" fill="url(#sNF)"/>
<circle cx="659.80" cy="256.20" r="2.9" fill="url(#sNF)"/>
<circle cx="659.80" cy="264.50" r="2.9" fill="url(#sNF)"/>
<circle cx="659.80" cy="274.50" r="2.9" fill="url(#sNF)"/>
<polygon points="564.80,236.80 566.55,241.00 571.08,241.36 567.62,244.32 568.68,248.74 564.80,246.37 560.92,248.74 561.98,244.32 558.52,241.36 563.05,241.00" fill="#f0b2d4"/>
<polygon points="612.60,268.50 614.35,272.70 618.88,273.06 615.42,276.02 616.48,280.44 612.60,278.07 608.72,280.44 609.78,276.02 606.32,273.06 610.85,272.70" fill="#f0b2d4"/>
<polygon points="659.80,284.60 661.55,288.80 666.08,289.16 662.62,292.12 663.68,296.54 659.80,294.17 655.92,296.54 656.98,292.12 653.52,289.16 658.05,288.80" fill="#f0b2d4"/>
<text x="0.50" y="384.20" font-size="12" text-anchor="start" font-weight="bold" fill="#000" >f</text>
<line x1="31.20" y1="392.20" x2="684.30" y2="392.20" stroke="#c2c2c2" stroke-width="1.14" />
<line x1="684.30" y1="392.20" x2="684.30" y2="515.50" stroke="#808080" stroke-width="0.95" />
<line x1="31.20" y1="515.50" x2="684.30" y2="515.50" stroke="#808080" stroke-width="0.95" />
<line x1="31.20" y1="391.70" x2="31.20" y2="515.95" stroke="#707070" stroke-width="0.95" />
<line x1="31.40" y1="515.50" x2="31.40" y2="518.00" stroke="#555" stroke-width="0.8" />
<text x="31.40" y="526.00" font-size="8.7" text-anchor="middle" font-weight="normal" fill="#111" textLength="4.4" lengthAdjust="spacingAndGlyphs">0</text>
<line x1="136.76" y1="515.50" x2="136.76" y2="518.00" stroke="#555" stroke-width="0.8" />
<text x="136.76" y="526.00" font-size="8.7" text-anchor="middle" font-weight="normal" fill="#111" textLength="8.5" lengthAdjust="spacingAndGlyphs">50</text>
<line x1="242.13" y1="515.50" x2="242.13" y2="518.00" stroke="#555" stroke-width="0.8" />
<text x="242.13" y="526.00" font-size="8.7" text-anchor="middle" font-weight="normal" fill="#111" textLength="12.7" lengthAdjust="spacingAndGlyphs">100</text>
<line x1="347.49" y1="515.50" x2="347.49" y2="518.00" stroke="#555" stroke-width="0.8" />
<text x="347.49" y="526.00" font-size="8.7" text-anchor="middle" font-weight="normal" fill="#111" textLength="12.7" lengthAdjust="spacingAndGlyphs">150</text>
<line x1="452.86" y1="515.50" x2="452.86" y2="518.00" stroke="#555" stroke-width="0.8" />
<text x="452.86" y="526.00" font-size="8.7" text-anchor="middle" font-weight="normal" fill="#111" textLength="12.7" lengthAdjust="spacingAndGlyphs">200</text>
<line x1="558.22" y1="515.50" x2="558.22" y2="518.00" stroke="#555" stroke-width="0.8" />
<text x="558.22" y="526.00" font-size="8.7" text-anchor="middle" font-weight="normal" fill="#111" textLength="12.7" lengthAdjust="spacingAndGlyphs">250</text>
<line x1="663.59" y1="515.50" x2="663.59" y2="518.00" stroke="#555" stroke-width="0.8" />
<text x="663.59" y="526.00" font-size="8.7" text-anchor="middle" font-weight="normal" fill="#111" textLength="12.7" lengthAdjust="spacingAndGlyphs">300</text>
<line x1="84.08" y1="515.50" x2="84.08" y2="517.00" stroke="#555" stroke-width="0.8" />
<line x1="189.45" y1="515.50" x2="189.45" y2="517.00" stroke="#555" stroke-width="0.8" />
<line x1="294.81" y1="515.50" x2="294.81" y2="517.00" stroke="#555" stroke-width="0.8" />
<line x1="400.18" y1="515.50" x2="400.18" y2="517.00" stroke="#555" stroke-width="0.8" />
<line x1="505.54" y1="515.50" x2="505.54" y2="517.00" stroke="#555" stroke-width="0.8" />
<line x1="610.91" y1="515.50" x2="610.91" y2="517.00" stroke="#555" stroke-width="0.8" />
<line x1="31.20" y1="490.50" x2="28.70" y2="490.50" stroke="#555" stroke-width="0.8" />
<text x="25.20" y="493.10" font-size="7.8" text-anchor="end" font-weight="normal" fill="#111" textLength="8.90" lengthAdjust="spacingAndGlyphs">1.0</text>
<line x1="31.20" y1="429.10" x2="28.70" y2="429.10" stroke="#555" stroke-width="0.8" />
<text x="25.20" y="431.70" font-size="7.8" text-anchor="end" font-weight="normal" fill="#111" textLength="8.90" lengthAdjust="spacingAndGlyphs">1.5</text>
<line x1="31.20" y1="459.80" x2="29.70" y2="459.80" stroke="#555" stroke-width="0.8" />
<line x1="31.20" y1="398.40" x2="29.70" y2="398.40" stroke="#555" stroke-width="0.8" />
<text x="363.30" y="538.80" font-size="9.2" text-anchor="middle" font-weight="normal" fill="#111" >Time (h)</text>
<g transform="translate(13.3,455) rotate(-90)">
<text x="0.00" y="0.00" font-size="9.6" text-anchor="middle" font-weight="normal" fill="#111" ><tspan font-style="italic">j</tspan><tspan dy="2.1" font-size="6.2">geo</tspan><tspan dy="-2.1">&#8203;</tspan> (A·cm<tspan dy="-3.5" font-size="6.2">−2</tspan><tspan dy="3.5">&#8203;</tspan>)</text>
</g>
<g clip-path="url(#clipF)">
<polyline points="31.60,476.00 32.50,481.50 35.00,483.20 40.00,484.50 45.00,487.00 50.20,489.60 55.00,491.00 58.60,492.60 68.70,492.60 73.00,491.00 78.70,489.50 90.00,489.20 105.60,488.30 115.00,487.40 125.70,485.90 142.50,484.90 152.00,485.40 162.70,485.90 175.00,484.90 189.50,483.90 199.60,485.90 210.00,486.90 218.00,487.60 225.00,485.90 229.00,484.90 231.00,485.90 235.00,493.30 243.40,494.90 255.20,495.90 263.60,491.60 273.70,489.90 285.40,490.60 297.20,491.60 307.20,490.60 315.60,488.60 324.00,488.20 327.40,489.90 330.70,493.30 342.50,494.90 352.60,493.90 361.00,492.60 371.00,490.60 381.10,490.60 391.20,491.60 401.30,491.90 408.00,490.60 416.40,488.20 428.10,488.90 441.60,489.20 455.00,489.20 463.40,490.00 473.50,491.70 481.90,492.30 490.30,490.00 500.30,491.00 510.40,491.70 518.80,488.30 528.90,489.30 538.90,489.30 547.30,490.00 557.40,489.30 567.50,490.00 575.90,488.30 584.30,485.90 594.40,486.60 602.70,486.60 612.80,485.90 621.20,484.90 631.30,481.60 641.40,480.60 649.80,480.60 658.20,479.20 668.20,479.90 676.60,476.50 684.00,472.90" fill="none" stroke="#1f3b8e" stroke-width="2.6" stroke-linejoin="round" />
<rect x="28.63" y="470.00" width="5.4" height="4.8" fill="#fff" stroke="#2a4596" stroke-width="0.8"/>
<rect x="28.63" y="472.60" width="5.4" height="2.2" fill="#2a4596"/>
<rect x="38.00" y="481.95" width="5.4" height="4.8" fill="#fff" stroke="#2a4596" stroke-width="0.8"/>
<rect x="38.00" y="484.55" width="5.4" height="2.2" fill="#2a4596"/>
<rect x="47.37" y="486.64" width="5.4" height="4.8" fill="#fff" stroke="#2a4596" stroke-width="0.8"/>
<rect x="47.37" y="489.24" width="5.4" height="2.2" fill="#2a4596"/>
<rect x="56.74" y="489.70" width="5.4" height="4.8" fill="#fff" stroke="#2a4596" stroke-width="0.8"/>
<rect x="56.74" y="492.30" width="5.4" height="2.2" fill="#2a4596"/>
<rect x="66.11" y="489.66" width="5.4" height="4.8" fill="#fff" stroke="#2a4596" stroke-width="0.8"/>
<rect x="66.11" y="492.26" width="5.4" height="2.2" fill="#2a4596"/>
<rect x="75.48" y="486.74" width="5.4" height="4.8" fill="#fff" stroke="#2a4596" stroke-width="0.8"/>
<rect x="75.48" y="489.34" width="5.4" height="2.2" fill="#2a4596"/>
<rect x="84.85" y="486.37" width="5.4" height="4.8" fill="#fff" stroke="#2a4596" stroke-width="0.8"/>
<rect x="84.85" y="488.97" width="5.4" height="2.2" fill="#2a4596"/>
<rect x="94.22" y="485.90" width="5.4" height="4.8" fill="#fff" stroke="#2a4596" stroke-width="0.8"/>
<rect x="94.22" y="488.50" width="5.4" height="2.2" fill="#2a4596"/>
<rect x="103.59" y="485.33" width="5.4" height="4.8" fill="#fff" stroke="#2a4596" stroke-width="0.8"/>
<rect x="103.59" y="487.93" width="5.4" height="2.2" fill="#2a4596"/>
<rect x="112.96" y="484.41" width="5.4" height="4.8" fill="#fff" stroke="#2a4596" stroke-width="0.8"/>
<rect x="112.96" y="487.01" width="5.4" height="2.2" fill="#2a4596"/>
<rect x="122.33" y="483.09" width="5.4" height="4.8" fill="#fff" stroke="#2a4596" stroke-width="0.8"/>
<rect x="122.33" y="485.69" width="5.4" height="2.2" fill="#2a4596"/>
<rect x="131.70" y="482.48" width="5.4" height="4.8" fill="#fff" stroke="#2a4596" stroke-width="0.8"/>
<rect x="131.70" y="485.08" width="5.4" height="2.2" fill="#2a4596"/>
<rect x="141.07" y="482.07" width="5.4" height="4.8" fill="#fff" stroke="#2a4596" stroke-width="0.8"/>
<rect x="141.07" y="484.67" width="5.4" height="2.2" fill="#2a4596"/>
<rect x="150.44" y="482.55" width="5.4" height="4.8" fill="#fff" stroke="#2a4596" stroke-width="0.8"/>
<rect x="150.44" y="485.15" width="5.4" height="2.2" fill="#2a4596"/>
<rect x="159.81" y="482.99" width="5.4" height="4.8" fill="#fff" stroke="#2a4596" stroke-width="0.8"/>
<rect x="159.81" y="485.59" width="5.4" height="2.2" fill="#2a4596"/>
<rect x="169.18" y="482.25" width="5.4" height="4.8" fill="#fff" stroke="#2a4596" stroke-width="0.8"/>
<rect x="169.18" y="484.85" width="5.4" height="2.2" fill="#2a4596"/>
<rect x="178.55" y="481.57" width="5.4" height="4.8" fill="#fff" stroke="#2a4596" stroke-width="0.8"/>
<rect x="178.55" y="484.17" width="5.4" height="2.2" fill="#2a4596"/>
<rect x="187.92" y="481.22" width="5.4" height="4.8" fill="#fff" stroke="#2a4596" stroke-width="0.8"/>
<rect x="187.92" y="483.82" width="5.4" height="2.2" fill="#2a4596"/>
<rect x="197.29" y="483.04" width="5.4" height="4.8" fill="#fff" stroke="#2a4596" stroke-width="0.8"/>
<rect x="197.29" y="485.64" width="5.4" height="2.2" fill="#2a4596"/>
<rect x="206.66" y="483.94" width="5.4" height="4.8" fill="#fff" stroke="#2a4596" stroke-width="0.8"/>
<rect x="206.66" y="486.54" width="5.4" height="2.2" fill="#2a4596"/>
<rect x="216.03" y="484.52" width="5.4" height="4.8" fill="#fff" stroke="#2a4596" stroke-width="0.8"/>
<rect x="216.03" y="487.12" width="5.4" height="2.2" fill="#2a4596"/>
<rect x="225.40" y="482.22" width="5.4" height="4.8" fill="#fff" stroke="#2a4596" stroke-width="0.8"/>
<rect x="225.40" y="484.82" width="5.4" height="2.2" fill="#2a4596"/>
<rect x="234.77" y="490.87" width="5.4" height="4.8" fill="#fff" stroke="#2a4596" stroke-width="0.8"/>
<rect x="234.77" y="493.47" width="5.4" height="2.2" fill="#2a4596"/>
<rect x="244.14" y="492.29" width="5.4" height="4.8" fill="#fff" stroke="#2a4596" stroke-width="0.8"/>
<rect x="244.14" y="494.89" width="5.4" height="2.2" fill="#2a4596"/>
<rect x="253.51" y="492.48" width="5.4" height="4.8" fill="#fff" stroke="#2a4596" stroke-width="0.8"/>
<rect x="253.51" y="495.08" width="5.4" height="2.2" fill="#2a4596"/>
<rect x="262.88" y="488.37" width="5.4" height="4.8" fill="#fff" stroke="#2a4596" stroke-width="0.8"/>
<rect x="262.88" y="490.97" width="5.4" height="2.2" fill="#2a4596"/>
<rect x="272.25" y="487.07" width="5.4" height="4.8" fill="#fff" stroke="#2a4596" stroke-width="0.8"/>
<rect x="272.25" y="489.67" width="5.4" height="2.2" fill="#2a4596"/>
<rect x="281.62" y="487.64" width="5.4" height="4.8" fill="#fff" stroke="#2a4596" stroke-width="0.8"/>
<rect x="281.62" y="490.24" width="5.4" height="2.2" fill="#2a4596"/>
<rect x="290.99" y="488.40" width="5.4" height="4.8" fill="#fff" stroke="#2a4596" stroke-width="0.8"/>
<rect x="290.99" y="491.00" width="5.4" height="2.2" fill="#2a4596"/>
<rect x="300.36" y="488.11" width="5.4" height="4.8" fill="#fff" stroke="#2a4596" stroke-width="0.8"/>
<rect x="300.36" y="490.71" width="5.4" height="2.2" fill="#2a4596"/>
<rect x="309.73" y="486.45" width="5.4" height="4.8" fill="#fff" stroke="#2a4596" stroke-width="0.8"/>
<rect x="309.73" y="489.05" width="5.4" height="2.2" fill="#2a4596"/>
<rect x="319.10" y="485.40" width="5.4" height="4.8" fill="#fff" stroke="#2a4596" stroke-width="0.8"/>
<rect x="319.10" y="488.00" width="5.4" height="2.2" fill="#2a4596"/>
<rect x="328.47" y="490.46" width="5.4" height="4.8" fill="#fff" stroke="#2a4596" stroke-width="0.8"/>
<rect x="328.47" y="493.06" width="5.4" height="2.2" fill="#2a4596"/>
<rect x="337.84" y="491.73" width="5.4" height="4.8" fill="#fff" stroke="#2a4596" stroke-width="0.8"/>
<rect x="337.84" y="494.33" width="5.4" height="2.2" fill="#2a4596"/>
<rect x="347.21" y="491.27" width="5.4" height="4.8" fill="#fff" stroke="#2a4596" stroke-width="0.8"/>
<rect x="347.21" y="493.87" width="5.4" height="2.2" fill="#2a4596"/>
<rect x="356.58" y="489.97" width="5.4" height="4.8" fill="#fff" stroke="#2a4596" stroke-width="0.8"/>
<rect x="356.58" y="492.57" width="5.4" height="2.2" fill="#2a4596"/>
<rect x="365.95" y="488.17" width="5.4" height="4.8" fill="#fff" stroke="#2a4596" stroke-width="0.8"/>
<rect x="365.95" y="490.77" width="5.4" height="2.2" fill="#2a4596"/>
<rect x="375.32" y="487.70" width="5.4" height="4.8" fill="#fff" stroke="#2a4596" stroke-width="0.8"/>
<rect x="375.32" y="490.30" width="5.4" height="2.2" fill="#2a4596"/>
<rect x="384.69" y="488.32" width="5.4" height="4.8" fill="#fff" stroke="#2a4596" stroke-width="0.8"/>
<rect x="384.69" y="490.92" width="5.4" height="2.2" fill="#2a4596"/>
<rect x="394.06" y="488.87" width="5.4" height="4.8" fill="#fff" stroke="#2a4596" stroke-width="0.8"/>
<rect x="394.06" y="491.47" width="5.4" height="2.2" fill="#2a4596"/>
<rect x="403.43" y="488.06" width="5.4" height="4.8" fill="#fff" stroke="#2a4596" stroke-width="0.8"/>
<rect x="403.43" y="490.66" width="5.4" height="2.2" fill="#2a4596"/>
<rect x="412.80" y="485.56" width="5.4" height="4.8" fill="#fff" stroke="#2a4596" stroke-width="0.8"/>
<rect x="412.80" y="488.16" width="5.4" height="2.2" fill="#2a4596"/>
<rect x="422.17" y="485.81" width="5.4" height="4.8" fill="#fff" stroke="#2a4596" stroke-width="0.8"/>
<rect x="422.17" y="488.41" width="5.4" height="2.2" fill="#2a4596"/>
<rect x="431.54" y="486.14" width="5.4" height="4.8" fill="#fff" stroke="#2a4596" stroke-width="0.8"/>
<rect x="431.54" y="488.74" width="5.4" height="2.2" fill="#2a4596"/>
<rect x="440.91" y="486.30" width="5.4" height="4.8" fill="#fff" stroke="#2a4596" stroke-width="0.8"/>
<rect x="440.91" y="488.90" width="5.4" height="2.2" fill="#2a4596"/>
<rect x="450.28" y="486.30" width="5.4" height="4.8" fill="#fff" stroke="#2a4596" stroke-width="0.8"/>
<rect x="450.28" y="488.90" width="5.4" height="2.2" fill="#2a4596"/>
<rect x="459.65" y="487.00" width="5.4" height="4.8" fill="#fff" stroke="#2a4596" stroke-width="0.8"/>
<rect x="459.65" y="489.60" width="5.4" height="2.2" fill="#2a4596"/>
<rect x="469.02" y="488.50" width="5.4" height="4.8" fill="#fff" stroke="#2a4596" stroke-width="0.8"/>
<rect x="469.02" y="491.10" width="5.4" height="2.2" fill="#2a4596"/>
<rect x="478.39" y="489.34" width="5.4" height="4.8" fill="#fff" stroke="#2a4596" stroke-width="0.8"/>
<rect x="478.39" y="491.94" width="5.4" height="2.2" fill="#2a4596"/>
<rect x="487.76" y="487.12" width="5.4" height="4.8" fill="#fff" stroke="#2a4596" stroke-width="0.8"/>
<rect x="487.76" y="489.72" width="5.4" height="2.2" fill="#2a4596"/>
<rect x="497.13" y="488.05" width="5.4" height="4.8" fill="#fff" stroke="#2a4596" stroke-width="0.8"/>
<rect x="497.13" y="490.65" width="5.4" height="2.2" fill="#2a4596"/>
<rect x="506.50" y="488.72" width="5.4" height="4.8" fill="#fff" stroke="#2a4596" stroke-width="0.8"/>
<rect x="506.50" y="491.32" width="5.4" height="2.2" fill="#2a4596"/>
<rect x="515.87" y="485.49" width="5.4" height="4.8" fill="#fff" stroke="#2a4596" stroke-width="0.8"/>
<rect x="515.87" y="488.09" width="5.4" height="2.2" fill="#2a4596"/>
<rect x="525.24" y="486.30" width="5.4" height="4.8" fill="#fff" stroke="#2a4596" stroke-width="0.8"/>
<rect x="525.24" y="488.90" width="5.4" height="2.2" fill="#2a4596"/>
<rect x="534.61" y="486.40" width="5.4" height="4.8" fill="#fff" stroke="#2a4596" stroke-width="0.8"/>
<rect x="534.61" y="489.00" width="5.4" height="2.2" fill="#2a4596"/>
<rect x="543.98" y="487.05" width="5.4" height="4.8" fill="#fff" stroke="#2a4596" stroke-width="0.8"/>
<rect x="543.98" y="489.65" width="5.4" height="2.2" fill="#2a4596"/>
<rect x="553.35" y="486.49" width="5.4" height="4.8" fill="#fff" stroke="#2a4596" stroke-width="0.8"/>
<rect x="553.35" y="489.09" width="5.4" height="2.2" fill="#2a4596"/>
<rect x="562.72" y="486.96" width="5.4" height="4.8" fill="#fff" stroke="#2a4596" stroke-width="0.8"/>
<rect x="562.72" y="489.56" width="5.4" height="2.2" fill="#2a4596"/>
<rect x="572.09" y="485.62" width="5.4" height="4.8" fill="#fff" stroke="#2a4596" stroke-width="0.8"/>
<rect x="572.09" y="488.22" width="5.4" height="2.2" fill="#2a4596"/>
<rect x="581.46" y="483.04" width="5.4" height="4.8" fill="#fff" stroke="#2a4596" stroke-width="0.8"/>
<rect x="581.46" y="485.64" width="5.4" height="2.2" fill="#2a4596"/>
<rect x="590.83" y="483.64" width="5.4" height="4.8" fill="#fff" stroke="#2a4596" stroke-width="0.8"/>
<rect x="590.83" y="486.24" width="5.4" height="2.2" fill="#2a4596"/>
<rect x="600.20" y="483.69" width="5.4" height="4.8" fill="#fff" stroke="#2a4596" stroke-width="0.8"/>
<rect x="600.20" y="486.29" width="5.4" height="2.2" fill="#2a4596"/>
<rect x="609.57" y="483.04" width="5.4" height="4.8" fill="#fff" stroke="#2a4596" stroke-width="0.8"/>
<rect x="609.57" y="485.64" width="5.4" height="2.2" fill="#2a4596"/>
<rect x="618.94" y="481.86" width="5.4" height="4.8" fill="#fff" stroke="#2a4596" stroke-width="0.8"/>
<rect x="618.94" y="484.46" width="5.4" height="2.2" fill="#2a4596"/>
<rect x="628.31" y="478.79" width="5.4" height="4.8" fill="#fff" stroke="#2a4596" stroke-width="0.8"/>
<rect x="628.31" y="481.39" width="5.4" height="2.2" fill="#2a4596"/>
<rect x="637.68" y="477.80" width="5.4" height="4.8" fill="#fff" stroke="#2a4596" stroke-width="0.8"/>
<rect x="637.68" y="480.40" width="5.4" height="2.2" fill="#2a4596"/>
<rect x="647.05" y="477.70" width="5.4" height="4.8" fill="#fff" stroke="#2a4596" stroke-width="0.8"/>
<rect x="647.05" y="480.30" width="5.4" height="2.2" fill="#2a4596"/>
<rect x="656.42" y="476.36" width="5.4" height="4.8" fill="#fff" stroke="#2a4596" stroke-width="0.8"/>
<rect x="656.42" y="478.96" width="5.4" height="2.2" fill="#2a4596"/>
<rect x="665.79" y="476.88" width="5.4" height="4.8" fill="#fff" stroke="#2a4596" stroke-width="0.8"/>
<rect x="665.79" y="479.48" width="5.4" height="2.2" fill="#2a4596"/>
<rect x="675.16" y="472.99" width="5.4" height="4.8" fill="#fff" stroke="#2a4596" stroke-width="0.8"/>
<rect x="675.16" y="475.59" width="5.4" height="2.2" fill="#2a4596"/>
</g>
<line x1="49.20" y1="407.00" x2="67.60" y2="407.00" stroke="#1f3b8e" stroke-width="2.2" />
<rect x="55.7" y="404.2" width="5.4" height="4.8" fill="#fff" stroke="#2a4596" stroke-width="0.8"/>
<rect x="55.7" y="406.8" width="5.4" height="2.2" fill="#2a4596"/>
<text x="69.40" y="409.50" font-size="8" text-anchor="start" font-weight="normal" fill="#111" >MV-S/Co(OH)<tspan dy="1.7" font-size="5.3">2</tspan><tspan dy="-1.7">&#8203;</tspan>/MI||Pt/C @ 1.0 A·cm<tspan dy="-3.0" font-size="5.3">−2</tspan><tspan dy="3.0">&#8203;</tspan></text>
<defs><clipPath id="clipP"><rect x="253.6" y="397.2" width="175" height="78.4"/></clipPath><linearGradient id="gBg" x1="0" y1="0" x2="0" y2="1"><stop offset="0" stop-color="#e2e2e0"/><stop offset="0.16" stop-color="#ebebe9"/><stop offset="0.3" stop-color="#f3f3f1"/><stop offset="1" stop-color="#f7f7f5"/></linearGradient><linearGradient id="gMetal" x1="0" y1="0" x2="0.3" y2="1"><stop offset="0" stop-color="#a8a49a"/><stop offset="0.45" stop-color="#847f76"/><stop offset="1" stop-color="#5c5953"/></linearGradient><linearGradient id="gBlue" x1="0" y1="0" x2="0" y2="1"><stop offset="0" stop-color="#62b4ee"/><stop offset="1" stop-color="#3a92dc"/></linearGradient><linearGradient id="gHead" x1="0" y1="0" x2="1" y2="1"><stop offset="0" stop-color="#9c9a94"/><stop offset="1" stop-color="#5e5c58"/></linearGradient></defs>
<rect x="254.4" y="398.0" width="175.0" height="78.4" fill="#bdbdbd"/>
<g clip-path="url(#clipP)">
<rect x="253.6" y="397.2" width="175.0" height="78.4" fill="url(#gBg)"/>
<polygon points="254.2,403 266,398.6 305.5,398.6 306.5,449 298,451.5 254.2,451.5" fill="#f6f6f5"/>
<polygon points="298,419.6 306.5,410 306.5,449 298,451.5" fill="#e2e2e0"/>
<rect x="255.4" y="419.6" width="42.6" height="31.2" fill="#f8f8f7" stroke="#cfcfcd" stroke-width="0.5"/>
<path d="M266,417 L272.5,399.5 L303,399.5 L304,411 Q303,417.5 296,418.5 Z" fill="url(#gBlue)"/>
<polygon points="276.8,400.4 300.5,400.4 300.8,405.2 275.2,405.2" fill="#eef6fc"/>
<rect x="272.5" y="407" width="3.2" height="2.4" fill="#e0603c"/><rect x="277" y="407" width="3.2" height="2.4" fill="#f0a040"/><rect x="281.5" y="407" width="3.2" height="2.4" fill="#e85a50"/><rect x="286" y="407" width="3.2" height="2.4" fill="#f4f4f4"/>
<ellipse cx="280" cy="413.6" rx="7" ry="3.3" fill="#fbfbfb"/>
<rect x="259" y="424.6" width="30" height="23" rx="1.2" fill="#262626"/>
<rect x="260.8" y="429.3" width="22" height="17" fill="url(#gHead)"/>
<circle cx="271.8" cy="437.8" r="5" fill="none" stroke="#bcbab4" stroke-width="0.7"/>
<circle cx="275.8" cy="425" r="2" fill="#151515"/>
<rect x="284.5" y="427.5" width="4" height="19.5" fill="#1c1c1c"/>
<path d="M255,436 q3,5 6,6 M255,441 q2,3 5,4" stroke="#dcdcdc" stroke-width="1.2" fill="none"/>
<path d="M310,412 L310,437 q0,3 4,3 L327,440 q4,0 4,-3 L331,412 Z" fill="#e9eceb" fill-opacity="0.75" stroke="#c2c8c9" stroke-width="0.6"/>
<path d="M313,418 L313,436 M328,418 L328,436" stroke="#d8dcdc" stroke-width="0.8"/>
<ellipse cx="320.4" cy="411.2" rx="10.6" ry="4.2" fill="#fbfbfb" stroke="#cfcfcf" stroke-width="0.5"/>
<rect x="315.3" y="404.5" width="1.8" height="5.5" fill="#c8a060"/><rect x="322.7" y="404.5" width="1.8" height="5.5" fill="#c8a060"/>
<path d="M316,404.5 L317,397 M323.6,404.5 L324.5,397 M317,416 q-2,10 0,20 M323,416 q2,10 0,20" stroke="#f0f0f0" stroke-width="0.9" fill="none"/>
<path d="M345,416 L345,437 q0,3 4,3 L362,440 q4,0 4,-3 L366,416 Z" fill="#eaedec" fill-opacity="0.75" stroke="#c4cacb" stroke-width="0.6"/>
<ellipse cx="355.3" cy="415" rx="10.5" ry="4.2" fill="#fbfbfb" stroke="#cfcfcf" stroke-width="0.5"/>
<rect x="349.5" y="408" width="1.8" height="5.5" fill="#c8a060"/><rect x="357" y="408" width="1.8" height="5.5" fill="#c8a060"/>
<path d="M350.5,408 L352,397 M358,408 L359,397" stroke="#f0f0f0" stroke-width="0.9" fill="none"/>
<path d="M331,414 q10,-4 18,-10 q6,-5 14,-4 q4,1 5,2" stroke="#151515" stroke-width="0.9" fill="none"/>
<polygon points="370.5,401 400,399.8 409,404 418.5,416 418.5,440 411,443.5 372.5,443.5" fill="#f6f6f5"/>
<polygon points="411,420.3 418.5,416 418.5,440 411,443.5" fill="#dededc"/>
<rect x="373.8" y="420.3" width="37.2" height="23" fill="#f8f8f7" stroke="#cfcfcd" stroke-width="0.5"/>
<path d="M371.9,401 L398,401 L406.4,416.5 Q405,419 400,419 L375.7,419.5 Z" fill="url(#gBlue)"/>
<polygon points="374,402 395.5,402 397.5,406.2 374.6,406.2" fill="#eef6fc"/>
<rect x="378.5" y="408.5" width="3.2" height="2.4" fill="#e0603c"/><rect x="383" y="408.5" width="3.2" height="2.4" fill="#f0a040"/><rect x="387.5" y="408.5" width="3.2" height="2.4" fill="#e85a50"/><rect x="392" y="408.5" width="3.2" height="2.4" fill="#f4f4f4"/>
<ellipse cx="391.8" cy="415.7" rx="6.5" ry="2.8" fill="#fbfbfb"/>
<rect x="378.8" y="426.4" width="26.8" height="17.6" rx="1" fill="#2e2e2e"/>
<rect x="381" y="430" width="18" height="13" fill="#4a4a48"/>
<circle cx="393.4" cy="427.2" r="1.9" fill="#1f4fb0"/>
<polygon points="406.4,413.4 415.6,414 415.6,422.6 408,421" fill="#1e1e1e"/>
<rect x="415.6" y="420.3" width="12.5" height="13.8" fill="#e0e0de" stroke="#a8a8a8" stroke-width="0.5"/>
<rect x="417" y="424" width="9" height="2.5" fill="#9a9a9a"/>
<path d="M362,452 q20,10 40,4 q15,-5 22,-14" stroke="#e2e2e2" stroke-width="1.2" fill="none"/>
<path d="M300,447 q8,1 10,2.5 M300,456 q6,1 10,1" stroke="#e4e4e4" stroke-width="1.1" fill="none"/>
<rect x="310" y="448" width="15.3" height="3.2" rx="1" fill="#dcc696"/><rect x="310" y="455.6" width="15.3" height="3.2" rx="1" fill="#dcc696"/>
<rect x="354" y="447.5" width="10" height="3" rx="1" fill="#e6dcc0"/><rect x="354" y="455" width="10" height="3" rx="1" fill="#e6dcc0"/>
<rect x="325.3" y="437.2" width="29.2" height="31.5" fill="url(#gMetal)"/>
<rect x="325.3" y="437.2" width="29.2" height="2.6" fill="#bdb9b0"/>
<rect x="327.6" y="454.1" width="22.3" height="6.3" fill="#f6f8fc"/>
<text x="338.7" y="459.5" font-size="6.4" font-weight="bold" fill="#2a56b8" text-anchor="middle" style="stroke:none">LMEC</text>
<circle cx="328.5" cy="442.5" r="1.7" fill="#3a3a38" stroke="#9a968e" stroke-width="0.4"/>
<circle cx="351.5" cy="442.5" r="1.7" fill="#3a3a38" stroke="#9a968e" stroke-width="0.4"/>
<circle cx="328.5" cy="465.5" r="1.7" fill="#3a3a38" stroke="#9a968e" stroke-width="0.4"/>
<circle cx="351.5" cy="465.5" r="1.7" fill="#3a3a38" stroke="#9a968e" stroke-width="0.4"/>
<path d="M336,432.6 q25,-1.5 42,1 q16,3 25,10.5" stroke="#f2dc1c" stroke-width="2.4" fill="none"/>
<rect x="336" y="430.2" width="24" height="4.6" rx="1.6" fill="#f4e020"/>
<path d="M336,436.2 q30,0.5 44,5 q12,5 18,5 q14,-2 27,-11" stroke="#cf2626" stroke-width="1.5" fill="none"/>
<path d="M336,441.5 q25,0 42,3 q22,3 45,-6" stroke="#229a3c" stroke-width="2.2" fill="none"/>
<rect x="335.3" y="439.2" width="24" height="4.8" rx="1.6" fill="#2eb040"/>
<path d="M375.7,447.2 C382,449.5 386,451.5 391,451.8 C400,451.5 410,447 420,440" stroke="#1f4fc0" stroke-width="2.6" fill="none"/>
<path d="M404.1,453.3 L415.6,475.5" stroke="#6a5a4a" stroke-width="0.5" fill="none"/>
</g>
<rect x="253.6" y="397.2" width="175.0" height="78.4" fill="none" stroke="#cfcfcf" stroke-width="0.8"/>
<path d="M355.4,470.2 L320.4,470.2 L320.4,435.7 L355.4,435.7 L355.4,470.2" stroke="#2f4fa6" stroke-width="1.1" stroke-dasharray="3.6,2.6" fill="none"/>
<path d="M355.4,470.2 L475,470.2" stroke="#2f4fa6" stroke-width="1.1" stroke-dasharray="3.6,2.6" fill="none"/>
<path d="M355.4,435.7 L475,405" stroke="#2f4fa6" stroke-width="1.1" stroke-dasharray="3.6,2.6" fill="none"/>
<defs><linearGradient id="gPlate" x1="0" y1="0" x2="1" y2="0"><stop offset="0" stop-color="#c8c8c8"/><stop offset="1" stop-color="#a8a8a8"/></linearGradient><linearGradient id="gPlate2" x1="0" y1="0" x2="1" y2="0"><stop offset="0" stop-color="#a4a4a4"/><stop offset="0.5" stop-color="#9a9a9a"/><stop offset="1" stop-color="#858585"/></linearGradient><pattern id="pCu" width="2.2" height="2.2" patternUnits="userSpaceOnUse"><rect width="2.2" height="2.2" fill="#efbc98"/><circle cx="1.1" cy="1.1" r="0.75" fill="#c87a52"/></pattern><linearGradient id="gMem" x1="0" y1="0" x2="1" y2="1"><stop offset="0" stop-color="#c4d6f4"/><stop offset="1" stop-color="#b4cdee"/></linearGradient></defs>
<polygon points="481,410 484,408.5 484,459 481,458" fill="#8a8a8a"/>
<polygon points="484,408.5 511,407.8 511,454.5 484,459" fill="url(#gPlate)" stroke="#999" stroke-width="0.4"/>
<polygon points="481,410 484,408.5 511,407.8 508,406.8 483,407.3" fill="#dcdcdc"/>
<rect x="497.7" y="401.9" width="4.9" height="6.5" rx="1" fill="#c0c0c0" stroke="#999" stroke-width="0.4"/>
<rect x="475.5" y="414.5" width="7" height="3" rx="1" fill="#f0f0f0" stroke="#aaa" stroke-width="0.4"/>
<rect x="490.8" y="420.2" width="20" height="3.2" fill="#5a5a5a"/>
<rect x="491.6" y="421.0" width="19" height="1.5" fill="#d8d8d8"/>
<rect x="490.8" y="426.4" width="20" height="3.2" fill="#5a5a5a"/>
<rect x="491.6" y="427.2" width="19" height="1.5" fill="#d8d8d8"/>
<rect x="490.8" y="432.6" width="20" height="3.2" fill="#5a5a5a"/>
<rect x="491.6" y="433.4" width="19" height="1.5" fill="#d8d8d8"/>
<rect x="490.8" y="438.8" width="20" height="3.2" fill="#5a5a5a"/>
<rect x="491.6" y="439.6" width="19" height="1.5" fill="#d8d8d8"/>
<rect x="490.8" y="445.0" width="20" height="3.2" fill="#5a5a5a"/>
<rect x="491.6" y="445.8" width="19" height="1.5" fill="#d8d8d8"/>
<circle cx="488" cy="412.5" r="1.2" fill="#666"/><circle cx="488" cy="452.5" r="1.2" fill="#666"/>
<polygon points="510.2,408.2 538.7,409.6 538.7,456 510.2,460.9" fill="#dedede" stroke="#9a9a9a" stroke-width="0.5"/>
<polygon points="517.8,420 532.4,420 532.4,448.4 517.8,449.5" fill="#ffffff"/>
<circle cx="514" cy="412" r="1" fill="#888"/><circle cx="514" cy="456" r="1" fill="#888"/>
<polygon points="531.7,412.3 549.8,413.5 549.8,453 531.7,455" fill="url(#pCu)"/>
<polygon points="544,414 549.8,413.5 549.8,453 544,453.5" fill="#d8a0c8" fill-opacity="0.45"/>
<polygon points="544.9,406.8 569.5,408.5 569.5,461 544.9,464.3" fill="url(#gMem)" fill-opacity="0.9" stroke="#9ab8e0" stroke-width="0.5"/>
<polygon points="563.6,412.5 579.7,413.5 579.7,453 563.6,455" fill="url(#pCu)"/>
<polygon points="584,406 606,407.5 606,464 584,467.4" fill="#e4e4e4" stroke="#8a8a8a" stroke-width="0.6"/>
<polygon points="589,418 601,418.5 601,452 589,453.5" fill="#ffffff" stroke="#999" stroke-width="0.4"/>
<circle cx="587" cy="410" r="0.9" fill="#777"/><circle cx="603" cy="411" r="0.9" fill="#777"/><circle cx="587" cy="462" r="0.9" fill="#777"/><circle cx="603" cy="461" r="0.9" fill="#777"/>
<polygon points="617.7,407 621,405.5 621,470.5 617.7,471.8" fill="#d4d4d4"/>
<polygon points="621,405.5 639.6,407.5 639.6,463 621,470.5" fill="url(#gPlate2)" stroke="#888" stroke-width="0.4"/>
<rect x="626.5" y="398" width="3" height="8" rx="1" fill="#bbb" stroke="#888" stroke-width="0.4"/>
<rect x="615.5" y="461" width="6" height="7" rx="1.5" fill="#eee" stroke="#999" stroke-width="0.4"/>
<rect x="638" y="418" width="3" height="4" fill="#ddd"/>
</svg></body></html>
